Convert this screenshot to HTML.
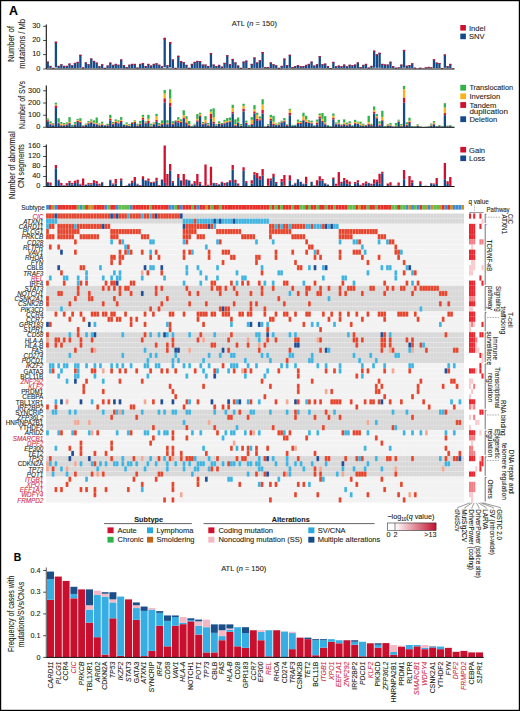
<!DOCTYPE html>
<html><head><meta charset="utf-8"><style>
html,body{margin:0;padding:0;background:#fff;}
body{width:520px;height:711px;overflow:hidden;font-family:"Liberation Sans", sans-serif;}
svg{display:block;}
</style></head><body>
<svg width="520" height="711" viewBox="0 0 520 711" font-family='"Liberation Sans", sans-serif'>
<rect x="0" y="0" width="520" height="711" fill="#fff"/>
<text x="9" y="14.7" font-size="12.4" fill="#000" stroke="#000" stroke-width="0.1" font-weight="bold" stroke="#000" stroke-width="0.45">A</text>
<text x="13.8" y="561.3" font-size="10.4" fill="#000" stroke="#000" stroke-width="0.1" font-weight="bold" stroke="#000" stroke-width="0.4">B</text>
<text x="231.7" y="26.3" font-size="7.2" fill="#231f20" stroke="#231f20" stroke-width="0.1" textLength="45.2" lengthAdjust="spacingAndGlyphs">ATL (<tspan font-style="italic">n</tspan> = 150)</text>
<line x1="46.3" y1="24.5" x2="46.3" y2="69" stroke="#111" stroke-width="1.1"/>
<line x1="43.1" y1="26.3" x2="46.3" y2="26.3" stroke="#231f20" stroke-width="0.8"/>
<text x="40.4" y="28.1" font-size="7.4" fill="#231f20" stroke="#231f20" stroke-width="0.1" text-anchor="end">30</text>
<line x1="43.1" y1="40.5" x2="46.3" y2="40.5" stroke="#231f20" stroke-width="0.8"/>
<text x="40.4" y="42.3" font-size="7.4" fill="#231f20" stroke="#231f20" stroke-width="0.1" text-anchor="end">20</text>
<line x1="43.1" y1="54.6" x2="46.3" y2="54.6" stroke="#231f20" stroke-width="0.8"/>
<text x="40.4" y="56.4" font-size="7.4" fill="#231f20" stroke="#231f20" stroke-width="0.1" text-anchor="end">10</text>
<line x1="43.1" y1="69" x2="46.3" y2="69" stroke="#231f20" stroke-width="0.8"/>
<text x="40.4" y="70.8" font-size="7.4" fill="#231f20" stroke="#231f20" stroke-width="0.1" text-anchor="end">0</text>
<rect x="46.6" y="61.6" width="2.3" height="6.47" fill="#154b88"/>
<rect x="46.6" y="61.6" width="2.3" height="0.93" fill="#d0102f"/>
<rect x="49.32" y="65.87" width="2.3" height="2.33" fill="#154b88"/>
<rect x="49.32" y="65.87" width="2.3" height="0.8" fill="#d0102f"/>
<rect x="52.04" y="67.86" width="2.3" height="0.4" fill="#154b88"/>
<rect x="52.04" y="67.86" width="2.3" height="0.74" fill="#d0102f"/>
<rect x="54.76" y="41.68" width="2.3" height="25.76" fill="#154b88"/>
<rect x="54.76" y="41.68" width="2.3" height="1.56" fill="#d0102f"/>
<rect x="57.48" y="65.87" width="2.3" height="2.33" fill="#154b88"/>
<rect x="57.48" y="65.87" width="2.3" height="0.8" fill="#d0102f"/>
<rect x="60.2" y="64.3" width="2.3" height="3.85" fill="#154b88"/>
<rect x="60.2" y="64.3" width="2.3" height="0.85" fill="#d0102f"/>
<rect x="62.92" y="65.87" width="2.3" height="2.33" fill="#154b88"/>
<rect x="62.92" y="65.87" width="2.3" height="0.8" fill="#d0102f"/>
<rect x="65.64" y="65.87" width="2.3" height="2.33" fill="#154b88"/>
<rect x="65.64" y="65.87" width="2.3" height="0.8" fill="#d0102f"/>
<rect x="68.36" y="63.59" width="2.3" height="4.54" fill="#154b88"/>
<rect x="68.36" y="63.59" width="2.3" height="0.87" fill="#d0102f"/>
<rect x="71.08" y="65.3" width="2.3" height="2.88" fill="#154b88"/>
<rect x="71.08" y="65.3" width="2.3" height="0.82" fill="#d0102f"/>
<rect x="73.8" y="62.88" width="2.3" height="5.23" fill="#154b88"/>
<rect x="73.8" y="62.88" width="2.3" height="0.89" fill="#d0102f"/>
<rect x="76.52" y="61.88" width="2.3" height="6.19" fill="#154b88"/>
<rect x="76.52" y="61.88" width="2.3" height="0.92" fill="#d0102f"/>
<rect x="79.24" y="54.77" width="2.3" height="13.08" fill="#154b88"/>
<rect x="79.24" y="54.77" width="2.3" height="1.15" fill="#d0102f"/>
<rect x="81.96" y="67.43" width="2.3" height="0.82" fill="#154b88"/>
<rect x="81.96" y="67.43" width="2.3" height="0.75" fill="#d0102f"/>
<rect x="84.68" y="62.45" width="2.3" height="5.64" fill="#154b88"/>
<rect x="84.68" y="62.45" width="2.3" height="0.91" fill="#d0102f"/>
<rect x="87.4" y="64.3" width="2.3" height="3.85" fill="#154b88"/>
<rect x="87.4" y="64.3" width="2.3" height="0.85" fill="#d0102f"/>
<rect x="90.12" y="58.47" width="2.3" height="9.5" fill="#154b88"/>
<rect x="90.12" y="58.47" width="2.3" height="1.03" fill="#d0102f"/>
<rect x="92.84" y="60.89" width="2.3" height="7.15" fill="#154b88"/>
<rect x="92.84" y="60.89" width="2.3" height="0.96" fill="#d0102f"/>
<rect x="95.56" y="62.6" width="2.3" height="5.5" fill="#154b88"/>
<rect x="95.56" y="62.6" width="2.3" height="0.9" fill="#d0102f"/>
<rect x="98.28" y="66.3" width="2.3" height="1.92" fill="#154b88"/>
<rect x="98.28" y="66.3" width="2.3" height="0.79" fill="#d0102f"/>
<rect x="101" y="64.3" width="2.3" height="3.85" fill="#154b88"/>
<rect x="101" y="64.3" width="2.3" height="0.85" fill="#d0102f"/>
<rect x="103.72" y="67.86" width="2.3" height="0.4" fill="#154b88"/>
<rect x="103.72" y="67.86" width="2.3" height="0.74" fill="#d0102f"/>
<rect x="106.44" y="65.58" width="2.3" height="2.61" fill="#154b88"/>
<rect x="106.44" y="65.58" width="2.3" height="0.81" fill="#d0102f"/>
<rect x="109.16" y="62.6" width="2.3" height="5.5" fill="#154b88"/>
<rect x="109.16" y="62.6" width="2.3" height="0.9" fill="#d0102f"/>
<rect x="111.88" y="64.87" width="2.3" height="3.3" fill="#154b88"/>
<rect x="111.88" y="64.87" width="2.3" height="0.83" fill="#d0102f"/>
<rect x="114.6" y="63.88" width="2.3" height="4.26" fill="#154b88"/>
<rect x="114.6" y="63.88" width="2.3" height="0.86" fill="#d0102f"/>
<rect x="117.32" y="64.73" width="2.3" height="3.43" fill="#154b88"/>
<rect x="117.32" y="64.73" width="2.3" height="0.83" fill="#d0102f"/>
<rect x="120.04" y="59.47" width="2.3" height="8.53" fill="#154b88"/>
<rect x="120.04" y="59.47" width="2.3" height="1" fill="#d0102f"/>
<rect x="122.76" y="65.16" width="2.3" height="3.02" fill="#154b88"/>
<rect x="122.76" y="65.16" width="2.3" height="0.82" fill="#d0102f"/>
<rect x="125.48" y="67.01" width="2.3" height="1.23" fill="#154b88"/>
<rect x="125.48" y="67.01" width="2.3" height="0.76" fill="#d0102f"/>
<rect x="128.2" y="64.73" width="2.3" height="3.43" fill="#154b88"/>
<rect x="128.2" y="64.73" width="2.3" height="0.83" fill="#d0102f"/>
<rect x="130.92" y="63.88" width="2.3" height="4.26" fill="#154b88"/>
<rect x="130.92" y="63.88" width="2.3" height="0.86" fill="#d0102f"/>
<rect x="133.64" y="63.88" width="2.3" height="4.26" fill="#154b88"/>
<rect x="133.64" y="63.88" width="2.3" height="0.86" fill="#d0102f"/>
<rect x="136.36" y="67.58" width="2.3" height="0.68" fill="#154b88"/>
<rect x="136.36" y="67.58" width="2.3" height="0.74" fill="#d0102f"/>
<rect x="139.08" y="63.88" width="2.3" height="4.26" fill="#154b88"/>
<rect x="139.08" y="63.88" width="2.3" height="0.86" fill="#d0102f"/>
<rect x="141.8" y="63.02" width="2.3" height="5.09" fill="#154b88"/>
<rect x="141.8" y="63.02" width="2.3" height="0.89" fill="#d0102f"/>
<rect x="144.52" y="66.01" width="2.3" height="2.19" fill="#154b88"/>
<rect x="144.52" y="66.01" width="2.3" height="0.79" fill="#d0102f"/>
<rect x="147.24" y="63.88" width="2.3" height="4.26" fill="#154b88"/>
<rect x="147.24" y="63.88" width="2.3" height="0.86" fill="#d0102f"/>
<rect x="149.96" y="65.58" width="2.3" height="2.61" fill="#154b88"/>
<rect x="149.96" y="65.58" width="2.3" height="0.81" fill="#d0102f"/>
<rect x="152.68" y="63.88" width="2.3" height="4.26" fill="#154b88"/>
<rect x="152.68" y="63.88" width="2.3" height="0.86" fill="#d0102f"/>
<rect x="155.4" y="63.31" width="2.3" height="4.81" fill="#154b88"/>
<rect x="155.4" y="63.31" width="2.3" height="0.88" fill="#d0102f"/>
<rect x="158.12" y="64.73" width="2.3" height="3.43" fill="#154b88"/>
<rect x="158.12" y="64.73" width="2.3" height="0.83" fill="#d0102f"/>
<rect x="160.84" y="66.3" width="2.3" height="1.92" fill="#154b88"/>
<rect x="160.84" y="66.3" width="2.3" height="0.79" fill="#d0102f"/>
<rect x="163.56" y="37.84" width="2.3" height="29.48" fill="#154b88"/>
<rect x="163.56" y="37.84" width="2.3" height="1.69" fill="#d0102f"/>
<rect x="166.28" y="65.3" width="2.3" height="2.88" fill="#154b88"/>
<rect x="166.28" y="65.3" width="2.3" height="0.82" fill="#d0102f"/>
<rect x="169" y="42.11" width="2.3" height="25.34" fill="#154b88"/>
<rect x="169" y="42.11" width="2.3" height="1.55" fill="#d0102f"/>
<rect x="171.72" y="59.47" width="2.3" height="8.53" fill="#154b88"/>
<rect x="171.72" y="59.47" width="2.3" height="1" fill="#d0102f"/>
<rect x="174.44" y="67.86" width="2.3" height="0.4" fill="#154b88"/>
<rect x="174.44" y="67.86" width="2.3" height="0.74" fill="#d0102f"/>
<rect x="177.16" y="55.77" width="2.3" height="12.12" fill="#154b88"/>
<rect x="177.16" y="55.77" width="2.3" height="1.12" fill="#d0102f"/>
<rect x="179.88" y="61.17" width="2.3" height="6.88" fill="#154b88"/>
<rect x="179.88" y="61.17" width="2.3" height="0.95" fill="#d0102f"/>
<rect x="182.6" y="62.17" width="2.3" height="5.91" fill="#154b88"/>
<rect x="182.6" y="62.17" width="2.3" height="0.92" fill="#d0102f"/>
<rect x="185.32" y="64.87" width="2.3" height="3.3" fill="#154b88"/>
<rect x="185.32" y="64.87" width="2.3" height="0.83" fill="#d0102f"/>
<rect x="188.04" y="67.86" width="2.3" height="0.4" fill="#154b88"/>
<rect x="188.04" y="67.86" width="2.3" height="0.74" fill="#d0102f"/>
<rect x="190.76" y="63.88" width="2.3" height="4.26" fill="#154b88"/>
<rect x="190.76" y="63.88" width="2.3" height="0.86" fill="#d0102f"/>
<rect x="193.48" y="61.88" width="2.3" height="6.19" fill="#154b88"/>
<rect x="193.48" y="61.88" width="2.3" height="0.92" fill="#d0102f"/>
<rect x="196.2" y="60.89" width="2.3" height="7.15" fill="#154b88"/>
<rect x="196.2" y="60.89" width="2.3" height="0.96" fill="#d0102f"/>
<rect x="198.92" y="61.17" width="2.3" height="6.88" fill="#154b88"/>
<rect x="198.92" y="61.17" width="2.3" height="0.95" fill="#d0102f"/>
<rect x="201.64" y="64.59" width="2.3" height="3.57" fill="#154b88"/>
<rect x="201.64" y="64.59" width="2.3" height="0.84" fill="#d0102f"/>
<rect x="204.36" y="64.59" width="2.3" height="3.57" fill="#154b88"/>
<rect x="204.36" y="64.59" width="2.3" height="0.84" fill="#d0102f"/>
<rect x="207.08" y="66.01" width="2.3" height="2.19" fill="#154b88"/>
<rect x="207.08" y="66.01" width="2.3" height="0.79" fill="#d0102f"/>
<rect x="209.8" y="53.06" width="2.3" height="14.73" fill="#154b88"/>
<rect x="209.8" y="53.06" width="2.3" height="1.2" fill="#d0102f"/>
<rect x="212.52" y="64.59" width="2.3" height="3.57" fill="#154b88"/>
<rect x="212.52" y="64.59" width="2.3" height="0.84" fill="#d0102f"/>
<rect x="215.24" y="66.01" width="2.3" height="2.19" fill="#154b88"/>
<rect x="215.24" y="66.01" width="2.3" height="0.79" fill="#d0102f"/>
<rect x="217.96" y="64.87" width="2.3" height="3.3" fill="#154b88"/>
<rect x="217.96" y="64.87" width="2.3" height="0.83" fill="#d0102f"/>
<rect x="220.68" y="66.58" width="2.3" height="1.64" fill="#154b88"/>
<rect x="220.68" y="66.58" width="2.3" height="0.78" fill="#d0102f"/>
<rect x="223.4" y="62.88" width="2.3" height="5.23" fill="#154b88"/>
<rect x="223.4" y="62.88" width="2.3" height="0.89" fill="#d0102f"/>
<rect x="226.12" y="55.2" width="2.3" height="12.67" fill="#154b88"/>
<rect x="226.12" y="55.2" width="2.3" height="1.14" fill="#d0102f"/>
<rect x="228.84" y="64.3" width="2.3" height="3.85" fill="#154b88"/>
<rect x="228.84" y="64.3" width="2.3" height="0.85" fill="#d0102f"/>
<rect x="231.56" y="58.9" width="2.3" height="9.08" fill="#154b88"/>
<rect x="231.56" y="58.9" width="2.3" height="1.02" fill="#d0102f"/>
<rect x="234.28" y="62.45" width="2.3" height="5.64" fill="#154b88"/>
<rect x="234.28" y="62.45" width="2.3" height="0.91" fill="#d0102f"/>
<rect x="237" y="65.58" width="2.3" height="2.61" fill="#154b88"/>
<rect x="237" y="65.58" width="2.3" height="0.81" fill="#d0102f"/>
<rect x="239.72" y="67.86" width="2.3" height="0.4" fill="#154b88"/>
<rect x="239.72" y="67.86" width="2.3" height="0.74" fill="#d0102f"/>
<rect x="242.44" y="61.6" width="2.3" height="6.47" fill="#154b88"/>
<rect x="242.44" y="61.6" width="2.3" height="0.93" fill="#d0102f"/>
<rect x="245.16" y="60.6" width="2.3" height="7.43" fill="#154b88"/>
<rect x="245.16" y="60.6" width="2.3" height="0.97" fill="#d0102f"/>
<rect x="247.88" y="68.29" width="2.3" height="0.71" fill="#d0102f"/>
<rect x="250.6" y="63.88" width="2.3" height="4.26" fill="#154b88"/>
<rect x="250.6" y="63.88" width="2.3" height="0.86" fill="#d0102f"/>
<rect x="253.32" y="57.47" width="2.3" height="10.46" fill="#154b88"/>
<rect x="253.32" y="57.47" width="2.3" height="1.06" fill="#d0102f"/>
<rect x="256.04" y="62.45" width="2.3" height="5.64" fill="#154b88"/>
<rect x="256.04" y="62.45" width="2.3" height="0.91" fill="#d0102f"/>
<rect x="258.76" y="60.18" width="2.3" height="7.84" fill="#154b88"/>
<rect x="258.76" y="60.18" width="2.3" height="0.98" fill="#d0102f"/>
<rect x="261.48" y="52.07" width="2.3" height="15.7" fill="#154b88"/>
<rect x="261.48" y="52.07" width="2.3" height="1.24" fill="#d0102f"/>
<rect x="264.2" y="67.01" width="2.3" height="1.23" fill="#154b88"/>
<rect x="264.2" y="67.01" width="2.3" height="0.76" fill="#d0102f"/>
<rect x="266.92" y="67.01" width="2.3" height="1.23" fill="#154b88"/>
<rect x="266.92" y="67.01" width="2.3" height="0.76" fill="#d0102f"/>
<rect x="269.64" y="62.45" width="2.3" height="5.64" fill="#154b88"/>
<rect x="269.64" y="62.45" width="2.3" height="0.91" fill="#d0102f"/>
<rect x="272.36" y="64.3" width="2.3" height="3.85" fill="#154b88"/>
<rect x="272.36" y="64.3" width="2.3" height="0.85" fill="#d0102f"/>
<rect x="275.08" y="65.3" width="2.3" height="2.88" fill="#154b88"/>
<rect x="275.08" y="65.3" width="2.3" height="0.82" fill="#d0102f"/>
<rect x="277.8" y="67.86" width="2.3" height="0.4" fill="#154b88"/>
<rect x="277.8" y="67.86" width="2.3" height="0.74" fill="#d0102f"/>
<rect x="280.52" y="65.87" width="2.3" height="2.33" fill="#154b88"/>
<rect x="280.52" y="65.87" width="2.3" height="0.8" fill="#d0102f"/>
<rect x="283.24" y="58.61" width="2.3" height="9.36" fill="#154b88"/>
<rect x="283.24" y="58.61" width="2.3" height="1.03" fill="#d0102f"/>
<rect x="285.96" y="65.16" width="2.3" height="3.02" fill="#154b88"/>
<rect x="285.96" y="65.16" width="2.3" height="0.82" fill="#d0102f"/>
<rect x="288.68" y="54.77" width="2.3" height="13.08" fill="#154b88"/>
<rect x="288.68" y="54.77" width="2.3" height="1.15" fill="#d0102f"/>
<rect x="291.4" y="67.01" width="2.3" height="1.23" fill="#154b88"/>
<rect x="291.4" y="67.01" width="2.3" height="0.76" fill="#d0102f"/>
<rect x="294.12" y="66.01" width="2.3" height="2.19" fill="#154b88"/>
<rect x="294.12" y="66.01" width="2.3" height="0.79" fill="#d0102f"/>
<rect x="296.84" y="65.16" width="2.3" height="3.02" fill="#154b88"/>
<rect x="296.84" y="65.16" width="2.3" height="0.82" fill="#d0102f"/>
<rect x="299.56" y="66.3" width="2.3" height="1.92" fill="#154b88"/>
<rect x="299.56" y="66.3" width="2.3" height="0.79" fill="#d0102f"/>
<rect x="302.28" y="66.01" width="2.3" height="2.19" fill="#154b88"/>
<rect x="302.28" y="66.01" width="2.3" height="0.79" fill="#d0102f"/>
<rect x="305" y="64.87" width="2.3" height="3.3" fill="#154b88"/>
<rect x="305" y="64.87" width="2.3" height="0.83" fill="#d0102f"/>
<rect x="307.72" y="63.88" width="2.3" height="4.26" fill="#154b88"/>
<rect x="307.72" y="63.88" width="2.3" height="0.86" fill="#d0102f"/>
<rect x="310.44" y="61.6" width="2.3" height="6.47" fill="#154b88"/>
<rect x="310.44" y="61.6" width="2.3" height="0.93" fill="#d0102f"/>
<rect x="313.16" y="65.58" width="2.3" height="2.61" fill="#154b88"/>
<rect x="313.16" y="65.58" width="2.3" height="0.81" fill="#d0102f"/>
<rect x="315.88" y="64.3" width="2.3" height="3.85" fill="#154b88"/>
<rect x="315.88" y="64.3" width="2.3" height="0.85" fill="#d0102f"/>
<rect x="318.6" y="56.19" width="2.3" height="11.7" fill="#154b88"/>
<rect x="318.6" y="56.19" width="2.3" height="1.1" fill="#d0102f"/>
<rect x="321.32" y="64.3" width="2.3" height="3.85" fill="#154b88"/>
<rect x="321.32" y="64.3" width="2.3" height="0.85" fill="#d0102f"/>
<rect x="324.04" y="63.59" width="2.3" height="4.54" fill="#154b88"/>
<rect x="324.04" y="63.59" width="2.3" height="0.87" fill="#d0102f"/>
<rect x="326.76" y="66.01" width="2.3" height="2.19" fill="#154b88"/>
<rect x="326.76" y="66.01" width="2.3" height="0.79" fill="#d0102f"/>
<rect x="329.48" y="68.29" width="2.3" height="0.71" fill="#d0102f"/>
<rect x="332.2" y="61.88" width="2.3" height="6.19" fill="#154b88"/>
<rect x="332.2" y="61.88" width="2.3" height="0.92" fill="#d0102f"/>
<rect x="334.92" y="66.3" width="2.3" height="1.92" fill="#154b88"/>
<rect x="334.92" y="66.3" width="2.3" height="0.79" fill="#d0102f"/>
<rect x="337.64" y="65.58" width="2.3" height="2.61" fill="#154b88"/>
<rect x="337.64" y="65.58" width="2.3" height="0.81" fill="#d0102f"/>
<rect x="340.36" y="66.3" width="2.3" height="1.92" fill="#154b88"/>
<rect x="340.36" y="66.3" width="2.3" height="0.79" fill="#d0102f"/>
<rect x="343.08" y="64.59" width="2.3" height="3.57" fill="#154b88"/>
<rect x="343.08" y="64.59" width="2.3" height="0.84" fill="#d0102f"/>
<rect x="345.8" y="66.3" width="2.3" height="1.92" fill="#154b88"/>
<rect x="345.8" y="66.3" width="2.3" height="0.79" fill="#d0102f"/>
<rect x="348.52" y="64.73" width="2.3" height="3.43" fill="#154b88"/>
<rect x="348.52" y="64.73" width="2.3" height="0.83" fill="#d0102f"/>
<rect x="351.24" y="65.3" width="2.3" height="2.88" fill="#154b88"/>
<rect x="351.24" y="65.3" width="2.3" height="0.82" fill="#d0102f"/>
<rect x="353.96" y="64.59" width="2.3" height="3.57" fill="#154b88"/>
<rect x="353.96" y="64.59" width="2.3" height="0.84" fill="#d0102f"/>
<rect x="356.68" y="62.45" width="2.3" height="5.64" fill="#154b88"/>
<rect x="356.68" y="62.45" width="2.3" height="0.91" fill="#d0102f"/>
<rect x="359.4" y="67.01" width="2.3" height="1.23" fill="#154b88"/>
<rect x="359.4" y="67.01" width="2.3" height="0.76" fill="#d0102f"/>
<rect x="362.12" y="64.87" width="2.3" height="3.3" fill="#154b88"/>
<rect x="362.12" y="64.87" width="2.3" height="0.83" fill="#d0102f"/>
<rect x="364.84" y="63.88" width="2.3" height="4.26" fill="#154b88"/>
<rect x="364.84" y="63.88" width="2.3" height="0.86" fill="#d0102f"/>
<rect x="367.56" y="67.58" width="2.3" height="0.68" fill="#154b88"/>
<rect x="367.56" y="67.58" width="2.3" height="0.74" fill="#d0102f"/>
<rect x="370.28" y="65.87" width="2.3" height="2.33" fill="#154b88"/>
<rect x="370.28" y="65.87" width="2.3" height="0.8" fill="#d0102f"/>
<rect x="373" y="50.64" width="2.3" height="17.08" fill="#154b88"/>
<rect x="373" y="50.64" width="2.3" height="1.28" fill="#d0102f"/>
<rect x="375.72" y="54.34" width="2.3" height="13.49" fill="#154b88"/>
<rect x="375.72" y="54.34" width="2.3" height="1.16" fill="#d0102f"/>
<rect x="378.44" y="52.78" width="2.3" height="15.01" fill="#154b88"/>
<rect x="378.44" y="52.78" width="2.3" height="1.21" fill="#d0102f"/>
<rect x="381.16" y="63.88" width="2.3" height="4.26" fill="#154b88"/>
<rect x="381.16" y="63.88" width="2.3" height="0.86" fill="#d0102f"/>
<rect x="383.88" y="64.45" width="2.3" height="3.71" fill="#154b88"/>
<rect x="383.88" y="64.45" width="2.3" height="0.84" fill="#d0102f"/>
<rect x="386.6" y="64.59" width="2.3" height="3.57" fill="#154b88"/>
<rect x="386.6" y="64.59" width="2.3" height="0.84" fill="#d0102f"/>
<rect x="389.32" y="61.74" width="2.3" height="6.33" fill="#154b88"/>
<rect x="389.32" y="61.74" width="2.3" height="0.93" fill="#d0102f"/>
<rect x="392.04" y="66.15" width="2.3" height="2.06" fill="#154b88"/>
<rect x="392.04" y="66.15" width="2.3" height="0.79" fill="#d0102f"/>
<rect x="394.76" y="67.72" width="2.3" height="0.54" fill="#154b88"/>
<rect x="394.76" y="67.72" width="2.3" height="0.74" fill="#d0102f"/>
<rect x="397.48" y="67.43" width="2.3" height="0.82" fill="#154b88"/>
<rect x="397.48" y="67.43" width="2.3" height="0.75" fill="#d0102f"/>
<rect x="400.2" y="64.59" width="2.3" height="3.57" fill="#154b88"/>
<rect x="400.2" y="64.59" width="2.3" height="0.84" fill="#d0102f"/>
<rect x="402.92" y="49.93" width="2.3" height="17.77" fill="#154b88"/>
<rect x="402.92" y="49.93" width="2.3" height="1.3" fill="#d0102f"/>
<rect x="405.64" y="65.73" width="2.3" height="2.47" fill="#154b88"/>
<rect x="405.64" y="65.73" width="2.3" height="0.8" fill="#d0102f"/>
<rect x="408.36" y="65.02" width="2.3" height="3.16" fill="#154b88"/>
<rect x="408.36" y="65.02" width="2.3" height="0.83" fill="#d0102f"/>
<rect x="411.08" y="63.31" width="2.3" height="4.81" fill="#154b88"/>
<rect x="411.08" y="63.31" width="2.3" height="0.88" fill="#d0102f"/>
<rect x="413.8" y="67.72" width="2.3" height="0.54" fill="#154b88"/>
<rect x="413.8" y="67.72" width="2.3" height="0.74" fill="#d0102f"/>
<rect x="416.52" y="68.72" width="2.3" height="0.28" fill="#d0102f"/>
<rect x="419.24" y="67.72" width="2.3" height="0.54" fill="#154b88"/>
<rect x="419.24" y="67.72" width="2.3" height="0.74" fill="#d0102f"/>
<rect x="421.96" y="68.72" width="2.3" height="0.28" fill="#d0102f"/>
<rect x="424.68" y="67.43" width="2.3" height="0.82" fill="#154b88"/>
<rect x="424.68" y="67.43" width="2.3" height="0.75" fill="#d0102f"/>
<rect x="427.4" y="66.87" width="2.3" height="1.37" fill="#154b88"/>
<rect x="427.4" y="66.87" width="2.3" height="0.77" fill="#d0102f"/>
<rect x="430.12" y="67.43" width="2.3" height="0.82" fill="#154b88"/>
<rect x="430.12" y="67.43" width="2.3" height="0.75" fill="#d0102f"/>
<rect x="432.84" y="59.32" width="2.3" height="8.67" fill="#154b88"/>
<rect x="432.84" y="59.32" width="2.3" height="1.01" fill="#d0102f"/>
<rect x="435.56" y="62.6" width="2.3" height="5.5" fill="#154b88"/>
<rect x="435.56" y="62.6" width="2.3" height="0.9" fill="#d0102f"/>
<rect x="438.28" y="63.02" width="2.3" height="5.09" fill="#154b88"/>
<rect x="438.28" y="63.02" width="2.3" height="0.89" fill="#d0102f"/>
<rect x="441" y="68.15" width="2.3" height="0.13" fill="#154b88"/>
<rect x="441" y="68.15" width="2.3" height="0.73" fill="#d0102f"/>
<rect x="443.72" y="54.49" width="2.3" height="13.36" fill="#154b88"/>
<rect x="443.72" y="54.49" width="2.3" height="1.16" fill="#d0102f"/>
<rect x="446.44" y="66.15" width="2.3" height="2.06" fill="#154b88"/>
<rect x="446.44" y="66.15" width="2.3" height="0.79" fill="#d0102f"/>
<rect x="449.16" y="63.88" width="2.3" height="4.26" fill="#154b88"/>
<rect x="449.16" y="63.88" width="2.3" height="0.86" fill="#d0102f"/>
<rect x="451.88" y="68.43" width="2.3" height="0.57" fill="#d0102f"/>
<line x1="46.3" y1="69" x2="454.6" y2="69" stroke="#111" stroke-width="1"/>
<text x="14.4" y="44" font-size="9" fill="#231f20" stroke="#231f20" stroke-width="0.1" text-anchor="middle" textLength="35.5" lengthAdjust="spacingAndGlyphs" transform="rotate(-90 14.4 44)">Number of</text>
<text x="25.2" y="43.8" font-size="9" fill="#231f20" stroke="#231f20" stroke-width="0.1" text-anchor="middle" textLength="49.7" lengthAdjust="spacingAndGlyphs" transform="rotate(-90 25.2 43.8)">mutations / Mb</text>
<rect x="460.3" y="25" width="5.6" height="5.6" fill="#d0102f"/>
<text x="469" y="30.7" font-size="7.6" fill="#231f20" stroke="#231f20" stroke-width="0.1">Indel</text>
<rect x="460.3" y="33.6" width="5.6" height="5.6" fill="#154b88"/>
<text x="469" y="39.3" font-size="7.6" fill="#231f20" stroke="#231f20" stroke-width="0.1">SNV</text>
<line x1="46.3" y1="85.5" x2="46.3" y2="127.3" stroke="#111" stroke-width="1.1"/>
<line x1="43.1" y1="90.75" x2="46.3" y2="90.75" stroke="#231f20" stroke-width="0.8"/>
<text x="40.4" y="92.55" font-size="7.4" fill="#231f20" stroke="#231f20" stroke-width="0.1" text-anchor="end">300</text>
<line x1="43.1" y1="103" x2="46.3" y2="103" stroke="#231f20" stroke-width="0.8"/>
<text x="40.4" y="104.8" font-size="7.4" fill="#231f20" stroke="#231f20" stroke-width="0.1" text-anchor="end">200</text>
<line x1="43.1" y1="115.25" x2="46.3" y2="115.25" stroke="#231f20" stroke-width="0.8"/>
<text x="40.4" y="117.05" font-size="7.4" fill="#231f20" stroke="#231f20" stroke-width="0.1" text-anchor="end">100</text>
<line x1="43.1" y1="127.3" x2="46.3" y2="127.3" stroke="#231f20" stroke-width="0.8"/>
<text x="40.4" y="129.1" font-size="7.4" fill="#231f20" stroke="#231f20" stroke-width="0.1" text-anchor="end">0</text>
<rect x="46.6" y="121.3" width="2.3" height="6" fill="#154b88"/>
<rect x="46.6" y="120.19" width="2.3" height="1.1" fill="#d0102f"/>
<rect x="46.6" y="119.58" width="2.3" height="0.61" fill="#f8b319"/>
<rect x="46.6" y="118.48" width="2.3" height="1.1" fill="#2fb24a"/>
<rect x="49.32" y="124.36" width="2.3" height="2.94" fill="#154b88"/>
<rect x="49.32" y="123.5" width="2.3" height="0.86" fill="#d0102f"/>
<rect x="49.32" y="123.01" width="2.3" height="0.49" fill="#f8b319"/>
<rect x="49.32" y="121.3" width="2.3" height="1.71" fill="#2fb24a"/>
<rect x="52.04" y="125.34" width="2.3" height="1.96" fill="#154b88"/>
<rect x="52.04" y="124.36" width="2.3" height="0.98" fill="#d0102f"/>
<rect x="52.04" y="123.75" width="2.3" height="0.61" fill="#f8b319"/>
<rect x="52.04" y="123.01" width="2.3" height="0.73" fill="#2fb24a"/>
<rect x="54.76" y="107.94" width="2.3" height="19.36" fill="#154b88"/>
<rect x="54.76" y="105.5" width="2.3" height="2.45" fill="#d0102f"/>
<rect x="54.76" y="104.39" width="2.3" height="1.1" fill="#f8b319"/>
<rect x="54.76" y="102.68" width="2.3" height="1.71" fill="#2fb24a"/>
<rect x="57.48" y="123.5" width="2.3" height="3.8" fill="#154b88"/>
<rect x="57.48" y="122.77" width="2.3" height="0.73" fill="#d0102f"/>
<rect x="57.48" y="122.4" width="2.3" height="0.37" fill="#f8b319"/>
<rect x="57.48" y="118.23" width="2.3" height="4.17" fill="#2fb24a"/>
<rect x="60.2" y="125.83" width="2.3" height="1.47" fill="#154b88"/>
<rect x="60.2" y="125.09" width="2.3" height="0.73" fill="#d0102f"/>
<rect x="60.2" y="123.75" width="2.3" height="1.35" fill="#f8b319"/>
<rect x="60.2" y="122.03" width="2.3" height="1.71" fill="#2fb24a"/>
<rect x="62.92" y="125.83" width="2.3" height="1.47" fill="#154b88"/>
<rect x="62.92" y="125.09" width="2.3" height="0.73" fill="#d0102f"/>
<rect x="62.92" y="124.36" width="2.3" height="0.73" fill="#f8b319"/>
<rect x="62.92" y="123.01" width="2.3" height="1.35" fill="#2fb24a"/>
<rect x="65.64" y="125.09" width="2.3" height="2.21" fill="#154b88"/>
<rect x="65.64" y="124.36" width="2.3" height="0.73" fill="#d0102f"/>
<rect x="65.64" y="123.75" width="2.3" height="0.61" fill="#f8b319"/>
<rect x="65.64" y="122.4" width="2.3" height="1.35" fill="#2fb24a"/>
<rect x="68.36" y="123.99" width="2.3" height="3.31" fill="#154b88"/>
<rect x="68.36" y="123.01" width="2.3" height="0.98" fill="#d0102f"/>
<rect x="68.36" y="122.03" width="2.3" height="0.98" fill="#f8b319"/>
<rect x="68.36" y="117.13" width="2.3" height="4.9" fill="#2fb24a"/>
<rect x="71.08" y="126.44" width="2.3" height="0.86" fill="#154b88"/>
<rect x="71.08" y="124.85" width="2.3" height="1.59" fill="#2fb24a"/>
<rect x="73.8" y="125.09" width="2.3" height="2.21" fill="#154b88"/>
<rect x="73.8" y="124.36" width="2.3" height="0.73" fill="#d0102f"/>
<rect x="73.8" y="123.75" width="2.3" height="0.61" fill="#f8b319"/>
<rect x="73.8" y="122.03" width="2.3" height="1.71" fill="#2fb24a"/>
<rect x="76.52" y="122.03" width="2.3" height="5.27" fill="#154b88"/>
<rect x="76.52" y="120.93" width="2.3" height="1.1" fill="#d0102f"/>
<rect x="76.52" y="119.95" width="2.3" height="0.98" fill="#f8b319"/>
<rect x="76.52" y="118.85" width="2.3" height="1.1" fill="#2fb24a"/>
<rect x="79.24" y="122.89" width="2.3" height="4.41" fill="#154b88"/>
<rect x="79.24" y="121.91" width="2.3" height="0.98" fill="#d0102f"/>
<rect x="79.24" y="120.93" width="2.3" height="0.98" fill="#f8b319"/>
<rect x="79.24" y="118.23" width="2.3" height="2.69" fill="#2fb24a"/>
<rect x="81.96" y="126.44" width="2.3" height="0.86" fill="#154b88"/>
<rect x="81.96" y="125.95" width="2.3" height="0.49" fill="#d0102f"/>
<rect x="81.96" y="125.34" width="2.3" height="0.61" fill="#2fb24a"/>
<rect x="84.68" y="125.09" width="2.3" height="2.21" fill="#154b88"/>
<rect x="84.68" y="124.61" width="2.3" height="0.49" fill="#d0102f"/>
<rect x="84.68" y="123.99" width="2.3" height="0.61" fill="#f8b319"/>
<rect x="84.68" y="123.5" width="2.3" height="0.49" fill="#2fb24a"/>
<rect x="87.4" y="123.5" width="2.3" height="3.8" fill="#154b88"/>
<rect x="87.4" y="122.64" width="2.3" height="0.86" fill="#d0102f"/>
<rect x="87.4" y="122.03" width="2.3" height="0.61" fill="#f8b319"/>
<rect x="87.4" y="120.93" width="2.3" height="1.1" fill="#2fb24a"/>
<rect x="90.12" y="122.64" width="2.3" height="4.66" fill="#154b88"/>
<rect x="90.12" y="121.66" width="2.3" height="0.98" fill="#d0102f"/>
<rect x="90.12" y="120.69" width="2.3" height="0.98" fill="#f8b319"/>
<rect x="90.12" y="119.34" width="2.3" height="1.35" fill="#2fb24a"/>
<rect x="92.84" y="123.99" width="2.3" height="3.31" fill="#154b88"/>
<rect x="92.84" y="123.5" width="2.3" height="0.49" fill="#d0102f"/>
<rect x="92.84" y="122.64" width="2.3" height="0.86" fill="#f8b319"/>
<rect x="92.84" y="120.32" width="2.3" height="2.33" fill="#2fb24a"/>
<rect x="95.56" y="124.36" width="2.3" height="2.94" fill="#154b88"/>
<rect x="95.56" y="123.75" width="2.3" height="0.61" fill="#d0102f"/>
<rect x="95.56" y="123.01" width="2.3" height="0.73" fill="#f8b319"/>
<rect x="95.56" y="117.5" width="2.3" height="5.51" fill="#2fb24a"/>
<rect x="98.28" y="125.83" width="2.3" height="1.47" fill="#154b88"/>
<rect x="98.28" y="125.09" width="2.3" height="0.73" fill="#d0102f"/>
<rect x="98.28" y="124.36" width="2.3" height="0.73" fill="#f8b319"/>
<rect x="98.28" y="123.5" width="2.3" height="0.86" fill="#2fb24a"/>
<rect x="101" y="125.09" width="2.3" height="2.21" fill="#154b88"/>
<rect x="101" y="124.36" width="2.3" height="0.73" fill="#d0102f"/>
<rect x="101" y="123.5" width="2.3" height="0.86" fill="#f8b319"/>
<rect x="101" y="121.66" width="2.3" height="1.84" fill="#2fb24a"/>
<rect x="103.72" y="125.95" width="2.3" height="1.35" fill="#154b88"/>
<rect x="103.72" y="125.34" width="2.3" height="0.61" fill="#d0102f"/>
<rect x="103.72" y="124.85" width="2.3" height="0.49" fill="#2fb24a"/>
<rect x="106.44" y="125.83" width="2.3" height="1.47" fill="#154b88"/>
<rect x="106.44" y="125.09" width="2.3" height="0.73" fill="#d0102f"/>
<rect x="106.44" y="123.75" width="2.3" height="1.35" fill="#2fb24a"/>
<rect x="109.16" y="120.32" width="2.3" height="6.98" fill="#154b88"/>
<rect x="109.16" y="118.85" width="2.3" height="1.47" fill="#d0102f"/>
<rect x="109.16" y="117.99" width="2.3" height="0.86" fill="#f8b319"/>
<rect x="109.16" y="114.8" width="2.3" height="3.19" fill="#2fb24a"/>
<rect x="111.88" y="124.85" width="2.3" height="2.45" fill="#154b88"/>
<rect x="111.88" y="123.99" width="2.3" height="0.86" fill="#d0102f"/>
<rect x="111.88" y="123.01" width="2.3" height="0.98" fill="#f8b319"/>
<rect x="111.88" y="122.03" width="2.3" height="0.98" fill="#2fb24a"/>
<rect x="114.6" y="123.01" width="2.3" height="4.29" fill="#154b88"/>
<rect x="114.6" y="122.03" width="2.3" height="0.98" fill="#d0102f"/>
<rect x="114.6" y="120.93" width="2.3" height="1.1" fill="#f8b319"/>
<rect x="114.6" y="119.34" width="2.3" height="1.59" fill="#2fb24a"/>
<rect x="117.32" y="123.5" width="2.3" height="3.8" fill="#154b88"/>
<rect x="117.32" y="122.64" width="2.3" height="0.86" fill="#d0102f"/>
<rect x="117.32" y="121.66" width="2.3" height="0.98" fill="#f8b319"/>
<rect x="117.32" y="120.32" width="2.3" height="1.35" fill="#2fb24a"/>
<rect x="120.04" y="122.03" width="2.3" height="5.27" fill="#154b88"/>
<rect x="120.04" y="120.93" width="2.3" height="1.1" fill="#d0102f"/>
<rect x="120.04" y="119.83" width="2.3" height="1.1" fill="#f8b319"/>
<rect x="120.04" y="117.13" width="2.3" height="2.69" fill="#2fb24a"/>
<rect x="122.76" y="125.09" width="2.3" height="2.21" fill="#154b88"/>
<rect x="122.76" y="124.36" width="2.3" height="0.73" fill="#2fb24a"/>
<rect x="125.48" y="125.34" width="2.3" height="1.96" fill="#154b88"/>
<rect x="125.48" y="124.85" width="2.3" height="0.49" fill="#d0102f"/>
<rect x="125.48" y="123.75" width="2.3" height="1.1" fill="#f8b319"/>
<rect x="125.48" y="122.4" width="2.3" height="1.35" fill="#2fb24a"/>
<rect x="128.2" y="125.83" width="2.3" height="1.47" fill="#154b88"/>
<rect x="128.2" y="124.85" width="2.3" height="0.98" fill="#f8b319"/>
<rect x="128.2" y="123.99" width="2.3" height="0.86" fill="#2fb24a"/>
<rect x="130.92" y="123.99" width="2.3" height="3.31" fill="#154b88"/>
<rect x="130.92" y="123.01" width="2.3" height="0.98" fill="#d0102f"/>
<rect x="130.92" y="122.64" width="2.3" height="0.37" fill="#f8b319"/>
<rect x="130.92" y="122.03" width="2.3" height="0.61" fill="#2fb24a"/>
<rect x="133.64" y="123.01" width="2.3" height="4.29" fill="#154b88"/>
<rect x="133.64" y="122.03" width="2.3" height="0.98" fill="#d0102f"/>
<rect x="133.64" y="120.93" width="2.3" height="1.1" fill="#f8b319"/>
<rect x="133.64" y="120.32" width="2.3" height="0.61" fill="#2fb24a"/>
<rect x="136.36" y="125.83" width="2.3" height="1.47" fill="#154b88"/>
<rect x="136.36" y="125.34" width="2.3" height="0.49" fill="#d0102f"/>
<rect x="136.36" y="124.85" width="2.3" height="0.49" fill="#f8b319"/>
<rect x="136.36" y="123.75" width="2.3" height="1.1" fill="#2fb24a"/>
<rect x="139.08" y="124.85" width="2.3" height="2.45" fill="#154b88"/>
<rect x="139.08" y="123.99" width="2.3" height="0.86" fill="#d0102f"/>
<rect x="139.08" y="123.5" width="2.3" height="0.49" fill="#f8b319"/>
<rect x="139.08" y="120.93" width="2.3" height="2.57" fill="#2fb24a"/>
<rect x="141.8" y="119.58" width="2.3" height="7.72" fill="#154b88"/>
<rect x="141.8" y="117.99" width="2.3" height="1.59" fill="#d0102f"/>
<rect x="141.8" y="116.89" width="2.3" height="1.1" fill="#f8b319"/>
<rect x="141.8" y="114.8" width="2.3" height="2.08" fill="#2fb24a"/>
<rect x="144.52" y="123.75" width="2.3" height="3.55" fill="#154b88"/>
<rect x="144.52" y="123.01" width="2.3" height="0.73" fill="#d0102f"/>
<rect x="144.52" y="122.4" width="2.3" height="0.61" fill="#f8b319"/>
<rect x="144.52" y="121.3" width="2.3" height="1.1" fill="#2fb24a"/>
<rect x="147.24" y="123.01" width="2.3" height="4.29" fill="#154b88"/>
<rect x="147.24" y="120.69" width="2.3" height="2.33" fill="#d0102f"/>
<rect x="147.24" y="118.85" width="2.3" height="1.84" fill="#f8b319"/>
<rect x="147.24" y="114.8" width="2.3" height="4.04" fill="#2fb24a"/>
<rect x="149.96" y="126.44" width="2.3" height="0.86" fill="#154b88"/>
<rect x="149.96" y="126.2" width="2.3" height="0.24" fill="#d0102f"/>
<rect x="149.96" y="125.34" width="2.3" height="0.86" fill="#f8b319"/>
<rect x="149.96" y="123.75" width="2.3" height="1.59" fill="#2fb24a"/>
<rect x="152.68" y="124.36" width="2.3" height="2.94" fill="#154b88"/>
<rect x="152.68" y="123.75" width="2.3" height="0.61" fill="#d0102f"/>
<rect x="152.68" y="123.01" width="2.3" height="0.73" fill="#f8b319"/>
<rect x="152.68" y="122.4" width="2.3" height="0.61" fill="#2fb24a"/>
<rect x="155.4" y="121.66" width="2.3" height="5.63" fill="#154b88"/>
<rect x="155.4" y="119.83" width="2.3" height="1.84" fill="#d0102f"/>
<rect x="155.4" y="116.15" width="2.3" height="3.67" fill="#f8b319"/>
<rect x="155.4" y="113.83" width="2.3" height="2.33" fill="#2fb24a"/>
<rect x="158.12" y="125.83" width="2.3" height="1.47" fill="#154b88"/>
<rect x="158.12" y="125.34" width="2.3" height="0.49" fill="#d0102f"/>
<rect x="158.12" y="124.85" width="2.3" height="0.49" fill="#f8b319"/>
<rect x="158.12" y="123.01" width="2.3" height="1.84" fill="#2fb24a"/>
<rect x="160.84" y="124.85" width="2.3" height="2.45" fill="#154b88"/>
<rect x="160.84" y="123.99" width="2.3" height="0.86" fill="#d0102f"/>
<rect x="160.84" y="123.01" width="2.3" height="0.98" fill="#f8b319"/>
<rect x="160.84" y="120.32" width="2.3" height="2.69" fill="#2fb24a"/>
<rect x="163.56" y="102.43" width="2.3" height="24.87" fill="#154b88"/>
<rect x="163.56" y="98.27" width="2.3" height="4.17" fill="#d0102f"/>
<rect x="163.56" y="93.49" width="2.3" height="4.78" fill="#f8b319"/>
<rect x="163.56" y="90.06" width="2.3" height="3.43" fill="#2fb24a"/>
<rect x="166.28" y="124.36" width="2.3" height="2.94" fill="#154b88"/>
<rect x="166.28" y="123.5" width="2.3" height="0.86" fill="#d0102f"/>
<rect x="166.28" y="122.64" width="2.3" height="0.86" fill="#f8b319"/>
<rect x="166.28" y="120.32" width="2.3" height="2.33" fill="#2fb24a"/>
<rect x="169" y="106.47" width="2.3" height="20.82" fill="#154b88"/>
<rect x="169" y="103.05" width="2.3" height="3.43" fill="#d0102f"/>
<rect x="169" y="98.63" width="2.3" height="4.41" fill="#f8b319"/>
<rect x="169" y="89.32" width="2.3" height="9.31" fill="#2fb24a"/>
<rect x="171.72" y="124.85" width="2.3" height="2.45" fill="#154b88"/>
<rect x="171.72" y="123.99" width="2.3" height="0.86" fill="#d0102f"/>
<rect x="171.72" y="123.01" width="2.3" height="0.98" fill="#f8b319"/>
<rect x="171.72" y="121.3" width="2.3" height="1.71" fill="#2fb24a"/>
<rect x="174.44" y="121.66" width="2.3" height="5.63" fill="#154b88"/>
<rect x="174.44" y="120.93" width="2.3" height="0.73" fill="#d0102f"/>
<rect x="174.44" y="120.32" width="2.3" height="0.61" fill="#2fb24a"/>
<rect x="177.16" y="122.4" width="2.3" height="4.9" fill="#154b88"/>
<rect x="177.16" y="120.93" width="2.3" height="1.47" fill="#d0102f"/>
<rect x="177.16" y="119.58" width="2.3" height="1.35" fill="#f8b319"/>
<rect x="177.16" y="117.13" width="2.3" height="2.45" fill="#2fb24a"/>
<rect x="179.88" y="123.01" width="2.3" height="4.29" fill="#154b88"/>
<rect x="179.88" y="122.03" width="2.3" height="0.98" fill="#d0102f"/>
<rect x="179.88" y="120.93" width="2.3" height="1.1" fill="#f8b319"/>
<rect x="179.88" y="119.34" width="2.3" height="1.59" fill="#2fb24a"/>
<rect x="182.6" y="118.85" width="2.3" height="8.45" fill="#154b88"/>
<rect x="182.6" y="117.5" width="2.3" height="1.35" fill="#d0102f"/>
<rect x="182.6" y="115.17" width="2.3" height="2.33" fill="#f8b319"/>
<rect x="182.6" y="110.27" width="2.3" height="4.9" fill="#2fb24a"/>
<rect x="185.32" y="123.99" width="2.3" height="3.31" fill="#154b88"/>
<rect x="185.32" y="122.4" width="2.3" height="1.59" fill="#d0102f"/>
<rect x="185.32" y="118.85" width="2.3" height="3.55" fill="#f8b319"/>
<rect x="185.32" y="116.15" width="2.3" height="2.69" fill="#2fb24a"/>
<rect x="188.04" y="125.95" width="2.3" height="1.35" fill="#154b88"/>
<rect x="188.04" y="125.09" width="2.3" height="0.86" fill="#d0102f"/>
<rect x="188.04" y="123.99" width="2.3" height="1.1" fill="#f8b319"/>
<rect x="188.04" y="120.93" width="2.3" height="3.06" fill="#2fb24a"/>
<rect x="190.76" y="126.44" width="2.3" height="0.86" fill="#154b88"/>
<rect x="190.76" y="125.83" width="2.3" height="0.61" fill="#2fb24a"/>
<rect x="193.48" y="125.34" width="2.3" height="1.96" fill="#154b88"/>
<rect x="193.48" y="124.85" width="2.3" height="0.49" fill="#d0102f"/>
<rect x="193.48" y="124.36" width="2.3" height="0.49" fill="#f8b319"/>
<rect x="193.48" y="123.75" width="2.3" height="0.61" fill="#2fb24a"/>
<rect x="196.2" y="121.66" width="2.3" height="5.63" fill="#154b88"/>
<rect x="196.2" y="120.32" width="2.3" height="1.35" fill="#d0102f"/>
<rect x="196.2" y="118.85" width="2.3" height="1.47" fill="#f8b319"/>
<rect x="196.2" y="114.07" width="2.3" height="4.78" fill="#2fb24a"/>
<rect x="198.92" y="116.89" width="2.3" height="10.41" fill="#154b88"/>
<rect x="198.92" y="115.42" width="2.3" height="1.47" fill="#d0102f"/>
<rect x="198.92" y="114.07" width="2.3" height="1.35" fill="#f8b319"/>
<rect x="198.92" y="112.72" width="2.3" height="1.35" fill="#2fb24a"/>
<rect x="201.64" y="124.85" width="2.3" height="2.45" fill="#154b88"/>
<rect x="201.64" y="123.75" width="2.3" height="1.1" fill="#d0102f"/>
<rect x="201.64" y="123.01" width="2.3" height="0.73" fill="#f8b319"/>
<rect x="201.64" y="122.03" width="2.3" height="0.98" fill="#2fb24a"/>
<rect x="204.36" y="123.5" width="2.3" height="3.8" fill="#154b88"/>
<rect x="204.36" y="122.4" width="2.3" height="1.1" fill="#d0102f"/>
<rect x="204.36" y="119.83" width="2.3" height="2.57" fill="#f8b319"/>
<rect x="204.36" y="116.15" width="2.3" height="3.67" fill="#2fb24a"/>
<rect x="207.08" y="125.83" width="2.3" height="1.47" fill="#154b88"/>
<rect x="207.08" y="125.09" width="2.3" height="0.73" fill="#d0102f"/>
<rect x="207.08" y="124.36" width="2.3" height="0.73" fill="#f8b319"/>
<rect x="207.08" y="123.01" width="2.3" height="1.35" fill="#2fb24a"/>
<rect x="209.8" y="118.85" width="2.3" height="8.45" fill="#154b88"/>
<rect x="209.8" y="113.83" width="2.3" height="5.02" fill="#d0102f"/>
<rect x="209.8" y="111.62" width="2.3" height="2.21" fill="#f8b319"/>
<rect x="209.8" y="109.29" width="2.3" height="2.33" fill="#2fb24a"/>
<rect x="212.52" y="123.75" width="2.3" height="3.55" fill="#154b88"/>
<rect x="212.52" y="121.66" width="2.3" height="2.08" fill="#d0102f"/>
<rect x="212.52" y="117.5" width="2.3" height="4.17" fill="#f8b319"/>
<rect x="212.52" y="108.31" width="2.3" height="9.19" fill="#2fb24a"/>
<rect x="215.24" y="125.95" width="2.3" height="1.35" fill="#154b88"/>
<rect x="215.24" y="125.34" width="2.3" height="0.61" fill="#d0102f"/>
<rect x="215.24" y="124.85" width="2.3" height="0.49" fill="#f8b319"/>
<rect x="215.24" y="123.99" width="2.3" height="0.86" fill="#2fb24a"/>
<rect x="217.96" y="123.99" width="2.3" height="3.31" fill="#154b88"/>
<rect x="217.96" y="123.5" width="2.3" height="0.49" fill="#d0102f"/>
<rect x="217.96" y="123.01" width="2.3" height="0.49" fill="#f8b319"/>
<rect x="217.96" y="121.3" width="2.3" height="1.71" fill="#2fb24a"/>
<rect x="220.68" y="124.85" width="2.3" height="2.45" fill="#154b88"/>
<rect x="220.68" y="123.99" width="2.3" height="0.86" fill="#d0102f"/>
<rect x="220.68" y="123.01" width="2.3" height="0.98" fill="#2fb24a"/>
<rect x="223.4" y="123.5" width="2.3" height="3.8" fill="#154b88"/>
<rect x="223.4" y="122.64" width="2.3" height="0.86" fill="#d0102f"/>
<rect x="223.4" y="121.66" width="2.3" height="0.98" fill="#f8b319"/>
<rect x="223.4" y="119.83" width="2.3" height="1.84" fill="#2fb24a"/>
<rect x="226.12" y="122.64" width="2.3" height="4.66" fill="#154b88"/>
<rect x="226.12" y="122.03" width="2.3" height="0.61" fill="#d0102f"/>
<rect x="226.12" y="120.93" width="2.3" height="1.1" fill="#f8b319"/>
<rect x="226.12" y="117.99" width="2.3" height="2.94" fill="#2fb24a"/>
<rect x="228.84" y="122.03" width="2.3" height="5.27" fill="#154b88"/>
<rect x="228.84" y="121.3" width="2.3" height="0.73" fill="#d0102f"/>
<rect x="228.84" y="120.32" width="2.3" height="0.98" fill="#f8b319"/>
<rect x="228.84" y="117.5" width="2.3" height="2.82" fill="#2fb24a"/>
<rect x="231.56" y="113.46" width="2.3" height="13.84" fill="#154b88"/>
<rect x="231.56" y="111.62" width="2.3" height="1.84" fill="#d0102f"/>
<rect x="231.56" y="107.94" width="2.3" height="3.67" fill="#f8b319"/>
<rect x="231.56" y="104.76" width="2.3" height="3.19" fill="#2fb24a"/>
<rect x="234.28" y="125.83" width="2.3" height="1.47" fill="#154b88"/>
<rect x="234.28" y="125.09" width="2.3" height="0.73" fill="#d0102f"/>
<rect x="234.28" y="123.99" width="2.3" height="1.1" fill="#f8b319"/>
<rect x="234.28" y="119.34" width="2.3" height="4.66" fill="#2fb24a"/>
<rect x="237" y="123.01" width="2.3" height="4.29" fill="#154b88"/>
<rect x="237" y="122.4" width="2.3" height="0.61" fill="#d0102f"/>
<rect x="237" y="121.66" width="2.3" height="0.73" fill="#f8b319"/>
<rect x="237" y="117.5" width="2.3" height="4.17" fill="#2fb24a"/>
<rect x="239.72" y="125.95" width="2.3" height="1.35" fill="#154b88"/>
<rect x="239.72" y="125.09" width="2.3" height="0.86" fill="#f8b319"/>
<rect x="239.72" y="123.99" width="2.3" height="1.1" fill="#2fb24a"/>
<rect x="242.44" y="111.38" width="2.3" height="15.92" fill="#154b88"/>
<rect x="242.44" y="108.56" width="2.3" height="2.82" fill="#d0102f"/>
<rect x="242.44" y="105.86" width="2.3" height="2.69" fill="#f8b319"/>
<rect x="242.44" y="103.78" width="2.3" height="2.08" fill="#2fb24a"/>
<rect x="245.16" y="123.99" width="2.3" height="3.31" fill="#154b88"/>
<rect x="245.16" y="123.01" width="2.3" height="0.98" fill="#d0102f"/>
<rect x="245.16" y="122.4" width="2.3" height="0.61" fill="#f8b319"/>
<rect x="245.16" y="120.69" width="2.3" height="1.71" fill="#2fb24a"/>
<rect x="247.88" y="126.44" width="2.3" height="0.86" fill="#154b88"/>
<rect x="247.88" y="125.09" width="2.3" height="1.35" fill="#2fb24a"/>
<rect x="250.6" y="124.85" width="2.3" height="2.45" fill="#154b88"/>
<rect x="250.6" y="123.75" width="2.3" height="1.1" fill="#d0102f"/>
<rect x="250.6" y="119.83" width="2.3" height="3.92" fill="#f8b319"/>
<rect x="250.6" y="117.13" width="2.3" height="2.69" fill="#2fb24a"/>
<rect x="253.32" y="113.46" width="2.3" height="13.84" fill="#154b88"/>
<rect x="253.32" y="111.38" width="2.3" height="2.08" fill="#d0102f"/>
<rect x="253.32" y="109.29" width="2.3" height="2.08" fill="#f8b319"/>
<rect x="253.32" y="105.13" width="2.3" height="4.17" fill="#2fb24a"/>
<rect x="256.04" y="120.93" width="2.3" height="6.37" fill="#154b88"/>
<rect x="256.04" y="118.85" width="2.3" height="2.08" fill="#d0102f"/>
<rect x="256.04" y="114.8" width="2.3" height="4.04" fill="#f8b319"/>
<rect x="256.04" y="112.72" width="2.3" height="2.08" fill="#2fb24a"/>
<rect x="258.76" y="120.32" width="2.3" height="6.98" fill="#154b88"/>
<rect x="258.76" y="119.34" width="2.3" height="0.98" fill="#d0102f"/>
<rect x="258.76" y="118.23" width="2.3" height="1.1" fill="#f8b319"/>
<rect x="258.76" y="116.52" width="2.3" height="1.71" fill="#2fb24a"/>
<rect x="261.48" y="113.46" width="2.3" height="13.84" fill="#154b88"/>
<rect x="261.48" y="109.91" width="2.3" height="3.55" fill="#d0102f"/>
<rect x="261.48" y="104.39" width="2.3" height="5.51" fill="#f8b319"/>
<rect x="261.48" y="99.25" width="2.3" height="5.14" fill="#2fb24a"/>
<rect x="264.2" y="126.69" width="2.3" height="0.61" fill="#154b88"/>
<rect x="264.2" y="126.44" width="2.3" height="0.24" fill="#2fb24a"/>
<rect x="266.92" y="125.83" width="2.3" height="1.47" fill="#154b88"/>
<rect x="266.92" y="125.34" width="2.3" height="0.49" fill="#d0102f"/>
<rect x="266.92" y="124.85" width="2.3" height="0.49" fill="#f8b319"/>
<rect x="266.92" y="123.99" width="2.3" height="0.86" fill="#2fb24a"/>
<rect x="269.64" y="120.32" width="2.3" height="6.98" fill="#154b88"/>
<rect x="269.64" y="118.85" width="2.3" height="1.47" fill="#d0102f"/>
<rect x="269.64" y="117.13" width="2.3" height="1.71" fill="#f8b319"/>
<rect x="269.64" y="114.8" width="2.3" height="2.33" fill="#2fb24a"/>
<rect x="272.36" y="125.09" width="2.3" height="2.21" fill="#154b88"/>
<rect x="272.36" y="123.99" width="2.3" height="1.1" fill="#d0102f"/>
<rect x="272.36" y="121.66" width="2.3" height="2.33" fill="#f8b319"/>
<rect x="272.36" y="115.78" width="2.3" height="5.88" fill="#2fb24a"/>
<rect x="275.08" y="125.09" width="2.3" height="2.21" fill="#154b88"/>
<rect x="275.08" y="124.85" width="2.3" height="0.24" fill="#d0102f"/>
<rect x="275.08" y="124.36" width="2.3" height="0.49" fill="#f8b319"/>
<rect x="275.08" y="123.5" width="2.3" height="0.86" fill="#2fb24a"/>
<rect x="277.8" y="125.09" width="2.3" height="2.21" fill="#154b88"/>
<rect x="277.8" y="124.36" width="2.3" height="0.73" fill="#d0102f"/>
<rect x="277.8" y="123.5" width="2.3" height="0.86" fill="#f8b319"/>
<rect x="277.8" y="122.4" width="2.3" height="1.1" fill="#2fb24a"/>
<rect x="280.52" y="122.64" width="2.3" height="4.66" fill="#154b88"/>
<rect x="280.52" y="122.03" width="2.3" height="0.61" fill="#d0102f"/>
<rect x="280.52" y="121.66" width="2.3" height="0.37" fill="#f8b319"/>
<rect x="280.52" y="120.69" width="2.3" height="0.98" fill="#2fb24a"/>
<rect x="283.24" y="121.66" width="2.3" height="5.63" fill="#154b88"/>
<rect x="283.24" y="120.93" width="2.3" height="0.73" fill="#d0102f"/>
<rect x="283.24" y="120.32" width="2.3" height="0.61" fill="#f8b319"/>
<rect x="283.24" y="117.99" width="2.3" height="2.33" fill="#2fb24a"/>
<rect x="285.96" y="125.83" width="2.3" height="1.47" fill="#154b88"/>
<rect x="285.96" y="125.09" width="2.3" height="0.73" fill="#d0102f"/>
<rect x="285.96" y="124.36" width="2.3" height="0.73" fill="#2fb24a"/>
<rect x="288.68" y="115.42" width="2.3" height="11.88" fill="#154b88"/>
<rect x="288.68" y="112.72" width="2.3" height="2.69" fill="#d0102f"/>
<rect x="288.68" y="109.91" width="2.3" height="2.82" fill="#f8b319"/>
<rect x="288.68" y="108.8" width="2.3" height="1.1" fill="#2fb24a"/>
<rect x="291.4" y="125.83" width="2.3" height="1.47" fill="#154b88"/>
<rect x="291.4" y="124.85" width="2.3" height="0.98" fill="#2fb24a"/>
<rect x="294.12" y="125.34" width="2.3" height="1.96" fill="#154b88"/>
<rect x="294.12" y="124.85" width="2.3" height="0.49" fill="#2fb24a"/>
<rect x="296.84" y="123.99" width="2.3" height="3.31" fill="#154b88"/>
<rect x="296.84" y="123.01" width="2.3" height="0.98" fill="#d0102f"/>
<rect x="296.84" y="121.66" width="2.3" height="1.35" fill="#f8b319"/>
<rect x="296.84" y="119.58" width="2.3" height="2.08" fill="#2fb24a"/>
<rect x="299.56" y="123.99" width="2.3" height="3.31" fill="#154b88"/>
<rect x="299.56" y="123.01" width="2.3" height="0.98" fill="#d0102f"/>
<rect x="299.56" y="122.03" width="2.3" height="0.98" fill="#f8b319"/>
<rect x="299.56" y="120.93" width="2.3" height="1.1" fill="#2fb24a"/>
<rect x="302.28" y="120.69" width="2.3" height="6.62" fill="#154b88"/>
<rect x="302.28" y="119.58" width="2.3" height="1.1" fill="#d0102f"/>
<rect x="302.28" y="116.52" width="2.3" height="3.06" fill="#f8b319"/>
<rect x="302.28" y="112.72" width="2.3" height="3.8" fill="#2fb24a"/>
<rect x="305" y="123.01" width="2.3" height="4.29" fill="#154b88"/>
<rect x="305" y="121.66" width="2.3" height="1.35" fill="#d0102f"/>
<rect x="305" y="119.58" width="2.3" height="2.08" fill="#f8b319"/>
<rect x="305" y="115.78" width="2.3" height="3.8" fill="#2fb24a"/>
<rect x="307.72" y="123.01" width="2.3" height="4.29" fill="#154b88"/>
<rect x="307.72" y="122.4" width="2.3" height="0.61" fill="#d0102f"/>
<rect x="307.72" y="121.66" width="2.3" height="0.73" fill="#f8b319"/>
<rect x="307.72" y="120.32" width="2.3" height="1.35" fill="#2fb24a"/>
<rect x="310.44" y="123.5" width="2.3" height="3.8" fill="#154b88"/>
<rect x="310.44" y="122.64" width="2.3" height="0.86" fill="#d0102f"/>
<rect x="310.44" y="122.03" width="2.3" height="0.61" fill="#f8b319"/>
<rect x="310.44" y="120.69" width="2.3" height="1.35" fill="#2fb24a"/>
<rect x="313.16" y="126.08" width="2.3" height="1.23" fill="#154b88"/>
<rect x="313.16" y="125.34" width="2.3" height="0.73" fill="#2fb24a"/>
<rect x="315.88" y="124.36" width="2.3" height="2.94" fill="#154b88"/>
<rect x="315.88" y="123.01" width="2.3" height="1.35" fill="#d0102f"/>
<rect x="315.88" y="121.66" width="2.3" height="1.35" fill="#f8b319"/>
<rect x="315.88" y="119.58" width="2.3" height="2.08" fill="#2fb24a"/>
<rect x="318.6" y="118.48" width="2.3" height="8.82" fill="#154b88"/>
<rect x="318.6" y="116.52" width="2.3" height="1.96" fill="#d0102f"/>
<rect x="318.6" y="115.17" width="2.3" height="1.35" fill="#f8b319"/>
<rect x="318.6" y="113.46" width="2.3" height="1.71" fill="#2fb24a"/>
<rect x="321.32" y="122.03" width="2.3" height="5.27" fill="#154b88"/>
<rect x="321.32" y="120.93" width="2.3" height="1.1" fill="#d0102f"/>
<rect x="321.32" y="118.85" width="2.3" height="2.08" fill="#f8b319"/>
<rect x="321.32" y="112.97" width="2.3" height="5.88" fill="#2fb24a"/>
<rect x="324.04" y="124.36" width="2.3" height="2.94" fill="#154b88"/>
<rect x="324.04" y="123.5" width="2.3" height="0.86" fill="#d0102f"/>
<rect x="324.04" y="122.4" width="2.3" height="1.1" fill="#f8b319"/>
<rect x="324.04" y="116.15" width="2.3" height="6.25" fill="#2fb24a"/>
<rect x="326.76" y="126.08" width="2.3" height="1.23" fill="#154b88"/>
<rect x="326.76" y="125.09" width="2.3" height="0.98" fill="#2fb24a"/>
<rect x="329.48" y="126.69" width="2.3" height="0.61" fill="#154b88"/>
<rect x="329.48" y="126.2" width="2.3" height="0.49" fill="#2fb24a"/>
<rect x="332.2" y="119.34" width="2.3" height="7.96" fill="#154b88"/>
<rect x="332.2" y="117.99" width="2.3" height="1.35" fill="#d0102f"/>
<rect x="332.2" y="115.78" width="2.3" height="2.21" fill="#f8b319"/>
<rect x="332.2" y="113.46" width="2.3" height="2.33" fill="#2fb24a"/>
<rect x="334.92" y="124.36" width="2.3" height="2.94" fill="#154b88"/>
<rect x="334.92" y="123.99" width="2.3" height="0.37" fill="#d0102f"/>
<rect x="334.92" y="123.5" width="2.3" height="0.49" fill="#f8b319"/>
<rect x="334.92" y="122.4" width="2.3" height="1.1" fill="#2fb24a"/>
<rect x="337.64" y="124.36" width="2.3" height="2.94" fill="#154b88"/>
<rect x="337.64" y="123.5" width="2.3" height="0.86" fill="#d0102f"/>
<rect x="337.64" y="122.64" width="2.3" height="0.86" fill="#f8b319"/>
<rect x="337.64" y="119.83" width="2.3" height="2.82" fill="#2fb24a"/>
<rect x="340.36" y="125.83" width="2.3" height="1.47" fill="#154b88"/>
<rect x="340.36" y="125.09" width="2.3" height="0.73" fill="#d0102f"/>
<rect x="340.36" y="124.36" width="2.3" height="0.73" fill="#2fb24a"/>
<rect x="343.08" y="124.36" width="2.3" height="2.94" fill="#154b88"/>
<rect x="343.08" y="123.75" width="2.3" height="0.61" fill="#d0102f"/>
<rect x="343.08" y="122.4" width="2.3" height="1.35" fill="#f8b319"/>
<rect x="343.08" y="119.34" width="2.3" height="3.06" fill="#2fb24a"/>
<rect x="345.8" y="125.83" width="2.3" height="1.47" fill="#154b88"/>
<rect x="345.8" y="125.09" width="2.3" height="0.73" fill="#d0102f"/>
<rect x="345.8" y="124.36" width="2.3" height="0.73" fill="#f8b319"/>
<rect x="345.8" y="122.64" width="2.3" height="1.71" fill="#2fb24a"/>
<rect x="348.52" y="124.85" width="2.3" height="2.45" fill="#154b88"/>
<rect x="348.52" y="123.75" width="2.3" height="1.1" fill="#d0102f"/>
<rect x="348.52" y="123.01" width="2.3" height="0.73" fill="#f8b319"/>
<rect x="348.52" y="121.3" width="2.3" height="1.71" fill="#2fb24a"/>
<rect x="351.24" y="126.08" width="2.3" height="1.23" fill="#154b88"/>
<rect x="351.24" y="125.34" width="2.3" height="0.73" fill="#2fb24a"/>
<rect x="353.96" y="123.75" width="2.3" height="3.55" fill="#154b88"/>
<rect x="353.96" y="123.01" width="2.3" height="0.73" fill="#d0102f"/>
<rect x="353.96" y="122.03" width="2.3" height="0.98" fill="#f8b319"/>
<rect x="353.96" y="119.83" width="2.3" height="2.21" fill="#2fb24a"/>
<rect x="356.68" y="123.99" width="2.3" height="3.31" fill="#154b88"/>
<rect x="356.68" y="123.5" width="2.3" height="0.49" fill="#d0102f"/>
<rect x="356.68" y="122.4" width="2.3" height="1.1" fill="#f8b319"/>
<rect x="356.68" y="121.66" width="2.3" height="0.73" fill="#2fb24a"/>
<rect x="359.4" y="125.34" width="2.3" height="1.96" fill="#154b88"/>
<rect x="359.4" y="123.75" width="2.3" height="1.59" fill="#f8b319"/>
<rect x="359.4" y="121.66" width="2.3" height="2.08" fill="#2fb24a"/>
<rect x="362.12" y="125.95" width="2.3" height="1.35" fill="#154b88"/>
<rect x="362.12" y="125.34" width="2.3" height="0.61" fill="#d0102f"/>
<rect x="362.12" y="124.85" width="2.3" height="0.49" fill="#f8b319"/>
<rect x="362.12" y="123.75" width="2.3" height="1.1" fill="#2fb24a"/>
<rect x="364.84" y="126.08" width="2.3" height="1.23" fill="#154b88"/>
<rect x="364.84" y="125.34" width="2.3" height="0.73" fill="#d0102f"/>
<rect x="364.84" y="124.85" width="2.3" height="0.49" fill="#2fb24a"/>
<rect x="367.56" y="124.85" width="2.3" height="2.45" fill="#154b88"/>
<rect x="367.56" y="123.75" width="2.3" height="1.1" fill="#d0102f"/>
<rect x="367.56" y="122.03" width="2.3" height="1.71" fill="#f8b319"/>
<rect x="367.56" y="115.78" width="2.3" height="6.25" fill="#2fb24a"/>
<rect x="370.28" y="125.83" width="2.3" height="1.47" fill="#154b88"/>
<rect x="370.28" y="124.85" width="2.3" height="0.98" fill="#d0102f"/>
<rect x="370.28" y="123.75" width="2.3" height="1.1" fill="#2fb24a"/>
<rect x="373" y="113.46" width="2.3" height="13.84" fill="#154b88"/>
<rect x="373" y="111.62" width="2.3" height="1.84" fill="#d0102f"/>
<rect x="373" y="109.91" width="2.3" height="1.71" fill="#f8b319"/>
<rect x="373" y="106.47" width="2.3" height="3.43" fill="#2fb24a"/>
<rect x="375.72" y="118.48" width="2.3" height="8.82" fill="#154b88"/>
<rect x="375.72" y="117.38" width="2.3" height="1.1" fill="#d0102f"/>
<rect x="375.72" y="116.03" width="2.3" height="1.35" fill="#f8b319"/>
<rect x="375.72" y="114.07" width="2.3" height="1.96" fill="#2fb24a"/>
<rect x="378.44" y="125.58" width="2.3" height="1.71" fill="#154b88"/>
<rect x="378.44" y="124.61" width="2.3" height="0.98" fill="#d0102f"/>
<rect x="378.44" y="123.5" width="2.3" height="1.1" fill="#f8b319"/>
<rect x="378.44" y="121.3" width="2.3" height="2.21" fill="#2fb24a"/>
<rect x="381.16" y="121.05" width="2.3" height="6.25" fill="#154b88"/>
<rect x="381.16" y="120.19" width="2.3" height="0.86" fill="#d0102f"/>
<rect x="381.16" y="116.89" width="2.3" height="3.31" fill="#f8b319"/>
<rect x="381.16" y="110.76" width="2.3" height="6.12" fill="#2fb24a"/>
<rect x="383.88" y="126.93" width="2.3" height="0.37" fill="#154b88"/>
<rect x="383.88" y="126.81" width="2.3" height="0.12" fill="#d0102f"/>
<rect x="383.88" y="125.95" width="2.3" height="0.86" fill="#2fb24a"/>
<rect x="386.6" y="125.95" width="2.3" height="1.35" fill="#154b88"/>
<rect x="386.6" y="125.34" width="2.3" height="0.61" fill="#d0102f"/>
<rect x="386.6" y="124.61" width="2.3" height="0.73" fill="#f8b319"/>
<rect x="386.6" y="123.99" width="2.3" height="0.61" fill="#2fb24a"/>
<rect x="389.32" y="125.95" width="2.3" height="1.35" fill="#154b88"/>
<rect x="389.32" y="125.34" width="2.3" height="0.61" fill="#d0102f"/>
<rect x="389.32" y="124.61" width="2.3" height="0.73" fill="#f8b319"/>
<rect x="389.32" y="123.01" width="2.3" height="1.59" fill="#2fb24a"/>
<rect x="392.04" y="126.81" width="2.3" height="0.49" fill="#154b88"/>
<rect x="392.04" y="126.69" width="2.3" height="0.12" fill="#d0102f"/>
<rect x="392.04" y="126.32" width="2.3" height="0.37" fill="#2fb24a"/>
<rect x="394.76" y="126.32" width="2.3" height="0.98" fill="#154b88"/>
<rect x="394.76" y="125.58" width="2.3" height="0.73" fill="#f8b319"/>
<rect x="394.76" y="123.01" width="2.3" height="2.57" fill="#2fb24a"/>
<rect x="397.48" y="121.79" width="2.3" height="5.51" fill="#154b88"/>
<rect x="397.48" y="121.3" width="2.3" height="0.49" fill="#d0102f"/>
<rect x="397.48" y="120.69" width="2.3" height="0.61" fill="#f8b319"/>
<rect x="397.48" y="119.7" width="2.3" height="0.98" fill="#2fb24a"/>
<rect x="400.2" y="126.32" width="2.3" height="0.98" fill="#154b88"/>
<rect x="400.2" y="125.95" width="2.3" height="0.37" fill="#d0102f"/>
<rect x="400.2" y="125.09" width="2.3" height="0.86" fill="#f8b319"/>
<rect x="400.2" y="123.99" width="2.3" height="1.1" fill="#2fb24a"/>
<rect x="402.92" y="102.8" width="2.3" height="24.5" fill="#154b88"/>
<rect x="402.92" y="97.53" width="2.3" height="5.27" fill="#d0102f"/>
<rect x="402.92" y="89.2" width="2.3" height="8.33" fill="#f8b319"/>
<rect x="402.92" y="85.89" width="2.3" height="3.31" fill="#2fb24a"/>
<rect x="405.64" y="125.95" width="2.3" height="1.35" fill="#154b88"/>
<rect x="405.64" y="125.09" width="2.3" height="0.86" fill="#d0102f"/>
<rect x="405.64" y="123.99" width="2.3" height="1.1" fill="#f8b319"/>
<rect x="405.64" y="122.28" width="2.3" height="1.71" fill="#2fb24a"/>
<rect x="408.36" y="123.01" width="2.3" height="4.29" fill="#154b88"/>
<rect x="408.36" y="121.79" width="2.3" height="1.23" fill="#d0102f"/>
<rect x="408.36" y="120.69" width="2.3" height="1.1" fill="#f8b319"/>
<rect x="408.36" y="117.75" width="2.3" height="2.94" fill="#2fb24a"/>
<rect x="411.08" y="126.69" width="2.3" height="0.61" fill="#154b88"/>
<rect x="411.08" y="126.56" width="2.3" height="0.12" fill="#d0102f"/>
<rect x="411.08" y="125.95" width="2.3" height="0.61" fill="#2fb24a"/>
<rect x="413.8" y="126.81" width="2.3" height="0.49" fill="#154b88"/>
<rect x="413.8" y="126.69" width="2.3" height="0.12" fill="#d0102f"/>
<rect x="413.8" y="126.32" width="2.3" height="0.37" fill="#2fb24a"/>
<rect x="416.52" y="125.95" width="2.3" height="1.35" fill="#154b88"/>
<rect x="416.52" y="125.58" width="2.3" height="0.37" fill="#d0102f"/>
<rect x="416.52" y="125.09" width="2.3" height="0.49" fill="#f8b319"/>
<rect x="416.52" y="124.36" width="2.3" height="0.73" fill="#2fb24a"/>
<rect x="419.24" y="126.81" width="2.3" height="0.49" fill="#154b88"/>
<rect x="419.24" y="126.69" width="2.3" height="0.12" fill="#d0102f"/>
<rect x="419.24" y="126.32" width="2.3" height="0.37" fill="#2fb24a"/>
<rect x="421.96" y="127.18" width="2.3" height="0.12" fill="#154b88"/>
<rect x="421.96" y="127.05" width="2.3" height="0.12" fill="#2fb24a"/>
<rect x="424.68" y="127.05" width="2.3" height="0.24" fill="#154b88"/>
<rect x="424.68" y="126.81" width="2.3" height="0.24" fill="#2fb24a"/>
<rect x="427.4" y="126.81" width="2.3" height="0.49" fill="#154b88"/>
<rect x="427.4" y="126.69" width="2.3" height="0.12" fill="#d0102f"/>
<rect x="427.4" y="126.32" width="2.3" height="0.37" fill="#2fb24a"/>
<rect x="430.12" y="125.83" width="2.3" height="1.47" fill="#154b88"/>
<rect x="430.12" y="125.34" width="2.3" height="0.49" fill="#d0102f"/>
<rect x="430.12" y="124.61" width="2.3" height="0.73" fill="#f8b319"/>
<rect x="430.12" y="123.5" width="2.3" height="1.1" fill="#2fb24a"/>
<rect x="432.84" y="124.36" width="2.3" height="2.94" fill="#154b88"/>
<rect x="432.84" y="123.62" width="2.3" height="0.73" fill="#d0102f"/>
<rect x="432.84" y="122.64" width="2.3" height="0.98" fill="#f8b319"/>
<rect x="432.84" y="121.05" width="2.3" height="1.59" fill="#2fb24a"/>
<rect x="435.56" y="126.56" width="2.3" height="0.73" fill="#154b88"/>
<rect x="435.56" y="126.44" width="2.3" height="0.12" fill="#d0102f"/>
<rect x="435.56" y="125.95" width="2.3" height="0.49" fill="#2fb24a"/>
<rect x="438.28" y="126.32" width="2.3" height="0.98" fill="#154b88"/>
<rect x="438.28" y="125.95" width="2.3" height="0.37" fill="#d0102f"/>
<rect x="438.28" y="125.09" width="2.3" height="0.86" fill="#2fb24a"/>
<rect x="441" y="126.56" width="2.3" height="0.73" fill="#154b88"/>
<rect x="441" y="126.44" width="2.3" height="0.12" fill="#d0102f"/>
<rect x="441" y="125.95" width="2.3" height="0.49" fill="#2fb24a"/>
<rect x="443.72" y="115.17" width="2.3" height="12.13" fill="#154b88"/>
<rect x="443.72" y="113.09" width="2.3" height="2.08" fill="#d0102f"/>
<rect x="443.72" y="107.45" width="2.3" height="5.63" fill="#f8b319"/>
<rect x="443.72" y="103.17" width="2.3" height="4.29" fill="#2fb24a"/>
<rect x="446.44" y="126.44" width="2.3" height="0.86" fill="#154b88"/>
<rect x="446.44" y="126.2" width="2.3" height="0.24" fill="#d0102f"/>
<rect x="446.44" y="125.58" width="2.3" height="0.61" fill="#2fb24a"/>
<rect x="449.16" y="126.2" width="2.3" height="1.1" fill="#154b88"/>
<rect x="449.16" y="125.83" width="2.3" height="0.37" fill="#d0102f"/>
<rect x="449.16" y="125.09" width="2.3" height="0.73" fill="#2fb24a"/>
<rect x="451.88" y="126.93" width="2.3" height="0.37" fill="#154b88"/>
<rect x="451.88" y="126.69" width="2.3" height="0.24" fill="#2fb24a"/>
<line x1="46.3" y1="127.3" x2="454.6" y2="127.3" stroke="#111" stroke-width="1"/>
<text x="25.1" y="104.9" font-size="9" fill="#231f20" stroke="#231f20" stroke-width="0.1" text-anchor="middle" textLength="48" lengthAdjust="spacingAndGlyphs" transform="rotate(-90 25.1 104.9)">Number of SVs</text>
<rect x="460.3" y="84.8" width="5.8" height="5.8" fill="#2fb24a"/>
<text x="469.4" y="90.3" font-size="7.4" fill="#231f20" stroke="#231f20" stroke-width="0.1" textLength="43.7" lengthAdjust="spacingAndGlyphs">Translocation</text>
<rect x="460.3" y="93.4" width="5.8" height="5.8" fill="#f8b319"/>
<text x="469.4" y="99" font-size="7.6" fill="#231f20" stroke="#231f20" stroke-width="0.1">Inversion</text>
<rect x="460.3" y="102.1" width="5.8" height="5.8" fill="#d0102f"/>
<text x="469.4" y="107.7" font-size="7.6" fill="#231f20" stroke="#231f20" stroke-width="0.1">Tandem</text>
<text x="469.4" y="114.2" font-size="7.6" fill="#231f20" stroke="#231f20" stroke-width="0.1" textLength="38.5" lengthAdjust="spacingAndGlyphs">duplication</text>
<rect x="460.3" y="116.3" width="5.8" height="5.8" fill="#154b88"/>
<text x="469.4" y="121.9" font-size="7.6" fill="#231f20" stroke="#231f20" stroke-width="0.1">Deletion</text>
<line x1="46.3" y1="144.5" x2="46.3" y2="186.5" stroke="#111" stroke-width="1.1"/>
<line x1="43.1" y1="146.5" x2="46.3" y2="146.5" stroke="#231f20" stroke-width="0.8"/>
<text x="40.4" y="148.3" font-size="7.4" fill="#231f20" stroke="#231f20" stroke-width="0.1" text-anchor="end">160</text>
<line x1="43.1" y1="156.5" x2="46.3" y2="156.5" stroke="#231f20" stroke-width="0.8"/>
<text x="40.4" y="158.3" font-size="7.4" fill="#231f20" stroke="#231f20" stroke-width="0.1" text-anchor="end">120</text>
<line x1="43.1" y1="166.5" x2="46.3" y2="166.5" stroke="#231f20" stroke-width="0.8"/>
<text x="40.4" y="168.3" font-size="7.4" fill="#231f20" stroke="#231f20" stroke-width="0.1" text-anchor="end">80</text>
<line x1="43.1" y1="176.5" x2="46.3" y2="176.5" stroke="#231f20" stroke-width="0.8"/>
<text x="40.4" y="178.3" font-size="7.4" fill="#231f20" stroke="#231f20" stroke-width="0.1" text-anchor="end">40</text>
<line x1="43.1" y1="186.5" x2="46.3" y2="186.5" stroke="#231f20" stroke-width="0.8"/>
<text x="40.4" y="188.3" font-size="7.4" fill="#231f20" stroke="#231f20" stroke-width="0.1" text-anchor="end">0</text>
<rect x="46.6" y="182.88" width="2.3" height="3.62" fill="#154b88"/>
<rect x="46.6" y="182.05" width="2.3" height="0.83" fill="#d0102f"/>
<rect x="49.32" y="185.25" width="2.3" height="1.25" fill="#154b88"/>
<rect x="49.32" y="182.5" width="2.3" height="2.75" fill="#d0102f"/>
<rect x="54.76" y="168.25" width="2.3" height="18.25" fill="#154b88"/>
<rect x="54.76" y="165" width="2.3" height="3.25" fill="#d0102f"/>
<rect x="57.48" y="180.75" width="2.3" height="5.75" fill="#154b88"/>
<rect x="57.48" y="179.75" width="2.3" height="1" fill="#d0102f"/>
<rect x="60.2" y="185.25" width="2.3" height="1.25" fill="#154b88"/>
<rect x="60.2" y="182.88" width="2.3" height="2.38" fill="#d0102f"/>
<rect x="62.92" y="185.5" width="2.3" height="1" fill="#154b88"/>
<rect x="62.92" y="185.25" width="2.3" height="0.25" fill="#d0102f"/>
<rect x="65.64" y="185.75" width="2.3" height="0.75" fill="#154b88"/>
<rect x="65.64" y="183.12" width="2.3" height="2.62" fill="#d0102f"/>
<rect x="68.36" y="182.88" width="2.3" height="3.62" fill="#154b88"/>
<rect x="68.36" y="180.85" width="2.3" height="2.03" fill="#d0102f"/>
<rect x="71.08" y="184.5" width="2.3" height="2" fill="#154b88"/>
<rect x="71.08" y="182.88" width="2.3" height="1.62" fill="#d0102f"/>
<rect x="73.8" y="182.88" width="2.3" height="3.62" fill="#154b88"/>
<rect x="73.8" y="180.75" width="2.3" height="2.12" fill="#d0102f"/>
<rect x="76.52" y="183.12" width="2.3" height="3.38" fill="#154b88"/>
<rect x="76.52" y="179.75" width="2.3" height="3.38" fill="#d0102f"/>
<rect x="79.24" y="184.5" width="2.3" height="2" fill="#154b88"/>
<rect x="79.24" y="183.75" width="2.3" height="0.75" fill="#d0102f"/>
<rect x="81.96" y="185.75" width="2.3" height="0.75" fill="#154b88"/>
<rect x="81.96" y="178.5" width="2.3" height="7.25" fill="#d0102f"/>
<rect x="84.68" y="184.75" width="2.3" height="1.75" fill="#154b88"/>
<rect x="84.68" y="184.5" width="2.3" height="0.25" fill="#d0102f"/>
<rect x="87.4" y="184.25" width="2.3" height="2.25" fill="#154b88"/>
<rect x="87.4" y="182.88" width="2.3" height="1.38" fill="#d0102f"/>
<rect x="90.12" y="184.5" width="2.3" height="2" fill="#154b88"/>
<rect x="90.12" y="183.12" width="2.3" height="1.38" fill="#d0102f"/>
<rect x="92.84" y="182.88" width="2.3" height="3.62" fill="#154b88"/>
<rect x="92.84" y="180.25" width="2.3" height="2.62" fill="#d0102f"/>
<rect x="95.56" y="183.75" width="2.3" height="2.75" fill="#154b88"/>
<rect x="95.56" y="181.12" width="2.3" height="2.62" fill="#d0102f"/>
<rect x="98.28" y="185.25" width="2.3" height="1.25" fill="#154b88"/>
<rect x="98.28" y="183.75" width="2.3" height="1.5" fill="#d0102f"/>
<rect x="101" y="182.5" width="2.3" height="4" fill="#154b88"/>
<rect x="101" y="182" width="2.3" height="0.5" fill="#d0102f"/>
<rect x="103.72" y="186.25" width="2.3" height="0.25" fill="#154b88"/>
<rect x="103.72" y="186" width="2.3" height="0.25" fill="#d0102f"/>
<rect x="106.44" y="186.25" width="2.3" height="0.25" fill="#154b88"/>
<rect x="106.44" y="186" width="2.3" height="0.25" fill="#d0102f"/>
<rect x="109.16" y="180.25" width="2.3" height="6.25" fill="#154b88"/>
<rect x="109.16" y="179.75" width="2.3" height="0.5" fill="#d0102f"/>
<rect x="111.88" y="184.5" width="2.3" height="2" fill="#154b88"/>
<rect x="111.88" y="183.5" width="2.3" height="1" fill="#d0102f"/>
<rect x="114.6" y="183.75" width="2.3" height="2.75" fill="#154b88"/>
<rect x="114.6" y="179" width="2.3" height="4.75" fill="#d0102f"/>
<rect x="117.32" y="186.25" width="2.3" height="0.25" fill="#154b88"/>
<rect x="117.32" y="186" width="2.3" height="0.25" fill="#d0102f"/>
<rect x="120.04" y="180.25" width="2.3" height="6.25" fill="#154b88"/>
<rect x="120.04" y="178.5" width="2.3" height="1.75" fill="#d0102f"/>
<rect x="122.76" y="186.25" width="2.3" height="0.25" fill="#154b88"/>
<rect x="125.48" y="185.75" width="2.3" height="0.75" fill="#154b88"/>
<rect x="125.48" y="185.5" width="2.3" height="0.25" fill="#d0102f"/>
<rect x="128.2" y="183.75" width="2.3" height="2.75" fill="#154b88"/>
<rect x="128.2" y="183.5" width="2.3" height="0.25" fill="#d0102f"/>
<rect x="130.92" y="182.88" width="2.3" height="3.62" fill="#154b88"/>
<rect x="130.92" y="180.75" width="2.3" height="2.12" fill="#d0102f"/>
<rect x="133.64" y="181.12" width="2.3" height="5.38" fill="#154b88"/>
<rect x="133.64" y="177" width="2.3" height="4.12" fill="#d0102f"/>
<rect x="136.36" y="184.5" width="2.3" height="2" fill="#154b88"/>
<rect x="136.36" y="183.75" width="2.3" height="0.75" fill="#d0102f"/>
<rect x="139.08" y="186" width="2.3" height="0.5" fill="#154b88"/>
<rect x="139.08" y="185.25" width="2.3" height="0.75" fill="#d0102f"/>
<rect x="141.8" y="179" width="2.3" height="7.5" fill="#154b88"/>
<rect x="141.8" y="176.25" width="2.3" height="2.75" fill="#d0102f"/>
<rect x="144.52" y="180.75" width="2.3" height="5.75" fill="#154b88"/>
<rect x="144.52" y="180.25" width="2.3" height="0.5" fill="#d0102f"/>
<rect x="147.24" y="180.75" width="2.3" height="5.75" fill="#154b88"/>
<rect x="147.24" y="178.5" width="2.3" height="2.25" fill="#d0102f"/>
<rect x="149.96" y="182.88" width="2.3" height="3.62" fill="#154b88"/>
<rect x="149.96" y="182" width="2.3" height="0.88" fill="#d0102f"/>
<rect x="152.68" y="182.88" width="2.3" height="3.62" fill="#154b88"/>
<rect x="152.68" y="181.75" width="2.3" height="1.12" fill="#d0102f"/>
<rect x="155.4" y="180.75" width="2.3" height="5.75" fill="#154b88"/>
<rect x="155.4" y="177.75" width="2.3" height="3" fill="#d0102f"/>
<rect x="158.12" y="186" width="2.3" height="0.5" fill="#154b88"/>
<rect x="158.12" y="185.25" width="2.3" height="0.75" fill="#d0102f"/>
<rect x="160.84" y="179.75" width="2.3" height="6.75" fill="#154b88"/>
<rect x="160.84" y="179.38" width="2.3" height="0.38" fill="#d0102f"/>
<rect x="163.56" y="182.88" width="2.3" height="3.62" fill="#154b88"/>
<rect x="163.56" y="145.5" width="2.3" height="37.38" fill="#d0102f"/>
<rect x="166.28" y="185.75" width="2.3" height="0.75" fill="#154b88"/>
<rect x="166.28" y="174" width="2.3" height="11.75" fill="#d0102f"/>
<rect x="169" y="170.75" width="2.3" height="15.75" fill="#154b88"/>
<rect x="169" y="164" width="2.3" height="6.75" fill="#d0102f"/>
<rect x="171.72" y="182.88" width="2.3" height="3.62" fill="#154b88"/>
<rect x="171.72" y="181.12" width="2.3" height="1.75" fill="#d0102f"/>
<rect x="174.44" y="186.25" width="2.3" height="0.25" fill="#154b88"/>
<rect x="174.44" y="185.75" width="2.3" height="0.5" fill="#d0102f"/>
<rect x="177.16" y="178" width="2.3" height="8.5" fill="#154b88"/>
<rect x="177.16" y="174" width="2.3" height="4" fill="#d0102f"/>
<rect x="179.88" y="180.75" width="2.3" height="5.75" fill="#154b88"/>
<rect x="179.88" y="180.25" width="2.3" height="0.5" fill="#d0102f"/>
<rect x="182.6" y="185.5" width="2.3" height="1" fill="#154b88"/>
<rect x="182.6" y="174" width="2.3" height="11.5" fill="#d0102f"/>
<rect x="185.32" y="179.75" width="2.3" height="6.75" fill="#154b88"/>
<rect x="185.32" y="179.38" width="2.3" height="0.38" fill="#d0102f"/>
<rect x="188.04" y="180.5" width="2.3" height="6" fill="#154b88"/>
<rect x="188.04" y="180.25" width="2.3" height="0.25" fill="#d0102f"/>
<rect x="190.76" y="184.75" width="2.3" height="1.75" fill="#154b88"/>
<rect x="190.76" y="183.75" width="2.3" height="1" fill="#d0102f"/>
<rect x="193.48" y="183.12" width="2.3" height="3.38" fill="#154b88"/>
<rect x="193.48" y="181.12" width="2.3" height="2" fill="#d0102f"/>
<rect x="196.2" y="185.5" width="2.3" height="1" fill="#154b88"/>
<rect x="196.2" y="174" width="2.3" height="11.5" fill="#d0102f"/>
<rect x="198.92" y="183.75" width="2.3" height="2.75" fill="#154b88"/>
<rect x="198.92" y="182" width="2.3" height="1.75" fill="#d0102f"/>
<rect x="201.64" y="186" width="2.3" height="0.5" fill="#154b88"/>
<rect x="201.64" y="185.5" width="2.3" height="0.5" fill="#d0102f"/>
<rect x="204.36" y="185.75" width="2.3" height="0.75" fill="#154b88"/>
<rect x="204.36" y="164.5" width="2.3" height="21.25" fill="#d0102f"/>
<rect x="207.08" y="185.25" width="2.3" height="1.25" fill="#154b88"/>
<rect x="207.08" y="184.75" width="2.3" height="0.5" fill="#d0102f"/>
<rect x="209.8" y="185.5" width="2.3" height="1" fill="#154b88"/>
<rect x="209.8" y="166.75" width="2.3" height="18.75" fill="#d0102f"/>
<rect x="212.52" y="183.12" width="2.3" height="3.38" fill="#154b88"/>
<rect x="212.52" y="182.88" width="2.3" height="0.25" fill="#d0102f"/>
<rect x="215.24" y="184.5" width="2.3" height="2" fill="#154b88"/>
<rect x="215.24" y="183.12" width="2.3" height="1.38" fill="#d0102f"/>
<rect x="217.96" y="184.75" width="2.3" height="1.75" fill="#154b88"/>
<rect x="217.96" y="184.25" width="2.3" height="0.5" fill="#d0102f"/>
<rect x="220.68" y="182.88" width="2.3" height="3.62" fill="#154b88"/>
<rect x="220.68" y="181.75" width="2.3" height="1.12" fill="#d0102f"/>
<rect x="223.4" y="185.75" width="2.3" height="0.75" fill="#154b88"/>
<rect x="223.4" y="182.88" width="2.3" height="2.88" fill="#d0102f"/>
<rect x="226.12" y="182.5" width="2.3" height="4" fill="#154b88"/>
<rect x="226.12" y="182" width="2.3" height="0.5" fill="#d0102f"/>
<rect x="228.84" y="182" width="2.3" height="4.5" fill="#154b88"/>
<rect x="228.84" y="180.25" width="2.3" height="1.75" fill="#d0102f"/>
<rect x="231.56" y="169.75" width="2.3" height="16.75" fill="#154b88"/>
<rect x="231.56" y="165" width="2.3" height="4.75" fill="#d0102f"/>
<rect x="234.28" y="182.88" width="2.3" height="3.62" fill="#154b88"/>
<rect x="234.28" y="179.75" width="2.3" height="3.12" fill="#d0102f"/>
<rect x="237" y="185.25" width="2.3" height="1.25" fill="#154b88"/>
<rect x="237" y="183.5" width="2.3" height="1.75" fill="#d0102f"/>
<rect x="239.72" y="186.25" width="2.3" height="0.25" fill="#154b88"/>
<rect x="239.72" y="186" width="2.3" height="0.25" fill="#d0102f"/>
<rect x="242.44" y="170.75" width="2.3" height="15.75" fill="#154b88"/>
<rect x="242.44" y="167.25" width="2.3" height="3.5" fill="#d0102f"/>
<rect x="245.16" y="182.88" width="2.3" height="3.62" fill="#154b88"/>
<rect x="245.16" y="181.12" width="2.3" height="1.75" fill="#d0102f"/>
<rect x="247.88" y="186.25" width="2.3" height="0.25" fill="#154b88"/>
<rect x="250.6" y="183.5" width="2.3" height="3" fill="#154b88"/>
<rect x="250.6" y="180.25" width="2.3" height="3.25" fill="#d0102f"/>
<rect x="253.32" y="174.5" width="2.3" height="12" fill="#154b88"/>
<rect x="253.32" y="172.12" width="2.3" height="2.38" fill="#d0102f"/>
<rect x="256.04" y="178" width="2.3" height="8.5" fill="#154b88"/>
<rect x="256.04" y="173" width="2.3" height="5" fill="#d0102f"/>
<rect x="258.76" y="179.75" width="2.3" height="6.75" fill="#154b88"/>
<rect x="258.76" y="176.25" width="2.3" height="3.5" fill="#d0102f"/>
<rect x="261.48" y="175.75" width="2.3" height="10.75" fill="#154b88"/>
<rect x="261.48" y="169" width="2.3" height="6.75" fill="#d0102f"/>
<rect x="264.2" y="186.25" width="2.3" height="0.25" fill="#154b88"/>
<rect x="266.92" y="185.75" width="2.3" height="0.75" fill="#154b88"/>
<rect x="266.92" y="178.5" width="2.3" height="7.25" fill="#d0102f"/>
<rect x="269.64" y="180.25" width="2.3" height="6.25" fill="#154b88"/>
<rect x="269.64" y="178.5" width="2.3" height="1.75" fill="#d0102f"/>
<rect x="272.36" y="177" width="2.3" height="9.5" fill="#154b88"/>
<rect x="272.36" y="173.75" width="2.3" height="3.25" fill="#d0102f"/>
<rect x="275.08" y="183.12" width="2.3" height="3.38" fill="#154b88"/>
<rect x="275.08" y="182" width="2.3" height="1.12" fill="#d0102f"/>
<rect x="277.8" y="186.25" width="2.3" height="0.25" fill="#154b88"/>
<rect x="277.8" y="186" width="2.3" height="0.25" fill="#d0102f"/>
<rect x="280.52" y="181.75" width="2.3" height="4.75" fill="#154b88"/>
<rect x="280.52" y="179" width="2.3" height="2.75" fill="#d0102f"/>
<rect x="283.24" y="185.75" width="2.3" height="0.75" fill="#154b88"/>
<rect x="283.24" y="175" width="2.3" height="10.75" fill="#d0102f"/>
<rect x="285.96" y="186.25" width="2.3" height="0.25" fill="#154b88"/>
<rect x="288.68" y="180.75" width="2.3" height="5.75" fill="#154b88"/>
<rect x="288.68" y="175.25" width="2.3" height="5.5" fill="#d0102f"/>
<rect x="291.4" y="185.25" width="2.3" height="1.25" fill="#154b88"/>
<rect x="291.4" y="184.75" width="2.3" height="0.5" fill="#d0102f"/>
<rect x="294.12" y="183.5" width="2.3" height="3" fill="#154b88"/>
<rect x="294.12" y="182.88" width="2.3" height="0.62" fill="#d0102f"/>
<rect x="296.84" y="179.38" width="2.3" height="7.12" fill="#154b88"/>
<rect x="296.84" y="179" width="2.3" height="0.38" fill="#d0102f"/>
<rect x="299.56" y="182" width="2.3" height="4.5" fill="#154b88"/>
<rect x="299.56" y="181.75" width="2.3" height="0.25" fill="#d0102f"/>
<rect x="302.28" y="184.25" width="2.3" height="2.25" fill="#154b88"/>
<rect x="302.28" y="183.75" width="2.3" height="0.5" fill="#d0102f"/>
<rect x="305" y="183.75" width="2.3" height="2.75" fill="#154b88"/>
<rect x="305" y="176.75" width="2.3" height="7" fill="#d0102f"/>
<rect x="307.72" y="186.25" width="2.3" height="0.25" fill="#154b88"/>
<rect x="307.72" y="186" width="2.3" height="0.25" fill="#d0102f"/>
<rect x="310.44" y="182" width="2.3" height="4.5" fill="#154b88"/>
<rect x="310.44" y="181.75" width="2.3" height="0.25" fill="#d0102f"/>
<rect x="313.16" y="186" width="2.3" height="0.5" fill="#154b88"/>
<rect x="313.16" y="185.5" width="2.3" height="0.5" fill="#d0102f"/>
<rect x="315.88" y="185.25" width="2.3" height="1.25" fill="#154b88"/>
<rect x="315.88" y="180.25" width="2.3" height="5" fill="#d0102f"/>
<rect x="318.6" y="180.75" width="2.3" height="5.75" fill="#154b88"/>
<rect x="318.6" y="176.25" width="2.3" height="4.5" fill="#d0102f"/>
<rect x="321.32" y="180.75" width="2.3" height="5.75" fill="#154b88"/>
<rect x="321.32" y="179" width="2.3" height="1.75" fill="#d0102f"/>
<rect x="324.04" y="183.75" width="2.3" height="2.75" fill="#154b88"/>
<rect x="324.04" y="183.12" width="2.3" height="0.62" fill="#d0102f"/>
<rect x="326.76" y="184.75" width="2.3" height="1.75" fill="#154b88"/>
<rect x="326.76" y="184.5" width="2.3" height="0.25" fill="#d0102f"/>
<rect x="329.48" y="186.25" width="2.3" height="0.25" fill="#154b88"/>
<rect x="329.48" y="186" width="2.3" height="0.25" fill="#d0102f"/>
<rect x="332.2" y="179" width="2.3" height="7.5" fill="#154b88"/>
<rect x="332.2" y="177.5" width="2.3" height="1.5" fill="#d0102f"/>
<rect x="334.92" y="185.75" width="2.3" height="0.75" fill="#154b88"/>
<rect x="334.92" y="183.75" width="2.3" height="2" fill="#d0102f"/>
<rect x="337.64" y="185.75" width="2.3" height="0.75" fill="#154b88"/>
<rect x="337.64" y="172.12" width="2.3" height="13.62" fill="#d0102f"/>
<rect x="340.36" y="183.12" width="2.3" height="3.38" fill="#154b88"/>
<rect x="340.36" y="181.75" width="2.3" height="1.38" fill="#d0102f"/>
<rect x="343.08" y="180.75" width="2.3" height="5.75" fill="#154b88"/>
<rect x="343.08" y="178" width="2.3" height="2.75" fill="#d0102f"/>
<rect x="345.8" y="183.75" width="2.3" height="2.75" fill="#154b88"/>
<rect x="345.8" y="179.75" width="2.3" height="4" fill="#d0102f"/>
<rect x="348.52" y="184.25" width="2.3" height="2.25" fill="#154b88"/>
<rect x="348.52" y="181.5" width="2.3" height="2.75" fill="#d0102f"/>
<rect x="351.24" y="186.25" width="2.3" height="0.25" fill="#154b88"/>
<rect x="351.24" y="186" width="2.3" height="0.25" fill="#d0102f"/>
<rect x="353.96" y="183.75" width="2.3" height="2.75" fill="#154b88"/>
<rect x="353.96" y="182" width="2.3" height="1.75" fill="#d0102f"/>
<rect x="356.68" y="182.5" width="2.3" height="4" fill="#154b88"/>
<rect x="356.68" y="180.25" width="2.3" height="2.25" fill="#d0102f"/>
<rect x="359.4" y="185.25" width="2.3" height="1.25" fill="#154b88"/>
<rect x="359.4" y="184.75" width="2.3" height="0.5" fill="#d0102f"/>
<rect x="362.12" y="185.75" width="2.3" height="0.75" fill="#154b88"/>
<rect x="362.12" y="183.12" width="2.3" height="2.62" fill="#d0102f"/>
<rect x="364.84" y="183.75" width="2.3" height="2.75" fill="#154b88"/>
<rect x="364.84" y="181.5" width="2.3" height="2.25" fill="#d0102f"/>
<rect x="367.56" y="183.12" width="2.3" height="3.38" fill="#154b88"/>
<rect x="367.56" y="182.88" width="2.3" height="0.25" fill="#d0102f"/>
<rect x="370.28" y="185.25" width="2.3" height="1.25" fill="#154b88"/>
<rect x="370.28" y="183.75" width="2.3" height="1.5" fill="#d0102f"/>
<rect x="373" y="183.75" width="2.3" height="2.75" fill="#154b88"/>
<rect x="373" y="179.38" width="2.3" height="4.38" fill="#d0102f"/>
<rect x="375.72" y="181.75" width="2.3" height="4.75" fill="#154b88"/>
<rect x="375.72" y="179.75" width="2.3" height="2" fill="#d0102f"/>
<rect x="378.44" y="183.75" width="2.3" height="2.75" fill="#154b88"/>
<rect x="378.44" y="173.75" width="2.3" height="10" fill="#d0102f"/>
<rect x="381.16" y="173.25" width="2.3" height="13.25" fill="#154b88"/>
<rect x="381.16" y="171.75" width="2.3" height="1.5" fill="#d0102f"/>
<rect x="383.88" y="186.25" width="2.3" height="0.25" fill="#154b88"/>
<rect x="386.6" y="185" width="2.3" height="1.5" fill="#154b88"/>
<rect x="386.6" y="183.5" width="2.3" height="1.5" fill="#d0102f"/>
<rect x="389.32" y="185.25" width="2.3" height="1.25" fill="#154b88"/>
<rect x="389.32" y="182.25" width="2.3" height="3" fill="#d0102f"/>
<rect x="392.04" y="186" width="2.3" height="0.5" fill="#154b88"/>
<rect x="392.04" y="185.75" width="2.3" height="0.25" fill="#d0102f"/>
<rect x="394.76" y="186.25" width="2.3" height="0.25" fill="#154b88"/>
<rect x="394.76" y="185.75" width="2.3" height="0.5" fill="#d0102f"/>
<rect x="397.48" y="185.25" width="2.3" height="1.25" fill="#154b88"/>
<rect x="397.48" y="182.5" width="2.3" height="2.75" fill="#d0102f"/>
<rect x="400.2" y="186.25" width="2.3" height="0.25" fill="#154b88"/>
<rect x="400.2" y="186" width="2.3" height="0.25" fill="#d0102f"/>
<rect x="402.92" y="179.25" width="2.3" height="7.25" fill="#154b88"/>
<rect x="402.92" y="170" width="2.3" height="9.25" fill="#d0102f"/>
<rect x="405.64" y="186.25" width="2.3" height="0.25" fill="#154b88"/>
<rect x="408.36" y="186.25" width="2.3" height="0.25" fill="#154b88"/>
<rect x="408.36" y="176" width="2.3" height="10.25" fill="#d0102f"/>
<rect x="411.08" y="182.5" width="2.3" height="4" fill="#154b88"/>
<rect x="411.08" y="180.25" width="2.3" height="2.25" fill="#d0102f"/>
<rect x="413.8" y="186.25" width="2.3" height="0.25" fill="#154b88"/>
<rect x="416.52" y="186.25" width="2.3" height="0.25" fill="#154b88"/>
<rect x="419.24" y="184" width="2.3" height="2.5" fill="#154b88"/>
<rect x="419.24" y="181.25" width="2.3" height="2.75" fill="#d0102f"/>
<rect x="424.68" y="186.25" width="2.3" height="0.25" fill="#154b88"/>
<rect x="424.68" y="185.75" width="2.3" height="0.5" fill="#d0102f"/>
<rect x="427.4" y="186.25" width="2.3" height="0.25" fill="#154b88"/>
<rect x="430.12" y="183.5" width="2.3" height="3" fill="#154b88"/>
<rect x="430.12" y="183" width="2.3" height="0.5" fill="#d0102f"/>
<rect x="432.84" y="184.5" width="2.3" height="2" fill="#154b88"/>
<rect x="432.84" y="183.5" width="2.3" height="1" fill="#d0102f"/>
<rect x="435.56" y="184" width="2.3" height="2.5" fill="#154b88"/>
<rect x="435.56" y="178" width="2.3" height="6" fill="#d0102f"/>
<rect x="438.28" y="186.25" width="2.3" height="0.25" fill="#154b88"/>
<rect x="441" y="186.25" width="2.3" height="0.25" fill="#154b88"/>
<rect x="441" y="186" width="2.3" height="0.25" fill="#d0102f"/>
<rect x="443.72" y="179.25" width="2.3" height="7.25" fill="#154b88"/>
<rect x="443.72" y="163" width="2.3" height="16.25" fill="#d0102f"/>
<rect x="446.44" y="184" width="2.3" height="2.5" fill="#154b88"/>
<rect x="446.44" y="181.25" width="2.3" height="2.75" fill="#d0102f"/>
<rect x="449.16" y="186.25" width="2.3" height="0.25" fill="#154b88"/>
<rect x="449.16" y="177" width="2.3" height="9.25" fill="#d0102f"/>
<line x1="46.3" y1="186.5" x2="454.6" y2="186.5" stroke="#111" stroke-width="1"/>
<text x="14.9" y="165.2" font-size="9" fill="#231f20" stroke="#231f20" stroke-width="0.1" text-anchor="middle" textLength="67.5" lengthAdjust="spacingAndGlyphs" transform="rotate(-90 14.9 165.2)">Number of abnormal</text>
<text x="24.4" y="166" font-size="9" fill="#231f20" stroke="#231f20" stroke-width="0.1" text-anchor="middle" textLength="44" lengthAdjust="spacingAndGlyphs" transform="rotate(-90 24.4 166)">CN segments</text>
<rect x="460.3" y="146.9" width="5.8" height="5.6" fill="#d0102f"/>
<text x="469" y="152.5" font-size="7.6" fill="#231f20" stroke="#231f20" stroke-width="0.1">Gain</text>
<rect x="460.3" y="155.5" width="5.8" height="5.6" fill="#154b88"/>
<text x="469" y="161.1" font-size="7.6" fill="#231f20" stroke="#231f20" stroke-width="0.1">Loss</text>
<text x="44.8" y="209.6" font-size="7.6" fill="#231f20" stroke="#231f20" stroke-width="0.1" text-anchor="end" textLength="23.5" lengthAdjust="spacingAndGlyphs">Subtype</text>
<rect x="46.15" y="205" width="2.79" height="4.6" fill="#3b8ed4"/>
<rect x="48.94" y="205" width="2.79" height="4.6" fill="#e8302a"/>
<rect x="51.72" y="205" width="2.79" height="4.6" fill="#c98f28"/>
<rect x="54.51" y="205" width="2.79" height="4.6" fill="#3b8ed4"/>
<rect x="57.29" y="205" width="2.79" height="4.6" fill="#e8302a"/>
<rect x="60.08" y="205" width="2.79" height="4.6" fill="#e8302a"/>
<rect x="62.87" y="205" width="2.79" height="4.6" fill="#e8302a"/>
<rect x="65.65" y="205" width="2.79" height="4.6" fill="#e8302a"/>
<rect x="68.44" y="205" width="2.79" height="4.6" fill="#e8302a"/>
<rect x="71.22" y="205" width="2.79" height="4.6" fill="#e8302a"/>
<rect x="74.01" y="205" width="2.79" height="4.6" fill="#e8302a"/>
<rect x="76.8" y="205" width="2.79" height="4.6" fill="#62bc48"/>
<rect x="79.58" y="205" width="2.79" height="4.6" fill="#3b8ed4"/>
<rect x="82.37" y="205" width="2.79" height="4.6" fill="#62bc48"/>
<rect x="85.15" y="205" width="2.79" height="4.6" fill="#e8302a"/>
<rect x="87.94" y="205" width="2.79" height="4.6" fill="#c98f28"/>
<rect x="90.73" y="205" width="2.79" height="4.6" fill="#c98f28"/>
<rect x="93.51" y="205" width="2.79" height="4.6" fill="#e8302a"/>
<rect x="96.3" y="205" width="2.79" height="4.6" fill="#e8302a"/>
<rect x="99.08" y="205" width="2.79" height="4.6" fill="#e8302a"/>
<rect x="101.87" y="205" width="2.79" height="4.6" fill="#e8302a"/>
<rect x="104.66" y="205" width="2.79" height="4.6" fill="#3b8ed4"/>
<rect x="107.44" y="205" width="2.79" height="4.6" fill="#62bc48"/>
<rect x="110.23" y="205" width="2.79" height="4.6" fill="#e8302a"/>
<rect x="113.01" y="205" width="2.79" height="4.6" fill="#e8302a"/>
<rect x="115.8" y="205" width="2.79" height="4.6" fill="#3b8ed4"/>
<rect x="118.59" y="205" width="2.79" height="4.6" fill="#62bc48"/>
<rect x="121.37" y="205" width="2.79" height="4.6" fill="#62bc48"/>
<rect x="124.16" y="205" width="2.79" height="4.6" fill="#62bc48"/>
<rect x="126.94" y="205" width="2.79" height="4.6" fill="#62bc48"/>
<rect x="129.73" y="205" width="2.79" height="4.6" fill="#3b8ed4"/>
<rect x="132.52" y="205" width="2.79" height="4.6" fill="#e8302a"/>
<rect x="135.3" y="205" width="2.79" height="4.6" fill="#e8302a"/>
<rect x="138.09" y="205" width="2.79" height="4.6" fill="#e8302a"/>
<rect x="140.87" y="205" width="2.79" height="4.6" fill="#e8302a"/>
<rect x="143.66" y="205" width="2.79" height="4.6" fill="#e8302a"/>
<rect x="146.45" y="205" width="2.79" height="4.6" fill="#e8302a"/>
<rect x="149.23" y="205" width="2.79" height="4.6" fill="#62bc48"/>
<rect x="152.02" y="205" width="2.79" height="4.6" fill="#e8302a"/>
<rect x="154.8" y="205" width="2.79" height="4.6" fill="#e8302a"/>
<rect x="157.59" y="205" width="2.79" height="4.6" fill="#e8302a"/>
<rect x="160.38" y="205" width="2.79" height="4.6" fill="#e8302a"/>
<rect x="163.16" y="205" width="2.79" height="4.6" fill="#e8302a"/>
<rect x="165.95" y="205" width="2.79" height="4.6" fill="#e8302a"/>
<rect x="168.73" y="205" width="2.79" height="4.6" fill="#3b8ed4"/>
<rect x="171.52" y="205" width="2.79" height="4.6" fill="#3b8ed4"/>
<rect x="174.31" y="205" width="2.79" height="4.6" fill="#62bc48"/>
<rect x="177.09" y="205" width="2.79" height="4.6" fill="#e8302a"/>
<rect x="179.88" y="205" width="2.79" height="4.6" fill="#3b8ed4"/>
<rect x="182.66" y="205" width="2.79" height="4.6" fill="#e8302a"/>
<rect x="185.45" y="205" width="2.79" height="4.6" fill="#e8302a"/>
<rect x="188.24" y="205" width="2.79" height="4.6" fill="#e8302a"/>
<rect x="191.02" y="205" width="2.79" height="4.6" fill="#62bc48"/>
<rect x="193.81" y="205" width="2.79" height="4.6" fill="#e8302a"/>
<rect x="196.59" y="205" width="2.79" height="4.6" fill="#3b8ed4"/>
<rect x="199.38" y="205" width="2.79" height="4.6" fill="#e8302a"/>
<rect x="202.17" y="205" width="2.79" height="4.6" fill="#e8302a"/>
<rect x="204.95" y="205" width="2.79" height="4.6" fill="#c98f28"/>
<rect x="207.74" y="205" width="2.79" height="4.6" fill="#e8302a"/>
<rect x="210.52" y="205" width="2.79" height="4.6" fill="#62bc48"/>
<rect x="213.31" y="205" width="2.79" height="4.6" fill="#e8302a"/>
<rect x="216.1" y="205" width="2.79" height="4.6" fill="#e8302a"/>
<rect x="218.88" y="205" width="2.79" height="4.6" fill="#62bc48"/>
<rect x="221.67" y="205" width="2.79" height="4.6" fill="#e8302a"/>
<rect x="224.45" y="205" width="2.79" height="4.6" fill="#e8302a"/>
<rect x="227.24" y="205" width="2.79" height="4.6" fill="#e8302a"/>
<rect x="230.03" y="205" width="2.79" height="4.6" fill="#e8302a"/>
<rect x="232.81" y="205" width="2.79" height="4.6" fill="#e8302a"/>
<rect x="235.6" y="205" width="2.79" height="4.6" fill="#e8302a"/>
<rect x="238.38" y="205" width="2.79" height="4.6" fill="#e8302a"/>
<rect x="241.17" y="205" width="2.79" height="4.6" fill="#e8302a"/>
<rect x="243.96" y="205" width="2.79" height="4.6" fill="#e8302a"/>
<rect x="246.74" y="205" width="2.79" height="4.6" fill="#e8302a"/>
<rect x="249.53" y="205" width="2.79" height="4.6" fill="#e8302a"/>
<rect x="252.31" y="205" width="2.79" height="4.6" fill="#e8302a"/>
<rect x="255.1" y="205" width="2.79" height="4.6" fill="#e8302a"/>
<rect x="257.89" y="205" width="2.79" height="4.6" fill="#e8302a"/>
<rect x="260.67" y="205" width="2.79" height="4.6" fill="#e8302a"/>
<rect x="263.46" y="205" width="2.79" height="4.6" fill="#e8302a"/>
<rect x="266.24" y="205" width="2.79" height="4.6" fill="#e8302a"/>
<rect x="269.03" y="205" width="2.79" height="4.6" fill="#62bc48"/>
<rect x="271.82" y="205" width="2.79" height="4.6" fill="#e8302a"/>
<rect x="274.6" y="205" width="2.79" height="4.6" fill="#62bc48"/>
<rect x="277.39" y="205" width="2.79" height="4.6" fill="#e8302a"/>
<rect x="280.17" y="205" width="2.79" height="4.6" fill="#62bc48"/>
<rect x="282.96" y="205" width="2.79" height="4.6" fill="#e8302a"/>
<rect x="285.75" y="205" width="2.79" height="4.6" fill="#e8302a"/>
<rect x="288.53" y="205" width="2.79" height="4.6" fill="#e8302a"/>
<rect x="291.32" y="205" width="2.79" height="4.6" fill="#62bc48"/>
<rect x="294.1" y="205" width="2.79" height="4.6" fill="#e8302a"/>
<rect x="296.89" y="205" width="2.79" height="4.6" fill="#e8302a"/>
<rect x="299.68" y="205" width="2.79" height="4.6" fill="#62bc48"/>
<rect x="302.46" y="205" width="2.79" height="4.6" fill="#62bc48"/>
<rect x="305.25" y="205" width="2.79" height="4.6" fill="#e8302a"/>
<rect x="308.03" y="205" width="2.79" height="4.6" fill="#62bc48"/>
<rect x="310.82" y="205" width="2.79" height="4.6" fill="#e8302a"/>
<rect x="313.61" y="205" width="2.79" height="4.6" fill="#e8302a"/>
<rect x="316.39" y="205" width="2.79" height="4.6" fill="#62bc48"/>
<rect x="319.18" y="205" width="2.79" height="4.6" fill="#e8302a"/>
<rect x="321.96" y="205" width="2.79" height="4.6" fill="#e8302a"/>
<rect x="324.75" y="205" width="2.79" height="4.6" fill="#62bc48"/>
<rect x="327.54" y="205" width="2.79" height="4.6" fill="#e8302a"/>
<rect x="330.32" y="205" width="2.79" height="4.6" fill="#e8302a"/>
<rect x="333.11" y="205" width="2.79" height="4.6" fill="#62bc48"/>
<rect x="335.89" y="205" width="2.79" height="4.6" fill="#e8302a"/>
<rect x="338.68" y="205" width="2.79" height="4.6" fill="#e8302a"/>
<rect x="341.47" y="205" width="2.79" height="4.6" fill="#e8302a"/>
<rect x="344.25" y="205" width="2.79" height="4.6" fill="#e8302a"/>
<rect x="347.04" y="205" width="2.79" height="4.6" fill="#62bc48"/>
<rect x="349.82" y="205" width="2.79" height="4.6" fill="#62bc48"/>
<rect x="352.61" y="205" width="2.79" height="4.6" fill="#62bc48"/>
<rect x="355.4" y="205" width="2.79" height="4.6" fill="#e8302a"/>
<rect x="358.18" y="205" width="2.79" height="4.6" fill="#c98f28"/>
<rect x="360.97" y="205" width="2.79" height="4.6" fill="#e8302a"/>
<rect x="363.75" y="205" width="2.79" height="4.6" fill="#e8302a"/>
<rect x="366.54" y="205" width="2.79" height="4.6" fill="#62bc48"/>
<rect x="369.33" y="205" width="2.79" height="4.6" fill="#e8302a"/>
<rect x="372.11" y="205" width="2.79" height="4.6" fill="#e8302a"/>
<rect x="374.9" y="205" width="2.79" height="4.6" fill="#62bc48"/>
<rect x="377.68" y="205" width="2.79" height="4.6" fill="#e8302a"/>
<rect x="380.47" y="205" width="2.79" height="4.6" fill="#e8302a"/>
<rect x="383.26" y="205" width="2.79" height="4.6" fill="#e8302a"/>
<rect x="386.04" y="205" width="2.79" height="4.6" fill="#e8302a"/>
<rect x="388.83" y="205" width="2.79" height="4.6" fill="#e8302a"/>
<rect x="391.61" y="205" width="2.79" height="4.6" fill="#62bc48"/>
<rect x="394.4" y="205" width="2.79" height="4.6" fill="#62bc48"/>
<rect x="397.19" y="205" width="2.79" height="4.6" fill="#e8302a"/>
<rect x="399.97" y="205" width="2.79" height="4.6" fill="#62bc48"/>
<rect x="402.76" y="205" width="2.79" height="4.6" fill="#62bc48"/>
<rect x="405.54" y="205" width="2.79" height="4.6" fill="#3b8ed4"/>
<rect x="408.33" y="205" width="2.79" height="4.6" fill="#c98f28"/>
<rect x="411.12" y="205" width="2.79" height="4.6" fill="#3b8ed4"/>
<rect x="413.9" y="205" width="2.79" height="4.6" fill="#62bc48"/>
<rect x="416.69" y="205" width="2.79" height="4.6" fill="#3b8ed4"/>
<rect x="419.47" y="205" width="2.79" height="4.6" fill="#e8302a"/>
<rect x="422.26" y="205" width="2.79" height="4.6" fill="#62bc48"/>
<rect x="425.05" y="205" width="2.79" height="4.6" fill="#c98f28"/>
<rect x="427.83" y="205" width="2.79" height="4.6" fill="#3b8ed4"/>
<rect x="430.62" y="205" width="2.79" height="4.6" fill="#c98f28"/>
<rect x="433.4" y="205" width="2.79" height="4.6" fill="#62bc48"/>
<rect x="436.19" y="205" width="2.79" height="4.6" fill="#62bc48"/>
<rect x="438.98" y="205" width="2.79" height="4.6" fill="#c98f28"/>
<rect x="441.76" y="205" width="2.79" height="4.6" fill="#e8302a"/>
<rect x="444.55" y="205" width="2.79" height="4.6" fill="#3b8ed4"/>
<rect x="447.33" y="205" width="2.79" height="4.6" fill="#e8302a"/>
<rect x="450.12" y="205" width="2.79" height="4.6" fill="#c98f28"/>
<rect x="452.91" y="205" width="2.79" height="4.6" fill="#3b8ed4"/>
<rect x="455.69" y="205" width="2.79" height="4.6" fill="#3b8ed4"/>
<rect x="458.48" y="205" width="2.79" height="4.6" fill="#3b8ed4"/>
<rect x="461.26" y="205" width="2.79" height="4.6" fill="#c98f28"/>
<rect x="46.15" y="213.5" width="417.9" height="5.16" fill="#d8d8d8"/>
<rect x="46.15" y="218.66" width="417.9" height="5.16" fill="#d8d8d8"/>
<rect x="46.15" y="223.82" width="417.9" height="5.16" fill="#f2f2f2"/>
<rect x="46.15" y="228.98" width="417.9" height="5.16" fill="#f2f2f2"/>
<rect x="46.15" y="234.14" width="417.9" height="5.16" fill="#f2f2f2"/>
<rect x="46.15" y="239.3" width="417.9" height="5.16" fill="#f2f2f2"/>
<rect x="46.15" y="244.46" width="417.9" height="5.16" fill="#f2f2f2"/>
<rect x="46.15" y="249.62" width="417.9" height="5.16" fill="#f2f2f2"/>
<rect x="46.15" y="254.78" width="417.9" height="5.16" fill="#f2f2f2"/>
<rect x="46.15" y="259.94" width="417.9" height="5.16" fill="#f2f2f2"/>
<rect x="46.15" y="265.1" width="417.9" height="5.16" fill="#f2f2f2"/>
<rect x="46.15" y="270.26" width="417.9" height="5.16" fill="#f2f2f2"/>
<rect x="46.15" y="275.42" width="417.9" height="5.16" fill="#f2f2f2"/>
<rect x="46.15" y="280.58" width="417.9" height="5.16" fill="#f2f2f2"/>
<rect x="46.15" y="285.74" width="417.9" height="5.16" fill="#d8d8d8"/>
<rect x="46.15" y="290.9" width="417.9" height="5.16" fill="#d8d8d8"/>
<rect x="46.15" y="296.06" width="417.9" height="5.16" fill="#d8d8d8"/>
<rect x="46.15" y="301.22" width="417.9" height="5.16" fill="#d8d8d8"/>
<rect x="46.15" y="306.38" width="417.9" height="5.16" fill="#d8d8d8"/>
<rect x="46.15" y="311.54" width="417.9" height="5.16" fill="#f2f2f2"/>
<rect x="46.15" y="316.7" width="417.9" height="5.16" fill="#f2f2f2"/>
<rect x="46.15" y="321.86" width="417.9" height="5.16" fill="#f2f2f2"/>
<rect x="46.15" y="327.02" width="417.9" height="5.16" fill="#f2f2f2"/>
<rect x="46.15" y="332.18" width="417.9" height="5.16" fill="#d8d8d8"/>
<rect x="46.15" y="337.34" width="417.9" height="5.16" fill="#d8d8d8"/>
<rect x="46.15" y="342.5" width="417.9" height="5.16" fill="#d8d8d8"/>
<rect x="46.15" y="347.66" width="417.9" height="5.16" fill="#d8d8d8"/>
<rect x="46.15" y="352.82" width="417.9" height="5.16" fill="#d8d8d8"/>
<rect x="46.15" y="357.98" width="417.9" height="5.16" fill="#d8d8d8"/>
<rect x="46.15" y="363.14" width="417.9" height="5.16" fill="#f2f2f2"/>
<rect x="46.15" y="368.3" width="417.9" height="5.16" fill="#f2f2f2"/>
<rect x="46.15" y="373.46" width="417.9" height="5.16" fill="#f2f2f2"/>
<rect x="46.15" y="378.62" width="417.9" height="5.16" fill="#f2f2f2"/>
<rect x="46.15" y="383.78" width="417.9" height="5.16" fill="#f2f2f2"/>
<rect x="46.15" y="388.94" width="417.9" height="5.16" fill="#f2f2f2"/>
<rect x="46.15" y="394.1" width="417.9" height="5.16" fill="#f2f2f2"/>
<rect x="46.15" y="399.26" width="417.9" height="5.16" fill="#f2f2f2"/>
<rect x="46.15" y="404.42" width="417.9" height="5.16" fill="#f2f2f2"/>
<rect x="46.15" y="409.58" width="417.9" height="5.16" fill="#d8d8d8"/>
<rect x="46.15" y="414.74" width="417.9" height="5.16" fill="#d8d8d8"/>
<rect x="46.15" y="419.9" width="417.9" height="5.16" fill="#d8d8d8"/>
<rect x="46.15" y="425.06" width="417.9" height="5.16" fill="#d8d8d8"/>
<rect x="46.15" y="430.22" width="417.9" height="5.16" fill="#f2f2f2"/>
<rect x="46.15" y="435.38" width="417.9" height="5.16" fill="#f2f2f2"/>
<rect x="46.15" y="440.54" width="417.9" height="5.16" fill="#f2f2f2"/>
<rect x="46.15" y="445.7" width="417.9" height="5.16" fill="#f2f2f2"/>
<rect x="46.15" y="450.86" width="417.9" height="5.16" fill="#f2f2f2"/>
<rect x="46.15" y="456.02" width="417.9" height="5.16" fill="#d8d8d8"/>
<rect x="46.15" y="461.18" width="417.9" height="5.16" fill="#d8d8d8"/>
<rect x="46.15" y="466.34" width="417.9" height="5.16" fill="#d8d8d8"/>
<rect x="46.15" y="471.5" width="417.9" height="5.16" fill="#d8d8d8"/>
<rect x="46.15" y="476.66" width="417.9" height="5.16" fill="#f2f2f2"/>
<rect x="46.15" y="481.82" width="417.9" height="5.16" fill="#f2f2f2"/>
<rect x="46.15" y="486.98" width="417.9" height="5.16" fill="#f2f2f2"/>
<rect x="46.15" y="492.14" width="417.9" height="5.16" fill="#f2f2f2"/>
<rect x="46.15" y="497.3" width="417.9" height="5.16" fill="#f2f2f2"/>
<rect x="46.15" y="213.5" width="2.79" height="5.16" fill="#e5432b"/>
<rect x="48.94" y="213.5" width="2.79" height="5.16" fill="#e5432b"/>
<rect x="51.72" y="213.5" width="2.79" height="5.16" fill="#e5432b"/>
<rect x="54.51" y="213.5" width="2.79" height="5.16" fill="#1e4b92"/>
<rect x="57.29" y="213.5" width="2.79" height="5.16" fill="#e5432b"/>
<rect x="60.08" y="213.5" width="2.79" height="5.16" fill="#e5432b"/>
<rect x="62.87" y="213.5" width="2.79" height="5.16" fill="#e5432b"/>
<rect x="65.65" y="213.5" width="2.79" height="5.16" fill="#e5432b"/>
<rect x="68.44" y="213.5" width="2.79" height="5.16" fill="#e5432b"/>
<rect x="71.22" y="213.5" width="2.79" height="5.16" fill="#e5432b"/>
<rect x="74.01" y="213.5" width="2.79" height="5.16" fill="#e5432b"/>
<rect x="76.8" y="213.5" width="2.79" height="5.16" fill="#e5432b"/>
<rect x="79.58" y="213.5" width="2.79" height="5.16" fill="#e5432b"/>
<rect x="82.37" y="213.5" width="2.79" height="5.16" fill="#e5432b"/>
<rect x="85.15" y="213.5" width="2.79" height="5.16" fill="#e5432b"/>
<rect x="87.94" y="213.5" width="2.79" height="5.16" fill="#e5432b"/>
<rect x="90.73" y="213.5" width="2.79" height="5.16" fill="#e5432b"/>
<rect x="93.51" y="213.5" width="2.79" height="5.16" fill="#e5432b"/>
<rect x="96.3" y="213.5" width="2.79" height="5.16" fill="#e5432b"/>
<rect x="99.08" y="213.5" width="2.79" height="5.16" fill="#e5432b"/>
<rect x="101.87" y="213.5" width="2.79" height="5.16" fill="#e5432b"/>
<rect x="104.66" y="213.5" width="2.79" height="5.16" fill="#e5432b"/>
<rect x="107.44" y="213.5" width="2.79" height="5.16" fill="#e5432b"/>
<rect x="110.23" y="213.5" width="2.79" height="5.16" fill="#1e4b92"/>
<rect x="113.01" y="213.5" width="2.79" height="5.16" fill="#e5432b"/>
<rect x="115.8" y="213.5" width="2.79" height="5.16" fill="#1e4b92"/>
<rect x="118.59" y="213.5" width="2.79" height="5.16" fill="#e5432b"/>
<rect x="121.37" y="213.5" width="2.79" height="5.16" fill="#e5432b"/>
<rect x="124.16" y="213.5" width="2.79" height="5.16" fill="#e5432b"/>
<rect x="126.94" y="213.5" width="2.79" height="5.16" fill="#3db3e0"/>
<rect x="129.73" y="213.5" width="2.79" height="5.16" fill="#e5432b"/>
<rect x="132.52" y="213.5" width="2.79" height="5.16" fill="#e5432b"/>
<rect x="135.3" y="213.5" width="2.79" height="5.16" fill="#e5432b"/>
<rect x="138.09" y="213.5" width="2.79" height="5.16" fill="#e5432b"/>
<rect x="140.87" y="213.5" width="2.79" height="5.16" fill="#3db3e0"/>
<rect x="143.66" y="213.5" width="2.79" height="5.16" fill="#e5432b"/>
<rect x="146.45" y="213.5" width="2.79" height="5.16" fill="#e5432b"/>
<rect x="149.23" y="213.5" width="2.79" height="5.16" fill="#3db3e0"/>
<rect x="152.02" y="213.5" width="2.79" height="5.16" fill="#e5432b"/>
<rect x="154.8" y="213.5" width="2.79" height="5.16" fill="#1e4b92"/>
<rect x="157.59" y="213.5" width="2.79" height="5.16" fill="#e5432b"/>
<rect x="160.38" y="213.5" width="2.79" height="5.16" fill="#e5432b"/>
<rect x="163.16" y="213.5" width="2.79" height="5.16" fill="#e5432b"/>
<rect x="165.95" y="213.5" width="2.79" height="5.16" fill="#e5432b"/>
<rect x="168.73" y="213.5" width="2.79" height="5.16" fill="#e5432b"/>
<rect x="171.52" y="213.5" width="2.79" height="5.16" fill="#e5432b"/>
<rect x="174.31" y="213.5" width="2.79" height="5.16" fill="#e5432b"/>
<rect x="177.09" y="213.5" width="2.79" height="5.16" fill="#e5432b"/>
<rect x="179.88" y="213.5" width="2.79" height="5.16" fill="#1e4b92"/>
<rect x="46.15" y="218.66" width="2.79" height="5.16" fill="#3db3e0"/>
<rect x="48.94" y="218.66" width="2.79" height="5.16" fill="#3db3e0"/>
<rect x="51.72" y="218.66" width="2.79" height="5.16" fill="#3db3e0"/>
<rect x="54.51" y="218.66" width="2.79" height="5.16" fill="#3db3e0"/>
<rect x="182.66" y="218.66" width="2.79" height="5.16" fill="#3db3e0"/>
<rect x="185.45" y="218.66" width="2.79" height="5.16" fill="#3db3e0"/>
<rect x="188.24" y="218.66" width="2.79" height="5.16" fill="#3db3e0"/>
<rect x="191.02" y="218.66" width="2.79" height="5.16" fill="#3db3e0"/>
<rect x="193.81" y="218.66" width="2.79" height="5.16" fill="#e5432b"/>
<rect x="196.59" y="218.66" width="2.79" height="5.16" fill="#3db3e0"/>
<rect x="199.38" y="218.66" width="2.79" height="5.16" fill="#3db3e0"/>
<rect x="202.17" y="218.66" width="2.79" height="5.16" fill="#3db3e0"/>
<rect x="204.95" y="218.66" width="2.79" height="5.16" fill="#3db3e0"/>
<rect x="207.74" y="218.66" width="2.79" height="5.16" fill="#3db3e0"/>
<rect x="210.52" y="218.66" width="2.79" height="5.16" fill="#3db3e0"/>
<rect x="213.31" y="218.66" width="2.79" height="5.16" fill="#1e4b92"/>
<rect x="216.1" y="218.66" width="2.79" height="5.16" fill="#3db3e0"/>
<rect x="218.88" y="218.66" width="2.79" height="5.16" fill="#1e4b92"/>
<rect x="221.67" y="218.66" width="2.79" height="5.16" fill="#3db3e0"/>
<rect x="224.45" y="218.66" width="2.79" height="5.16" fill="#3db3e0"/>
<rect x="227.24" y="218.66" width="2.79" height="5.16" fill="#3db3e0"/>
<rect x="230.03" y="218.66" width="2.79" height="5.16" fill="#3db3e0"/>
<rect x="232.81" y="218.66" width="2.79" height="5.16" fill="#1e4b92"/>
<rect x="235.6" y="218.66" width="2.79" height="5.16" fill="#3db3e0"/>
<rect x="238.38" y="218.66" width="2.79" height="5.16" fill="#3db3e0"/>
<rect x="241.17" y="218.66" width="2.79" height="5.16" fill="#3db3e0"/>
<rect x="243.96" y="218.66" width="2.79" height="5.16" fill="#3db3e0"/>
<rect x="246.74" y="218.66" width="2.79" height="5.16" fill="#3db3e0"/>
<rect x="249.53" y="218.66" width="2.79" height="5.16" fill="#3db3e0"/>
<rect x="252.31" y="218.66" width="2.79" height="5.16" fill="#3db3e0"/>
<rect x="255.1" y="218.66" width="2.79" height="5.16" fill="#3db3e0"/>
<rect x="257.89" y="218.66" width="2.79" height="5.16" fill="#3db3e0"/>
<rect x="260.67" y="218.66" width="2.79" height="5.16" fill="#3db3e0"/>
<rect x="263.46" y="218.66" width="2.79" height="5.16" fill="#3db3e0"/>
<rect x="266.24" y="218.66" width="2.79" height="5.16" fill="#3db3e0"/>
<rect x="46.15" y="223.82" width="2.79" height="5.16" fill="#3db3e0"/>
<rect x="48.94" y="223.82" width="2.79" height="5.16" fill="#e5432b"/>
<rect x="51.72" y="223.82" width="2.79" height="5.16" fill="#e5432b"/>
<rect x="57.29" y="223.82" width="2.79" height="5.16" fill="#e5432b"/>
<rect x="60.08" y="223.82" width="2.79" height="5.16" fill="#e5432b"/>
<rect x="62.87" y="223.82" width="2.79" height="5.16" fill="#e5432b"/>
<rect x="65.65" y="223.82" width="2.79" height="5.16" fill="#e5432b"/>
<rect x="68.44" y="223.82" width="2.79" height="5.16" fill="#e5432b"/>
<rect x="71.22" y="223.82" width="2.79" height="5.16" fill="#e5432b"/>
<rect x="74.01" y="223.82" width="2.79" height="5.16" fill="#3db3e0"/>
<rect x="76.8" y="223.82" width="2.79" height="5.16" fill="#e5432b"/>
<rect x="79.58" y="223.82" width="2.79" height="5.16" fill="#e5432b"/>
<rect x="82.37" y="223.82" width="2.79" height="5.16" fill="#e5432b"/>
<rect x="85.15" y="223.82" width="2.79" height="5.16" fill="#e5432b"/>
<rect x="87.94" y="223.82" width="2.79" height="5.16" fill="#e5432b"/>
<rect x="90.73" y="223.82" width="2.79" height="5.16" fill="#e5432b"/>
<rect x="93.51" y="223.82" width="2.79" height="5.16" fill="#e5432b"/>
<rect x="96.3" y="223.82" width="2.79" height="5.16" fill="#e5432b"/>
<rect x="99.08" y="223.82" width="2.79" height="5.16" fill="#e5432b"/>
<rect x="101.87" y="223.82" width="2.79" height="5.16" fill="#1e4b92"/>
<rect x="104.66" y="223.82" width="2.79" height="5.16" fill="#e5432b"/>
<rect x="107.44" y="223.82" width="2.79" height="5.16" fill="#e5432b"/>
<rect x="182.66" y="223.82" width="2.79" height="5.16" fill="#1e4b92"/>
<rect x="185.45" y="223.82" width="2.79" height="5.16" fill="#e5432b"/>
<rect x="188.24" y="223.82" width="2.79" height="5.16" fill="#e5432b"/>
<rect x="191.02" y="223.82" width="2.79" height="5.16" fill="#e5432b"/>
<rect x="193.81" y="223.82" width="2.79" height="5.16" fill="#e5432b"/>
<rect x="196.59" y="223.82" width="2.79" height="5.16" fill="#e5432b"/>
<rect x="199.38" y="223.82" width="2.79" height="5.16" fill="#e5432b"/>
<rect x="202.17" y="223.82" width="2.79" height="5.16" fill="#e5432b"/>
<rect x="204.95" y="223.82" width="2.79" height="5.16" fill="#e5432b"/>
<rect x="207.74" y="223.82" width="2.79" height="5.16" fill="#1e4b92"/>
<rect x="210.52" y="223.82" width="2.79" height="5.16" fill="#e5432b"/>
<rect x="213.31" y="223.82" width="2.79" height="5.16" fill="#3db3e0"/>
<rect x="269.03" y="223.82" width="2.79" height="5.16" fill="#e5432b"/>
<rect x="271.82" y="223.82" width="2.79" height="5.16" fill="#e5432b"/>
<rect x="274.6" y="223.82" width="2.79" height="5.16" fill="#3db3e0"/>
<rect x="277.39" y="223.82" width="2.79" height="5.16" fill="#e5432b"/>
<rect x="280.17" y="223.82" width="2.79" height="5.16" fill="#3db3e0"/>
<rect x="282.96" y="223.82" width="2.79" height="5.16" fill="#e5432b"/>
<rect x="285.75" y="223.82" width="2.79" height="5.16" fill="#e5432b"/>
<rect x="288.53" y="223.82" width="2.79" height="5.16" fill="#3db3e0"/>
<rect x="291.32" y="223.82" width="2.79" height="5.16" fill="#e5432b"/>
<rect x="294.1" y="223.82" width="2.79" height="5.16" fill="#e5432b"/>
<rect x="296.89" y="223.82" width="2.79" height="5.16" fill="#e5432b"/>
<rect x="299.68" y="223.82" width="2.79" height="5.16" fill="#e5432b"/>
<rect x="302.46" y="223.82" width="2.79" height="5.16" fill="#e5432b"/>
<rect x="305.25" y="223.82" width="2.79" height="5.16" fill="#3db3e0"/>
<rect x="308.03" y="223.82" width="2.79" height="5.16" fill="#3db3e0"/>
<rect x="310.82" y="223.82" width="2.79" height="5.16" fill="#e5432b"/>
<rect x="313.61" y="223.82" width="2.79" height="5.16" fill="#3db3e0"/>
<rect x="316.39" y="223.82" width="2.79" height="5.16" fill="#3db3e0"/>
<rect x="319.18" y="223.82" width="2.79" height="5.16" fill="#3db3e0"/>
<rect x="321.96" y="223.82" width="2.79" height="5.16" fill="#e5432b"/>
<rect x="324.75" y="223.82" width="2.79" height="5.16" fill="#1e4b92"/>
<rect x="327.54" y="223.82" width="2.79" height="5.16" fill="#3db3e0"/>
<rect x="330.32" y="223.82" width="2.79" height="5.16" fill="#1e4b92"/>
<rect x="333.11" y="223.82" width="2.79" height="5.16" fill="#3db3e0"/>
<rect x="335.89" y="223.82" width="2.79" height="5.16" fill="#3db3e0"/>
<rect x="46.15" y="228.98" width="2.79" height="5.16" fill="#e5432b"/>
<rect x="57.29" y="228.98" width="2.79" height="5.16" fill="#e5432b"/>
<rect x="60.08" y="228.98" width="2.79" height="5.16" fill="#e5432b"/>
<rect x="62.87" y="228.98" width="2.79" height="5.16" fill="#e5432b"/>
<rect x="65.65" y="228.98" width="2.79" height="5.16" fill="#e5432b"/>
<rect x="68.44" y="228.98" width="2.79" height="5.16" fill="#e5432b"/>
<rect x="71.22" y="228.98" width="2.79" height="5.16" fill="#e5432b"/>
<rect x="74.01" y="228.98" width="2.79" height="5.16" fill="#e5432b"/>
<rect x="76.8" y="228.98" width="2.79" height="5.16" fill="#e5432b"/>
<rect x="110.23" y="228.98" width="2.79" height="5.16" fill="#e5432b"/>
<rect x="113.01" y="228.98" width="2.79" height="5.16" fill="#e5432b"/>
<rect x="115.8" y="228.98" width="2.79" height="5.16" fill="#e5432b"/>
<rect x="118.59" y="228.98" width="2.79" height="5.16" fill="#e5432b"/>
<rect x="121.37" y="228.98" width="2.79" height="5.16" fill="#e5432b"/>
<rect x="124.16" y="228.98" width="2.79" height="5.16" fill="#e5432b"/>
<rect x="126.94" y="228.98" width="2.79" height="5.16" fill="#e5432b"/>
<rect x="129.73" y="228.98" width="2.79" height="5.16" fill="#e5432b"/>
<rect x="132.52" y="228.98" width="2.79" height="5.16" fill="#e5432b"/>
<rect x="135.3" y="228.98" width="2.79" height="5.16" fill="#e5432b"/>
<rect x="138.09" y="228.98" width="2.79" height="5.16" fill="#e5432b"/>
<rect x="182.66" y="228.98" width="2.79" height="5.16" fill="#e5432b"/>
<rect x="185.45" y="228.98" width="2.79" height="5.16" fill="#e5432b"/>
<rect x="188.24" y="228.98" width="2.79" height="5.16" fill="#e5432b"/>
<rect x="191.02" y="228.98" width="2.79" height="5.16" fill="#e5432b"/>
<rect x="193.81" y="228.98" width="2.79" height="5.16" fill="#e5432b"/>
<rect x="216.1" y="228.98" width="2.79" height="5.16" fill="#e5432b"/>
<rect x="218.88" y="228.98" width="2.79" height="5.16" fill="#e5432b"/>
<rect x="221.67" y="228.98" width="2.79" height="5.16" fill="#e5432b"/>
<rect x="224.45" y="228.98" width="2.79" height="5.16" fill="#e5432b"/>
<rect x="227.24" y="228.98" width="2.79" height="5.16" fill="#e5432b"/>
<rect x="230.03" y="228.98" width="2.79" height="5.16" fill="#e5432b"/>
<rect x="232.81" y="228.98" width="2.79" height="5.16" fill="#e5432b"/>
<rect x="235.6" y="228.98" width="2.79" height="5.16" fill="#e5432b"/>
<rect x="238.38" y="228.98" width="2.79" height="5.16" fill="#e5432b"/>
<rect x="269.03" y="228.98" width="2.79" height="5.16" fill="#e5432b"/>
<rect x="271.82" y="228.98" width="2.79" height="5.16" fill="#e5432b"/>
<rect x="274.6" y="228.98" width="2.79" height="5.16" fill="#e5432b"/>
<rect x="277.39" y="228.98" width="2.79" height="5.16" fill="#e5432b"/>
<rect x="280.17" y="228.98" width="2.79" height="5.16" fill="#e5432b"/>
<rect x="282.96" y="228.98" width="2.79" height="5.16" fill="#e5432b"/>
<rect x="285.75" y="228.98" width="2.79" height="5.16" fill="#e5432b"/>
<rect x="288.53" y="228.98" width="2.79" height="5.16" fill="#e5432b"/>
<rect x="338.68" y="228.98" width="2.79" height="5.16" fill="#e5432b"/>
<rect x="341.47" y="228.98" width="2.79" height="5.16" fill="#e5432b"/>
<rect x="344.25" y="228.98" width="2.79" height="5.16" fill="#e5432b"/>
<rect x="347.04" y="228.98" width="2.79" height="5.16" fill="#e5432b"/>
<rect x="349.82" y="228.98" width="2.79" height="5.16" fill="#e5432b"/>
<rect x="352.61" y="228.98" width="2.79" height="5.16" fill="#e5432b"/>
<rect x="355.4" y="228.98" width="2.79" height="5.16" fill="#e5432b"/>
<rect x="358.18" y="228.98" width="2.79" height="5.16" fill="#e5432b"/>
<rect x="360.97" y="228.98" width="2.79" height="5.16" fill="#e5432b"/>
<rect x="363.75" y="228.98" width="2.79" height="5.16" fill="#e5432b"/>
<rect x="366.54" y="228.98" width="2.79" height="5.16" fill="#e5432b"/>
<rect x="369.33" y="228.98" width="2.79" height="5.16" fill="#e5432b"/>
<rect x="372.11" y="228.98" width="2.79" height="5.16" fill="#e5432b"/>
<rect x="374.9" y="228.98" width="2.79" height="5.16" fill="#e5432b"/>
<rect x="46.15" y="234.14" width="2.79" height="5.16" fill="#e5432b"/>
<rect x="48.94" y="234.14" width="2.79" height="5.16" fill="#e5432b"/>
<rect x="51.72" y="234.14" width="2.79" height="5.16" fill="#e5432b"/>
<rect x="57.29" y="234.14" width="2.79" height="5.16" fill="#e5432b"/>
<rect x="60.08" y="234.14" width="2.79" height="5.16" fill="#e5432b"/>
<rect x="62.87" y="234.14" width="2.79" height="5.16" fill="#e5432b"/>
<rect x="65.65" y="234.14" width="2.79" height="5.16" fill="#e5432b"/>
<rect x="68.44" y="234.14" width="2.79" height="5.16" fill="#e5432b"/>
<rect x="71.22" y="234.14" width="2.79" height="5.16" fill="#e5432b"/>
<rect x="79.58" y="234.14" width="2.79" height="5.16" fill="#e5432b"/>
<rect x="82.37" y="234.14" width="2.79" height="5.16" fill="#e5432b"/>
<rect x="85.15" y="234.14" width="2.79" height="5.16" fill="#e5432b"/>
<rect x="87.94" y="234.14" width="2.79" height="5.16" fill="#e5432b"/>
<rect x="90.73" y="234.14" width="2.79" height="5.16" fill="#e5432b"/>
<rect x="93.51" y="234.14" width="2.79" height="5.16" fill="#e5432b"/>
<rect x="96.3" y="234.14" width="2.79" height="5.16" fill="#e5432b"/>
<rect x="110.23" y="234.14" width="2.79" height="5.16" fill="#e5432b"/>
<rect x="113.01" y="234.14" width="2.79" height="5.16" fill="#e5432b"/>
<rect x="115.8" y="234.14" width="2.79" height="5.16" fill="#e5432b"/>
<rect x="140.87" y="234.14" width="2.79" height="5.16" fill="#e5432b"/>
<rect x="143.66" y="234.14" width="2.79" height="5.16" fill="#e5432b"/>
<rect x="146.45" y="234.14" width="2.79" height="5.16" fill="#e5432b"/>
<rect x="182.66" y="234.14" width="2.79" height="5.16" fill="#e5432b"/>
<rect x="185.45" y="234.14" width="2.79" height="5.16" fill="#e5432b"/>
<rect x="188.24" y="234.14" width="2.79" height="5.16" fill="#e5432b"/>
<rect x="196.59" y="234.14" width="2.79" height="5.16" fill="#e5432b"/>
<rect x="199.38" y="234.14" width="2.79" height="5.16" fill="#e5432b"/>
<rect x="202.17" y="234.14" width="2.79" height="5.16" fill="#e5432b"/>
<rect x="241.17" y="234.14" width="2.79" height="5.16" fill="#e5432b"/>
<rect x="243.96" y="234.14" width="2.79" height="5.16" fill="#e5432b"/>
<rect x="246.74" y="234.14" width="2.79" height="5.16" fill="#e5432b"/>
<rect x="249.53" y="234.14" width="2.79" height="5.16" fill="#e5432b"/>
<rect x="252.31" y="234.14" width="2.79" height="5.16" fill="#e5432b"/>
<rect x="269.03" y="234.14" width="2.79" height="5.16" fill="#e5432b"/>
<rect x="291.32" y="234.14" width="2.79" height="5.16" fill="#e5432b"/>
<rect x="294.1" y="234.14" width="2.79" height="5.16" fill="#e5432b"/>
<rect x="296.89" y="234.14" width="2.79" height="5.16" fill="#e5432b"/>
<rect x="299.68" y="234.14" width="2.79" height="5.16" fill="#e5432b"/>
<rect x="302.46" y="234.14" width="2.79" height="5.16" fill="#e5432b"/>
<rect x="338.68" y="234.14" width="2.79" height="5.16" fill="#e5432b"/>
<rect x="341.47" y="234.14" width="2.79" height="5.16" fill="#e5432b"/>
<rect x="344.25" y="234.14" width="2.79" height="5.16" fill="#e5432b"/>
<rect x="347.04" y="234.14" width="2.79" height="5.16" fill="#e5432b"/>
<rect x="349.82" y="234.14" width="2.79" height="5.16" fill="#e5432b"/>
<rect x="377.68" y="234.14" width="2.79" height="5.16" fill="#e5432b"/>
<rect x="380.47" y="234.14" width="2.79" height="5.16" fill="#e5432b"/>
<rect x="383.26" y="234.14" width="2.79" height="5.16" fill="#e5432b"/>
<rect x="74.01" y="239.3" width="2.79" height="5.16" fill="#e5432b"/>
<rect x="110.23" y="239.3" width="2.79" height="5.16" fill="#3db3e0"/>
<rect x="118.59" y="239.3" width="2.79" height="5.16" fill="#e5432b"/>
<rect x="121.37" y="239.3" width="2.79" height="5.16" fill="#3db3e0"/>
<rect x="149.23" y="239.3" width="2.79" height="5.16" fill="#3db3e0"/>
<rect x="152.02" y="239.3" width="2.79" height="5.16" fill="#3db3e0"/>
<rect x="182.66" y="239.3" width="2.79" height="5.16" fill="#3db3e0"/>
<rect x="185.45" y="239.3" width="2.79" height="5.16" fill="#e5432b"/>
<rect x="216.1" y="239.3" width="2.79" height="5.16" fill="#3db3e0"/>
<rect x="218.88" y="239.3" width="2.79" height="5.16" fill="#e5432b"/>
<rect x="255.1" y="239.3" width="2.79" height="5.16" fill="#3db3e0"/>
<rect x="271.82" y="239.3" width="2.79" height="5.16" fill="#3db3e0"/>
<rect x="305.25" y="239.3" width="2.79" height="5.16" fill="#e5432b"/>
<rect x="338.68" y="239.3" width="2.79" height="5.16" fill="#3db3e0"/>
<rect x="352.61" y="239.3" width="2.79" height="5.16" fill="#3db3e0"/>
<rect x="355.4" y="239.3" width="2.79" height="5.16" fill="#3db3e0"/>
<rect x="358.18" y="239.3" width="2.79" height="5.16" fill="#e5432b"/>
<rect x="377.68" y="239.3" width="2.79" height="5.16" fill="#3db3e0"/>
<rect x="386.04" y="239.3" width="2.79" height="5.16" fill="#3db3e0"/>
<rect x="388.83" y="239.3" width="2.79" height="5.16" fill="#e5432b"/>
<rect x="391.61" y="239.3" width="2.79" height="5.16" fill="#e5432b"/>
<rect x="48.94" y="244.46" width="2.79" height="5.16" fill="#e5432b"/>
<rect x="57.29" y="244.46" width="2.79" height="5.16" fill="#e5432b"/>
<rect x="124.16" y="244.46" width="2.79" height="5.16" fill="#3db3e0"/>
<rect x="126.94" y="244.46" width="2.79" height="5.16" fill="#e5432b"/>
<rect x="204.95" y="244.46" width="2.79" height="5.16" fill="#3db3e0"/>
<rect x="308.03" y="244.46" width="2.79" height="5.16" fill="#e5432b"/>
<rect x="310.82" y="244.46" width="2.79" height="5.16" fill="#e5432b"/>
<rect x="360.97" y="244.46" width="2.79" height="5.16" fill="#3db3e0"/>
<rect x="394.4" y="244.46" width="2.79" height="5.16" fill="#e5432b"/>
<rect x="60.08" y="249.62" width="2.79" height="5.16" fill="#1e4b92"/>
<rect x="74.01" y="249.62" width="2.79" height="5.16" fill="#e5432b"/>
<rect x="118.59" y="249.62" width="2.79" height="5.16" fill="#e5432b"/>
<rect x="124.16" y="249.62" width="2.79" height="5.16" fill="#e5432b"/>
<rect x="126.94" y="249.62" width="2.79" height="5.16" fill="#3db3e0"/>
<rect x="129.73" y="249.62" width="2.79" height="5.16" fill="#e5432b"/>
<rect x="140.87" y="249.62" width="2.79" height="5.16" fill="#e5432b"/>
<rect x="149.23" y="249.62" width="2.79" height="5.16" fill="#3db3e0"/>
<rect x="154.8" y="249.62" width="2.79" height="5.16" fill="#e5432b"/>
<rect x="182.66" y="249.62" width="2.79" height="5.16" fill="#e5432b"/>
<rect x="188.24" y="249.62" width="2.79" height="5.16" fill="#e5432b"/>
<rect x="191.02" y="249.62" width="2.79" height="5.16" fill="#3db3e0"/>
<rect x="207.74" y="249.62" width="2.79" height="5.16" fill="#e5432b"/>
<rect x="221.67" y="249.62" width="2.79" height="5.16" fill="#e5432b"/>
<rect x="224.45" y="249.62" width="2.79" height="5.16" fill="#e5432b"/>
<rect x="227.24" y="249.62" width="2.79" height="5.16" fill="#e5432b"/>
<rect x="274.6" y="249.62" width="2.79" height="5.16" fill="#e5432b"/>
<rect x="291.32" y="249.62" width="2.79" height="5.16" fill="#e5432b"/>
<rect x="305.25" y="249.62" width="2.79" height="5.16" fill="#e5432b"/>
<rect x="313.61" y="249.62" width="2.79" height="5.16" fill="#3db3e0"/>
<rect x="316.39" y="249.62" width="2.79" height="5.16" fill="#e5432b"/>
<rect x="338.68" y="249.62" width="2.79" height="5.16" fill="#e5432b"/>
<rect x="352.61" y="249.62" width="2.79" height="5.16" fill="#e5432b"/>
<rect x="355.4" y="249.62" width="2.79" height="5.16" fill="#e5432b"/>
<rect x="358.18" y="249.62" width="2.79" height="5.16" fill="#e5432b"/>
<rect x="363.75" y="249.62" width="2.79" height="5.16" fill="#3db3e0"/>
<rect x="394.4" y="249.62" width="2.79" height="5.16" fill="#e5432b"/>
<rect x="397.19" y="249.62" width="2.79" height="5.16" fill="#e5432b"/>
<rect x="399.97" y="249.62" width="2.79" height="5.16" fill="#3db3e0"/>
<rect x="110.23" y="254.78" width="2.79" height="5.16" fill="#e5432b"/>
<rect x="113.01" y="254.78" width="2.79" height="5.16" fill="#e5432b"/>
<rect x="118.59" y="254.78" width="2.79" height="5.16" fill="#e5432b"/>
<rect x="121.37" y="254.78" width="2.79" height="5.16" fill="#e5432b"/>
<rect x="149.23" y="254.78" width="2.79" height="5.16" fill="#e5432b"/>
<rect x="157.59" y="254.78" width="2.79" height="5.16" fill="#e5432b"/>
<rect x="182.66" y="254.78" width="2.79" height="5.16" fill="#e5432b"/>
<rect x="207.74" y="254.78" width="2.79" height="5.16" fill="#e5432b"/>
<rect x="230.03" y="254.78" width="2.79" height="5.16" fill="#e5432b"/>
<rect x="232.81" y="254.78" width="2.79" height="5.16" fill="#e5432b"/>
<rect x="255.1" y="254.78" width="2.79" height="5.16" fill="#e5432b"/>
<rect x="257.89" y="254.78" width="2.79" height="5.16" fill="#e5432b"/>
<rect x="274.6" y="254.78" width="2.79" height="5.16" fill="#e5432b"/>
<rect x="313.61" y="254.78" width="2.79" height="5.16" fill="#e5432b"/>
<rect x="319.18" y="254.78" width="2.79" height="5.16" fill="#e5432b"/>
<rect x="338.68" y="254.78" width="2.79" height="5.16" fill="#e5432b"/>
<rect x="360.97" y="254.78" width="2.79" height="5.16" fill="#e5432b"/>
<rect x="377.68" y="254.78" width="2.79" height="5.16" fill="#e5432b"/>
<rect x="397.19" y="254.78" width="2.79" height="5.16" fill="#e5432b"/>
<rect x="110.23" y="259.94" width="2.79" height="5.16" fill="#e5432b"/>
<rect x="118.59" y="259.94" width="2.79" height="5.16" fill="#e5432b"/>
<rect x="221.67" y="259.94" width="2.79" height="5.16" fill="#e5432b"/>
<rect x="255.1" y="259.94" width="2.79" height="5.16" fill="#e5432b"/>
<rect x="294.1" y="259.94" width="2.79" height="5.16" fill="#e5432b"/>
<rect x="366.54" y="259.94" width="2.79" height="5.16" fill="#e5432b"/>
<rect x="402.76" y="259.94" width="2.79" height="5.16" fill="#e5432b"/>
<rect x="57.29" y="265.1" width="2.79" height="5.16" fill="#1e4b92"/>
<rect x="79.58" y="265.1" width="2.79" height="5.16" fill="#e5432b"/>
<rect x="82.37" y="265.1" width="2.79" height="5.16" fill="#e5432b"/>
<rect x="99.08" y="265.1" width="2.79" height="5.16" fill="#3db3e0"/>
<rect x="143.66" y="265.1" width="2.79" height="5.16" fill="#1e4b92"/>
<rect x="149.23" y="265.1" width="2.79" height="5.16" fill="#3db3e0"/>
<rect x="152.02" y="265.1" width="2.79" height="5.16" fill="#3db3e0"/>
<rect x="160.38" y="265.1" width="2.79" height="5.16" fill="#1e4b92"/>
<rect x="185.45" y="265.1" width="2.79" height="5.16" fill="#3db3e0"/>
<rect x="196.59" y="265.1" width="2.79" height="5.16" fill="#3db3e0"/>
<rect x="216.1" y="265.1" width="2.79" height="5.16" fill="#3db3e0"/>
<rect x="260.67" y="265.1" width="2.79" height="5.16" fill="#3db3e0"/>
<rect x="296.89" y="265.1" width="2.79" height="5.16" fill="#e5432b"/>
<rect x="299.68" y="265.1" width="2.79" height="5.16" fill="#e5432b"/>
<rect x="308.03" y="265.1" width="2.79" height="5.16" fill="#3db3e0"/>
<rect x="313.61" y="265.1" width="2.79" height="5.16" fill="#1e4b92"/>
<rect x="321.96" y="265.1" width="2.79" height="5.16" fill="#3db3e0"/>
<rect x="324.75" y="265.1" width="2.79" height="5.16" fill="#1e4b92"/>
<rect x="380.47" y="265.1" width="2.79" height="5.16" fill="#3db3e0"/>
<rect x="386.04" y="265.1" width="2.79" height="5.16" fill="#3db3e0"/>
<rect x="388.83" y="265.1" width="2.79" height="5.16" fill="#3db3e0"/>
<rect x="405.54" y="265.1" width="2.79" height="5.16" fill="#3db3e0"/>
<rect x="408.33" y="265.1" width="2.79" height="5.16" fill="#1e4b92"/>
<rect x="60.08" y="270.26" width="2.79" height="5.16" fill="#e5432b"/>
<rect x="85.15" y="270.26" width="2.79" height="5.16" fill="#3db3e0"/>
<rect x="113.01" y="270.26" width="2.79" height="5.16" fill="#3db3e0"/>
<rect x="118.59" y="270.26" width="2.79" height="5.16" fill="#3db3e0"/>
<rect x="140.87" y="270.26" width="2.79" height="5.16" fill="#f2a794"/>
<rect x="146.45" y="270.26" width="2.79" height="5.16" fill="#e5432b"/>
<rect x="160.38" y="270.26" width="2.79" height="5.16" fill="#e5432b"/>
<rect x="185.45" y="270.26" width="2.79" height="5.16" fill="#3db3e0"/>
<rect x="199.38" y="270.26" width="2.79" height="5.16" fill="#3db3e0"/>
<rect x="235.6" y="270.26" width="2.79" height="5.16" fill="#3db3e0"/>
<rect x="260.67" y="270.26" width="2.79" height="5.16" fill="#e5432b"/>
<rect x="277.39" y="270.26" width="2.79" height="5.16" fill="#3db3e0"/>
<rect x="280.17" y="270.26" width="2.79" height="5.16" fill="#3db3e0"/>
<rect x="366.54" y="270.26" width="2.79" height="5.16" fill="#3db3e0"/>
<rect x="394.4" y="270.26" width="2.79" height="5.16" fill="#3db3e0"/>
<rect x="402.76" y="270.26" width="2.79" height="5.16" fill="#e5432b"/>
<rect x="411.12" y="270.26" width="2.79" height="5.16" fill="#3db3e0"/>
<rect x="413.9" y="270.26" width="2.79" height="5.16" fill="#e5432b"/>
<rect x="48.94" y="275.42" width="2.79" height="5.16" fill="#3db3e0"/>
<rect x="62.87" y="275.42" width="2.79" height="5.16" fill="#3db3e0"/>
<rect x="65.65" y="275.42" width="2.79" height="5.16" fill="#3db3e0"/>
<rect x="76.8" y="275.42" width="2.79" height="5.16" fill="#3db3e0"/>
<rect x="85.15" y="275.42" width="2.79" height="5.16" fill="#3db3e0"/>
<rect x="101.87" y="275.42" width="2.79" height="5.16" fill="#3db3e0"/>
<rect x="110.23" y="275.42" width="2.79" height="5.16" fill="#3db3e0"/>
<rect x="115.8" y="275.42" width="2.79" height="5.16" fill="#3db3e0"/>
<rect x="118.59" y="275.42" width="2.79" height="5.16" fill="#3db3e0"/>
<rect x="140.87" y="275.42" width="2.79" height="5.16" fill="#3db3e0"/>
<rect x="163.16" y="275.42" width="2.79" height="5.16" fill="#3db3e0"/>
<rect x="204.95" y="275.42" width="2.79" height="5.16" fill="#3db3e0"/>
<rect x="216.1" y="275.42" width="2.79" height="5.16" fill="#3db3e0"/>
<rect x="241.17" y="275.42" width="2.79" height="5.16" fill="#3db3e0"/>
<rect x="243.96" y="275.42" width="2.79" height="5.16" fill="#3db3e0"/>
<rect x="321.96" y="275.42" width="2.79" height="5.16" fill="#3db3e0"/>
<rect x="341.47" y="275.42" width="2.79" height="5.16" fill="#3db3e0"/>
<rect x="344.25" y="275.42" width="2.79" height="5.16" fill="#3db3e0"/>
<rect x="394.4" y="275.42" width="2.79" height="5.16" fill="#3db3e0"/>
<rect x="46.15" y="280.58" width="2.79" height="5.16" fill="#e5432b"/>
<rect x="62.87" y="280.58" width="2.79" height="5.16" fill="#e5432b"/>
<rect x="76.8" y="280.58" width="2.79" height="5.16" fill="#3db3e0"/>
<rect x="79.58" y="280.58" width="2.79" height="5.16" fill="#e5432b"/>
<rect x="85.15" y="280.58" width="2.79" height="5.16" fill="#e5432b"/>
<rect x="104.66" y="280.58" width="2.79" height="5.16" fill="#e5432b"/>
<rect x="110.23" y="280.58" width="2.79" height="5.16" fill="#e5432b"/>
<rect x="113.01" y="280.58" width="2.79" height="5.16" fill="#e5432b"/>
<rect x="115.8" y="280.58" width="2.79" height="5.16" fill="#1e4b92"/>
<rect x="129.73" y="280.58" width="2.79" height="5.16" fill="#e5432b"/>
<rect x="132.52" y="280.58" width="2.79" height="5.16" fill="#e5432b"/>
<rect x="182.66" y="280.58" width="2.79" height="5.16" fill="#3db3e0"/>
<rect x="199.38" y="280.58" width="2.79" height="5.16" fill="#3db3e0"/>
<rect x="210.52" y="280.58" width="2.79" height="5.16" fill="#e5432b"/>
<rect x="213.31" y="280.58" width="2.79" height="5.16" fill="#e5432b"/>
<rect x="230.03" y="280.58" width="2.79" height="5.16" fill="#e5432b"/>
<rect x="235.6" y="280.58" width="2.79" height="5.16" fill="#3db3e0"/>
<rect x="241.17" y="280.58" width="2.79" height="5.16" fill="#e5432b"/>
<rect x="246.74" y="280.58" width="2.79" height="5.16" fill="#e5432b"/>
<rect x="257.89" y="280.58" width="2.79" height="5.16" fill="#e5432b"/>
<rect x="263.46" y="280.58" width="2.79" height="5.16" fill="#3db3e0"/>
<rect x="271.82" y="280.58" width="2.79" height="5.16" fill="#3db3e0"/>
<rect x="282.96" y="280.58" width="2.79" height="5.16" fill="#e5432b"/>
<rect x="285.75" y="280.58" width="2.79" height="5.16" fill="#e5432b"/>
<rect x="302.46" y="280.58" width="2.79" height="5.16" fill="#3db3e0"/>
<rect x="313.61" y="280.58" width="2.79" height="5.16" fill="#e5432b"/>
<rect x="341.47" y="280.58" width="2.79" height="5.16" fill="#e5432b"/>
<rect x="352.61" y="280.58" width="2.79" height="5.16" fill="#3db3e0"/>
<rect x="383.26" y="280.58" width="2.79" height="5.16" fill="#e5432b"/>
<rect x="405.54" y="280.58" width="2.79" height="5.16" fill="#e5432b"/>
<rect x="411.12" y="280.58" width="2.79" height="5.16" fill="#3db3e0"/>
<rect x="416.69" y="280.58" width="2.79" height="5.16" fill="#e5432b"/>
<rect x="76.8" y="285.74" width="2.79" height="5.16" fill="#e5432b"/>
<rect x="101.87" y="285.74" width="2.79" height="5.16" fill="#e5432b"/>
<rect x="107.44" y="285.74" width="2.79" height="5.16" fill="#e5432b"/>
<rect x="113.01" y="285.74" width="2.79" height="5.16" fill="#e5432b"/>
<rect x="118.59" y="285.74" width="2.79" height="5.16" fill="#e5432b"/>
<rect x="124.16" y="285.74" width="2.79" height="5.16" fill="#e5432b"/>
<rect x="126.94" y="285.74" width="2.79" height="5.16" fill="#e5432b"/>
<rect x="154.8" y="285.74" width="2.79" height="5.16" fill="#e5432b"/>
<rect x="160.38" y="285.74" width="2.79" height="5.16" fill="#e5432b"/>
<rect x="185.45" y="285.74" width="2.79" height="5.16" fill="#e5432b"/>
<rect x="210.52" y="285.74" width="2.79" height="5.16" fill="#e5432b"/>
<rect x="216.1" y="285.74" width="2.79" height="5.16" fill="#e5432b"/>
<rect x="218.88" y="285.74" width="2.79" height="5.16" fill="#e5432b"/>
<rect x="224.45" y="285.74" width="2.79" height="5.16" fill="#e5432b"/>
<rect x="232.81" y="285.74" width="2.79" height="5.16" fill="#e5432b"/>
<rect x="260.67" y="285.74" width="2.79" height="5.16" fill="#e5432b"/>
<rect x="271.82" y="285.74" width="2.79" height="5.16" fill="#e5432b"/>
<rect x="291.32" y="285.74" width="2.79" height="5.16" fill="#e5432b"/>
<rect x="305.25" y="285.74" width="2.79" height="5.16" fill="#e5432b"/>
<rect x="308.03" y="285.74" width="2.79" height="5.16" fill="#e5432b"/>
<rect x="319.18" y="285.74" width="2.79" height="5.16" fill="#e5432b"/>
<rect x="327.54" y="285.74" width="2.79" height="5.16" fill="#e5432b"/>
<rect x="338.68" y="285.74" width="2.79" height="5.16" fill="#e5432b"/>
<rect x="347.04" y="285.74" width="2.79" height="5.16" fill="#e5432b"/>
<rect x="349.82" y="285.74" width="2.79" height="5.16" fill="#e5432b"/>
<rect x="352.61" y="285.74" width="2.79" height="5.16" fill="#e5432b"/>
<rect x="369.33" y="285.74" width="2.79" height="5.16" fill="#e5432b"/>
<rect x="372.11" y="285.74" width="2.79" height="5.16" fill="#e5432b"/>
<rect x="386.04" y="285.74" width="2.79" height="5.16" fill="#e5432b"/>
<rect x="391.61" y="285.74" width="2.79" height="5.16" fill="#e5432b"/>
<rect x="399.97" y="285.74" width="2.79" height="5.16" fill="#e5432b"/>
<rect x="402.76" y="285.74" width="2.79" height="5.16" fill="#e5432b"/>
<rect x="413.9" y="285.74" width="2.79" height="5.16" fill="#e5432b"/>
<rect x="419.47" y="285.74" width="2.79" height="5.16" fill="#e5432b"/>
<rect x="422.26" y="285.74" width="2.79" height="5.16" fill="#e5432b"/>
<rect x="425.05" y="285.74" width="2.79" height="5.16" fill="#e5432b"/>
<rect x="427.83" y="285.74" width="2.79" height="5.16" fill="#e5432b"/>
<rect x="430.62" y="285.74" width="2.79" height="5.16" fill="#e5432b"/>
<rect x="433.4" y="285.74" width="2.79" height="5.16" fill="#e5432b"/>
<rect x="436.19" y="285.74" width="2.79" height="5.16" fill="#e5432b"/>
<rect x="57.29" y="290.9" width="2.79" height="5.16" fill="#e5432b"/>
<rect x="60.08" y="290.9" width="2.79" height="5.16" fill="#e5432b"/>
<rect x="76.8" y="290.9" width="2.79" height="5.16" fill="#e5432b"/>
<rect x="87.94" y="290.9" width="2.79" height="5.16" fill="#e5432b"/>
<rect x="118.59" y="290.9" width="2.79" height="5.16" fill="#e5432b"/>
<rect x="129.73" y="290.9" width="2.79" height="5.16" fill="#e5432b"/>
<rect x="140.87" y="290.9" width="2.79" height="5.16" fill="#1e4b92"/>
<rect x="154.8" y="290.9" width="2.79" height="5.16" fill="#e5432b"/>
<rect x="188.24" y="290.9" width="2.79" height="5.16" fill="#e5432b"/>
<rect x="196.59" y="290.9" width="2.79" height="5.16" fill="#e5432b"/>
<rect x="218.88" y="290.9" width="2.79" height="5.16" fill="#e5432b"/>
<rect x="235.6" y="290.9" width="2.79" height="5.16" fill="#e5432b"/>
<rect x="249.53" y="290.9" width="2.79" height="5.16" fill="#e5432b"/>
<rect x="260.67" y="290.9" width="2.79" height="5.16" fill="#e5432b"/>
<rect x="288.53" y="290.9" width="2.79" height="5.16" fill="#3db3e0"/>
<rect x="296.89" y="290.9" width="2.79" height="5.16" fill="#e5432b"/>
<rect x="305.25" y="290.9" width="2.79" height="5.16" fill="#e5432b"/>
<rect x="316.39" y="290.9" width="2.79" height="5.16" fill="#e5432b"/>
<rect x="319.18" y="290.9" width="2.79" height="5.16" fill="#e5432b"/>
<rect x="338.68" y="290.9" width="2.79" height="5.16" fill="#e5432b"/>
<rect x="344.25" y="290.9" width="2.79" height="5.16" fill="#e5432b"/>
<rect x="360.97" y="290.9" width="2.79" height="5.16" fill="#e5432b"/>
<rect x="383.26" y="290.9" width="2.79" height="5.16" fill="#e5432b"/>
<rect x="411.12" y="290.9" width="2.79" height="5.16" fill="#e5432b"/>
<rect x="438.98" y="290.9" width="2.79" height="5.16" fill="#e5432b"/>
<rect x="441.76" y="290.9" width="2.79" height="5.16" fill="#e5432b"/>
<rect x="444.55" y="290.9" width="2.79" height="5.16" fill="#e5432b"/>
<rect x="46.15" y="296.06" width="2.79" height="5.16" fill="#e5432b"/>
<rect x="74.01" y="296.06" width="2.79" height="5.16" fill="#e5432b"/>
<rect x="87.94" y="296.06" width="2.79" height="5.16" fill="#e5432b"/>
<rect x="90.73" y="296.06" width="2.79" height="5.16" fill="#e5432b"/>
<rect x="113.01" y="296.06" width="2.79" height="5.16" fill="#e5432b"/>
<rect x="165.95" y="296.06" width="2.79" height="5.16" fill="#e5432b"/>
<rect x="277.39" y="296.06" width="2.79" height="5.16" fill="#e5432b"/>
<rect x="327.54" y="296.06" width="2.79" height="5.16" fill="#3db3e0"/>
<rect x="46.15" y="301.22" width="2.79" height="5.16" fill="#e5432b"/>
<rect x="68.44" y="301.22" width="2.79" height="5.16" fill="#e5432b"/>
<rect x="101.87" y="301.22" width="2.79" height="5.16" fill="#e5432b"/>
<rect x="115.8" y="301.22" width="2.79" height="5.16" fill="#e5432b"/>
<rect x="160.38" y="301.22" width="2.79" height="5.16" fill="#e5432b"/>
<rect x="188.24" y="301.22" width="2.79" height="5.16" fill="#e5432b"/>
<rect x="204.95" y="301.22" width="2.79" height="5.16" fill="#e5432b"/>
<rect x="232.81" y="301.22" width="2.79" height="5.16" fill="#e5432b"/>
<rect x="249.53" y="301.22" width="2.79" height="5.16" fill="#e5432b"/>
<rect x="255.1" y="301.22" width="2.79" height="5.16" fill="#e5432b"/>
<rect x="282.96" y="301.22" width="2.79" height="5.16" fill="#e5432b"/>
<rect x="308.03" y="301.22" width="2.79" height="5.16" fill="#e5432b"/>
<rect x="438.98" y="301.22" width="2.79" height="5.16" fill="#e5432b"/>
<rect x="447.33" y="301.22" width="2.79" height="5.16" fill="#e5432b"/>
<rect x="60.08" y="306.38" width="2.79" height="5.16" fill="#3db3e0"/>
<rect x="149.23" y="306.38" width="2.79" height="5.16" fill="#e5432b"/>
<rect x="157.59" y="306.38" width="2.79" height="5.16" fill="#e5432b"/>
<rect x="218.88" y="306.38" width="2.79" height="5.16" fill="#e5432b"/>
<rect x="221.67" y="306.38" width="2.79" height="5.16" fill="#1e4b92"/>
<rect x="224.45" y="306.38" width="2.79" height="5.16" fill="#e5432b"/>
<rect x="227.24" y="306.38" width="2.79" height="5.16" fill="#e5432b"/>
<rect x="249.53" y="306.38" width="2.79" height="5.16" fill="#e5432b"/>
<rect x="263.46" y="306.38" width="2.79" height="5.16" fill="#e5432b"/>
<rect x="419.47" y="306.38" width="2.79" height="5.16" fill="#3db3e0"/>
<rect x="54.51" y="311.54" width="2.79" height="5.16" fill="#e5432b"/>
<rect x="62.87" y="311.54" width="2.79" height="5.16" fill="#e5432b"/>
<rect x="71.22" y="311.54" width="2.79" height="5.16" fill="#e5432b"/>
<rect x="79.58" y="311.54" width="2.79" height="5.16" fill="#e5432b"/>
<rect x="90.73" y="311.54" width="2.79" height="5.16" fill="#e5432b"/>
<rect x="93.51" y="311.54" width="2.79" height="5.16" fill="#e5432b"/>
<rect x="96.3" y="311.54" width="2.79" height="5.16" fill="#e5432b"/>
<rect x="101.87" y="311.54" width="2.79" height="5.16" fill="#e5432b"/>
<rect x="104.66" y="311.54" width="2.79" height="5.16" fill="#e5432b"/>
<rect x="110.23" y="311.54" width="2.79" height="5.16" fill="#e5432b"/>
<rect x="113.01" y="311.54" width="2.79" height="5.16" fill="#e5432b"/>
<rect x="124.16" y="311.54" width="2.79" height="5.16" fill="#e5432b"/>
<rect x="143.66" y="311.54" width="2.79" height="5.16" fill="#e5432b"/>
<rect x="152.02" y="311.54" width="2.79" height="5.16" fill="#e5432b"/>
<rect x="168.73" y="311.54" width="2.79" height="5.16" fill="#e5432b"/>
<rect x="171.52" y="311.54" width="2.79" height="5.16" fill="#e5432b"/>
<rect x="182.66" y="311.54" width="2.79" height="5.16" fill="#e5432b"/>
<rect x="196.59" y="311.54" width="2.79" height="5.16" fill="#e5432b"/>
<rect x="199.38" y="311.54" width="2.79" height="5.16" fill="#e5432b"/>
<rect x="202.17" y="311.54" width="2.79" height="5.16" fill="#e5432b"/>
<rect x="204.95" y="311.54" width="2.79" height="5.16" fill="#e5432b"/>
<rect x="210.52" y="311.54" width="2.79" height="5.16" fill="#e5432b"/>
<rect x="213.31" y="311.54" width="2.79" height="5.16" fill="#e5432b"/>
<rect x="221.67" y="311.54" width="2.79" height="5.16" fill="#e5432b"/>
<rect x="224.45" y="311.54" width="2.79" height="5.16" fill="#e5432b"/>
<rect x="227.24" y="311.54" width="2.79" height="5.16" fill="#e5432b"/>
<rect x="238.38" y="311.54" width="2.79" height="5.16" fill="#e5432b"/>
<rect x="241.17" y="311.54" width="2.79" height="5.16" fill="#e5432b"/>
<rect x="246.74" y="311.54" width="2.79" height="5.16" fill="#e5432b"/>
<rect x="249.53" y="311.54" width="2.79" height="5.16" fill="#e5432b"/>
<rect x="263.46" y="311.54" width="2.79" height="5.16" fill="#e5432b"/>
<rect x="274.6" y="311.54" width="2.79" height="5.16" fill="#e5432b"/>
<rect x="282.96" y="311.54" width="2.79" height="5.16" fill="#e5432b"/>
<rect x="285.75" y="311.54" width="2.79" height="5.16" fill="#e5432b"/>
<rect x="294.1" y="311.54" width="2.79" height="5.16" fill="#e5432b"/>
<rect x="305.25" y="311.54" width="2.79" height="5.16" fill="#e5432b"/>
<rect x="308.03" y="311.54" width="2.79" height="5.16" fill="#e5432b"/>
<rect x="321.96" y="311.54" width="2.79" height="5.16" fill="#e5432b"/>
<rect x="330.32" y="311.54" width="2.79" height="5.16" fill="#e5432b"/>
<rect x="338.68" y="311.54" width="2.79" height="5.16" fill="#e5432b"/>
<rect x="347.04" y="311.54" width="2.79" height="5.16" fill="#e5432b"/>
<rect x="355.4" y="311.54" width="2.79" height="5.16" fill="#e5432b"/>
<rect x="366.54" y="311.54" width="2.79" height="5.16" fill="#e5432b"/>
<rect x="377.68" y="311.54" width="2.79" height="5.16" fill="#e5432b"/>
<rect x="380.47" y="311.54" width="2.79" height="5.16" fill="#e5432b"/>
<rect x="383.26" y="311.54" width="2.79" height="5.16" fill="#e5432b"/>
<rect x="397.19" y="311.54" width="2.79" height="5.16" fill="#e5432b"/>
<rect x="399.97" y="311.54" width="2.79" height="5.16" fill="#e5432b"/>
<rect x="402.76" y="311.54" width="2.79" height="5.16" fill="#e5432b"/>
<rect x="405.54" y="311.54" width="2.79" height="5.16" fill="#e5432b"/>
<rect x="413.9" y="311.54" width="2.79" height="5.16" fill="#e5432b"/>
<rect x="447.33" y="311.54" width="2.79" height="5.16" fill="#e5432b"/>
<rect x="450.12" y="311.54" width="2.79" height="5.16" fill="#e5432b"/>
<rect x="68.44" y="316.7" width="2.79" height="5.16" fill="#e5432b"/>
<rect x="82.37" y="316.7" width="2.79" height="5.16" fill="#e5432b"/>
<rect x="107.44" y="316.7" width="2.79" height="5.16" fill="#e5432b"/>
<rect x="110.23" y="316.7" width="2.79" height="5.16" fill="#e5432b"/>
<rect x="115.8" y="316.7" width="2.79" height="5.16" fill="#e5432b"/>
<rect x="118.59" y="316.7" width="2.79" height="5.16" fill="#e5432b"/>
<rect x="129.73" y="316.7" width="2.79" height="5.16" fill="#e5432b"/>
<rect x="135.3" y="316.7" width="2.79" height="5.16" fill="#e5432b"/>
<rect x="196.59" y="316.7" width="2.79" height="5.16" fill="#e5432b"/>
<rect x="230.03" y="316.7" width="2.79" height="5.16" fill="#e5432b"/>
<rect x="269.03" y="316.7" width="2.79" height="5.16" fill="#e5432b"/>
<rect x="271.82" y="316.7" width="2.79" height="5.16" fill="#e5432b"/>
<rect x="288.53" y="316.7" width="2.79" height="5.16" fill="#e5432b"/>
<rect x="327.54" y="316.7" width="2.79" height="5.16" fill="#e5432b"/>
<rect x="338.68" y="316.7" width="2.79" height="5.16" fill="#e5432b"/>
<rect x="360.97" y="316.7" width="2.79" height="5.16" fill="#e5432b"/>
<rect x="383.26" y="316.7" width="2.79" height="5.16" fill="#e5432b"/>
<rect x="416.69" y="316.7" width="2.79" height="5.16" fill="#e5432b"/>
<rect x="441.76" y="316.7" width="2.79" height="5.16" fill="#e5432b"/>
<rect x="46.15" y="321.86" width="2.79" height="5.16" fill="#1e4b92"/>
<rect x="48.94" y="321.86" width="2.79" height="5.16" fill="#e5432b"/>
<rect x="87.94" y="321.86" width="2.79" height="5.16" fill="#1e4b92"/>
<rect x="93.51" y="321.86" width="2.79" height="5.16" fill="#3db3e0"/>
<rect x="129.73" y="321.86" width="2.79" height="5.16" fill="#e5432b"/>
<rect x="143.66" y="321.86" width="2.79" height="5.16" fill="#e5432b"/>
<rect x="165.95" y="321.86" width="2.79" height="5.16" fill="#3db3e0"/>
<rect x="168.73" y="321.86" width="2.79" height="5.16" fill="#e5432b"/>
<rect x="202.17" y="321.86" width="2.79" height="5.16" fill="#e5432b"/>
<rect x="230.03" y="321.86" width="2.79" height="5.16" fill="#3db3e0"/>
<rect x="246.74" y="321.86" width="2.79" height="5.16" fill="#3db3e0"/>
<rect x="249.53" y="321.86" width="2.79" height="5.16" fill="#1e4b92"/>
<rect x="257.89" y="321.86" width="2.79" height="5.16" fill="#1e4b92"/>
<rect x="260.67" y="321.86" width="2.79" height="5.16" fill="#3db3e0"/>
<rect x="266.24" y="321.86" width="2.79" height="5.16" fill="#3db3e0"/>
<rect x="302.46" y="321.86" width="2.79" height="5.16" fill="#e5432b"/>
<rect x="310.82" y="321.86" width="2.79" height="5.16" fill="#3db3e0"/>
<rect x="316.39" y="321.86" width="2.79" height="5.16" fill="#3db3e0"/>
<rect x="333.11" y="321.86" width="2.79" height="5.16" fill="#3db3e0"/>
<rect x="349.82" y="321.86" width="2.79" height="5.16" fill="#e5432b"/>
<rect x="438.98" y="321.86" width="2.79" height="5.16" fill="#3db3e0"/>
<rect x="76.8" y="327.02" width="2.79" height="5.16" fill="#e5432b"/>
<rect x="168.73" y="327.02" width="2.79" height="5.16" fill="#e5432b"/>
<rect x="266.24" y="327.02" width="2.79" height="5.16" fill="#e5432b"/>
<rect x="319.18" y="327.02" width="2.79" height="5.16" fill="#e5432b"/>
<rect x="46.15" y="332.18" width="2.79" height="5.16" fill="#e5432b"/>
<rect x="68.44" y="332.18" width="2.79" height="5.16" fill="#3db3e0"/>
<rect x="76.8" y="332.18" width="2.79" height="5.16" fill="#e5432b"/>
<rect x="85.15" y="332.18" width="2.79" height="5.16" fill="#3db3e0"/>
<rect x="90.73" y="332.18" width="2.79" height="5.16" fill="#3db3e0"/>
<rect x="93.51" y="332.18" width="2.79" height="5.16" fill="#1e4b92"/>
<rect x="121.37" y="332.18" width="2.79" height="5.16" fill="#3db3e0"/>
<rect x="143.66" y="332.18" width="2.79" height="5.16" fill="#e5432b"/>
<rect x="149.23" y="332.18" width="2.79" height="5.16" fill="#3db3e0"/>
<rect x="157.59" y="332.18" width="2.79" height="5.16" fill="#3db3e0"/>
<rect x="163.16" y="332.18" width="2.79" height="5.16" fill="#1e4b92"/>
<rect x="165.95" y="332.18" width="2.79" height="5.16" fill="#3db3e0"/>
<rect x="171.52" y="332.18" width="2.79" height="5.16" fill="#3db3e0"/>
<rect x="188.24" y="332.18" width="2.79" height="5.16" fill="#3db3e0"/>
<rect x="199.38" y="332.18" width="2.79" height="5.16" fill="#e5432b"/>
<rect x="213.31" y="332.18" width="2.79" height="5.16" fill="#3db3e0"/>
<rect x="230.03" y="332.18" width="2.79" height="5.16" fill="#e5432b"/>
<rect x="255.1" y="332.18" width="2.79" height="5.16" fill="#3db3e0"/>
<rect x="257.89" y="332.18" width="2.79" height="5.16" fill="#3db3e0"/>
<rect x="266.24" y="332.18" width="2.79" height="5.16" fill="#1e4b92"/>
<rect x="271.82" y="332.18" width="2.79" height="5.16" fill="#3db3e0"/>
<rect x="288.53" y="332.18" width="2.79" height="5.16" fill="#3db3e0"/>
<rect x="294.1" y="332.18" width="2.79" height="5.16" fill="#3db3e0"/>
<rect x="347.04" y="332.18" width="2.79" height="5.16" fill="#3db3e0"/>
<rect x="352.61" y="332.18" width="2.79" height="5.16" fill="#e5432b"/>
<rect x="380.47" y="332.18" width="2.79" height="5.16" fill="#1e4b92"/>
<rect x="383.26" y="332.18" width="2.79" height="5.16" fill="#e5432b"/>
<rect x="388.83" y="332.18" width="2.79" height="5.16" fill="#3db3e0"/>
<rect x="444.55" y="332.18" width="2.79" height="5.16" fill="#e5432b"/>
<rect x="46.15" y="337.34" width="2.79" height="5.16" fill="#f2a794"/>
<rect x="54.51" y="337.34" width="2.79" height="5.16" fill="#e5432b"/>
<rect x="57.29" y="337.34" width="2.79" height="5.16" fill="#e5432b"/>
<rect x="62.87" y="337.34" width="2.79" height="5.16" fill="#e5432b"/>
<rect x="68.44" y="337.34" width="2.79" height="5.16" fill="#e5432b"/>
<rect x="79.58" y="337.34" width="2.79" height="5.16" fill="#e5432b"/>
<rect x="90.73" y="337.34" width="2.79" height="5.16" fill="#e5432b"/>
<rect x="140.87" y="337.34" width="2.79" height="5.16" fill="#e5432b"/>
<rect x="171.52" y="337.34" width="2.79" height="5.16" fill="#e5432b"/>
<rect x="196.59" y="337.34" width="2.79" height="5.16" fill="#e5432b"/>
<rect x="202.17" y="337.34" width="2.79" height="5.16" fill="#f2a794"/>
<rect x="227.24" y="337.34" width="2.79" height="5.16" fill="#e5432b"/>
<rect x="246.74" y="337.34" width="2.79" height="5.16" fill="#f2a794"/>
<rect x="257.89" y="337.34" width="2.79" height="5.16" fill="#3db3e0"/>
<rect x="266.24" y="337.34" width="2.79" height="5.16" fill="#e5432b"/>
<rect x="274.6" y="337.34" width="2.79" height="5.16" fill="#e5432b"/>
<rect x="294.1" y="337.34" width="2.79" height="5.16" fill="#e5432b"/>
<rect x="296.89" y="337.34" width="2.79" height="5.16" fill="#e5432b"/>
<rect x="316.39" y="337.34" width="2.79" height="5.16" fill="#f2a794"/>
<rect x="319.18" y="337.34" width="2.79" height="5.16" fill="#e5432b"/>
<rect x="352.61" y="337.34" width="2.79" height="5.16" fill="#e5432b"/>
<rect x="355.4" y="337.34" width="2.79" height="5.16" fill="#e5432b"/>
<rect x="360.97" y="337.34" width="2.79" height="5.16" fill="#e5432b"/>
<rect x="380.47" y="337.34" width="2.79" height="5.16" fill="#e5432b"/>
<rect x="383.26" y="337.34" width="2.79" height="5.16" fill="#e5432b"/>
<rect x="388.83" y="337.34" width="2.79" height="5.16" fill="#e5432b"/>
<rect x="405.54" y="337.34" width="2.79" height="5.16" fill="#e5432b"/>
<rect x="411.12" y="337.34" width="2.79" height="5.16" fill="#e5432b"/>
<rect x="46.15" y="342.5" width="2.79" height="5.16" fill="#e5432b"/>
<rect x="54.51" y="342.5" width="2.79" height="5.16" fill="#e5432b"/>
<rect x="60.08" y="342.5" width="2.79" height="5.16" fill="#e5432b"/>
<rect x="79.58" y="342.5" width="2.79" height="5.16" fill="#e5432b"/>
<rect x="154.8" y="342.5" width="2.79" height="5.16" fill="#e5432b"/>
<rect x="165.95" y="342.5" width="2.79" height="5.16" fill="#e5432b"/>
<rect x="171.52" y="342.5" width="2.79" height="5.16" fill="#e5432b"/>
<rect x="210.52" y="342.5" width="2.79" height="5.16" fill="#e5432b"/>
<rect x="213.31" y="342.5" width="2.79" height="5.16" fill="#e5432b"/>
<rect x="235.6" y="342.5" width="2.79" height="5.16" fill="#e5432b"/>
<rect x="246.74" y="342.5" width="2.79" height="5.16" fill="#e5432b"/>
<rect x="257.89" y="342.5" width="2.79" height="5.16" fill="#f2a794"/>
<rect x="263.46" y="342.5" width="2.79" height="5.16" fill="#e5432b"/>
<rect x="294.1" y="342.5" width="2.79" height="5.16" fill="#1e4b92"/>
<rect x="296.89" y="342.5" width="2.79" height="5.16" fill="#1e4b92"/>
<rect x="355.4" y="342.5" width="2.79" height="5.16" fill="#e5432b"/>
<rect x="380.47" y="342.5" width="2.79" height="5.16" fill="#e5432b"/>
<rect x="383.26" y="342.5" width="2.79" height="5.16" fill="#e5432b"/>
<rect x="388.83" y="342.5" width="2.79" height="5.16" fill="#e5432b"/>
<rect x="408.33" y="342.5" width="2.79" height="5.16" fill="#1e4b92"/>
<rect x="411.12" y="342.5" width="2.79" height="5.16" fill="#e5432b"/>
<rect x="419.47" y="342.5" width="2.79" height="5.16" fill="#e5432b"/>
<rect x="422.26" y="342.5" width="2.79" height="5.16" fill="#3db3e0"/>
<rect x="74.01" y="347.66" width="2.79" height="5.16" fill="#e5432b"/>
<rect x="90.73" y="347.66" width="2.79" height="5.16" fill="#e5432b"/>
<rect x="93.51" y="347.66" width="2.79" height="5.16" fill="#f2a794"/>
<rect x="143.66" y="347.66" width="2.79" height="5.16" fill="#3db3e0"/>
<rect x="165.95" y="347.66" width="2.79" height="5.16" fill="#e5432b"/>
<rect x="174.31" y="347.66" width="2.79" height="5.16" fill="#1e4b92"/>
<rect x="177.09" y="347.66" width="2.79" height="5.16" fill="#1e4b92"/>
<rect x="188.24" y="347.66" width="2.79" height="5.16" fill="#f2a794"/>
<rect x="221.67" y="347.66" width="2.79" height="5.16" fill="#1e4b92"/>
<rect x="227.24" y="347.66" width="2.79" height="5.16" fill="#e5432b"/>
<rect x="257.89" y="347.66" width="2.79" height="5.16" fill="#e5432b"/>
<rect x="288.53" y="347.66" width="2.79" height="5.16" fill="#e5432b"/>
<rect x="319.18" y="347.66" width="2.79" height="5.16" fill="#e5432b"/>
<rect x="324.75" y="347.66" width="2.79" height="5.16" fill="#1e4b92"/>
<rect x="327.54" y="347.66" width="2.79" height="5.16" fill="#3db3e0"/>
<rect x="380.47" y="347.66" width="2.79" height="5.16" fill="#e5432b"/>
<rect x="388.83" y="347.66" width="2.79" height="5.16" fill="#f2a794"/>
<rect x="391.61" y="347.66" width="2.79" height="5.16" fill="#e5432b"/>
<rect x="408.33" y="347.66" width="2.79" height="5.16" fill="#3db3e0"/>
<rect x="411.12" y="347.66" width="2.79" height="5.16" fill="#f2a794"/>
<rect x="425.05" y="347.66" width="2.79" height="5.16" fill="#e5432b"/>
<rect x="452.91" y="347.66" width="2.79" height="5.16" fill="#e5432b"/>
<rect x="455.69" y="347.66" width="2.79" height="5.16" fill="#e5432b"/>
<rect x="68.44" y="352.82" width="2.79" height="5.16" fill="#3db3e0"/>
<rect x="121.37" y="352.82" width="2.79" height="5.16" fill="#3db3e0"/>
<rect x="149.23" y="352.82" width="2.79" height="5.16" fill="#3db3e0"/>
<rect x="154.8" y="352.82" width="2.79" height="5.16" fill="#3db3e0"/>
<rect x="174.31" y="352.82" width="2.79" height="5.16" fill="#3db3e0"/>
<rect x="207.74" y="352.82" width="2.79" height="5.16" fill="#3db3e0"/>
<rect x="218.88" y="352.82" width="2.79" height="5.16" fill="#3db3e0"/>
<rect x="230.03" y="352.82" width="2.79" height="5.16" fill="#3db3e0"/>
<rect x="232.81" y="352.82" width="2.79" height="5.16" fill="#3db3e0"/>
<rect x="260.67" y="352.82" width="2.79" height="5.16" fill="#3db3e0"/>
<rect x="266.24" y="352.82" width="2.79" height="5.16" fill="#3db3e0"/>
<rect x="288.53" y="352.82" width="2.79" height="5.16" fill="#3db3e0"/>
<rect x="291.32" y="352.82" width="2.79" height="5.16" fill="#3db3e0"/>
<rect x="310.82" y="352.82" width="2.79" height="5.16" fill="#3db3e0"/>
<rect x="352.61" y="352.82" width="2.79" height="5.16" fill="#3db3e0"/>
<rect x="369.33" y="352.82" width="2.79" height="5.16" fill="#3db3e0"/>
<rect x="394.4" y="352.82" width="2.79" height="5.16" fill="#3db3e0"/>
<rect x="397.19" y="352.82" width="2.79" height="5.16" fill="#3db3e0"/>
<rect x="146.45" y="357.98" width="2.79" height="5.16" fill="#3db3e0"/>
<rect x="171.52" y="357.98" width="2.79" height="5.16" fill="#3db3e0"/>
<rect x="177.09" y="357.98" width="2.79" height="5.16" fill="#3db3e0"/>
<rect x="202.17" y="357.98" width="2.79" height="5.16" fill="#3db3e0"/>
<rect x="243.96" y="357.98" width="2.79" height="5.16" fill="#3db3e0"/>
<rect x="269.03" y="357.98" width="2.79" height="5.16" fill="#3db3e0"/>
<rect x="285.75" y="357.98" width="2.79" height="5.16" fill="#e5432b"/>
<rect x="308.03" y="357.98" width="2.79" height="5.16" fill="#3db3e0"/>
<rect x="310.82" y="357.98" width="2.79" height="5.16" fill="#3db3e0"/>
<rect x="358.18" y="357.98" width="2.79" height="5.16" fill="#3db3e0"/>
<rect x="374.9" y="357.98" width="2.79" height="5.16" fill="#3db3e0"/>
<rect x="48.94" y="363.14" width="2.79" height="5.16" fill="#3db3e0"/>
<rect x="51.72" y="363.14" width="2.79" height="5.16" fill="#3db3e0"/>
<rect x="57.29" y="363.14" width="2.79" height="5.16" fill="#3db3e0"/>
<rect x="62.87" y="363.14" width="2.79" height="5.16" fill="#3db3e0"/>
<rect x="65.65" y="363.14" width="2.79" height="5.16" fill="#3db3e0"/>
<rect x="74.01" y="363.14" width="2.79" height="5.16" fill="#3db3e0"/>
<rect x="76.8" y="363.14" width="2.79" height="5.16" fill="#3db3e0"/>
<rect x="85.15" y="363.14" width="2.79" height="5.16" fill="#3db3e0"/>
<rect x="93.51" y="363.14" width="2.79" height="5.16" fill="#3db3e0"/>
<rect x="99.08" y="363.14" width="2.79" height="5.16" fill="#3db3e0"/>
<rect x="110.23" y="363.14" width="2.79" height="5.16" fill="#3db3e0"/>
<rect x="115.8" y="363.14" width="2.79" height="5.16" fill="#3db3e0"/>
<rect x="121.37" y="363.14" width="2.79" height="5.16" fill="#3db3e0"/>
<rect x="129.73" y="363.14" width="2.79" height="5.16" fill="#3db3e0"/>
<rect x="143.66" y="363.14" width="2.79" height="5.16" fill="#3db3e0"/>
<rect x="146.45" y="363.14" width="2.79" height="5.16" fill="#3db3e0"/>
<rect x="154.8" y="363.14" width="2.79" height="5.16" fill="#3db3e0"/>
<rect x="157.59" y="363.14" width="2.79" height="5.16" fill="#3db3e0"/>
<rect x="171.52" y="363.14" width="2.79" height="5.16" fill="#3db3e0"/>
<rect x="182.66" y="363.14" width="2.79" height="5.16" fill="#3db3e0"/>
<rect x="188.24" y="363.14" width="2.79" height="5.16" fill="#3db3e0"/>
<rect x="199.38" y="363.14" width="2.79" height="5.16" fill="#3db3e0"/>
<rect x="207.74" y="363.14" width="2.79" height="5.16" fill="#3db3e0"/>
<rect x="221.67" y="363.14" width="2.79" height="5.16" fill="#e5432b"/>
<rect x="230.03" y="363.14" width="2.79" height="5.16" fill="#3db3e0"/>
<rect x="232.81" y="363.14" width="2.79" height="5.16" fill="#3db3e0"/>
<rect x="235.6" y="363.14" width="2.79" height="5.16" fill="#3db3e0"/>
<rect x="246.74" y="363.14" width="2.79" height="5.16" fill="#3db3e0"/>
<rect x="255.1" y="363.14" width="2.79" height="5.16" fill="#3db3e0"/>
<rect x="280.17" y="363.14" width="2.79" height="5.16" fill="#3db3e0"/>
<rect x="285.75" y="363.14" width="2.79" height="5.16" fill="#3db3e0"/>
<rect x="294.1" y="363.14" width="2.79" height="5.16" fill="#3db3e0"/>
<rect x="316.39" y="363.14" width="2.79" height="5.16" fill="#3db3e0"/>
<rect x="324.75" y="363.14" width="2.79" height="5.16" fill="#3db3e0"/>
<rect x="338.68" y="363.14" width="2.79" height="5.16" fill="#3db3e0"/>
<rect x="360.97" y="363.14" width="2.79" height="5.16" fill="#3db3e0"/>
<rect x="372.11" y="363.14" width="2.79" height="5.16" fill="#3db3e0"/>
<rect x="383.26" y="363.14" width="2.79" height="5.16" fill="#3db3e0"/>
<rect x="408.33" y="363.14" width="2.79" height="5.16" fill="#3db3e0"/>
<rect x="411.12" y="363.14" width="2.79" height="5.16" fill="#3db3e0"/>
<rect x="447.33" y="363.14" width="2.79" height="5.16" fill="#3db3e0"/>
<rect x="452.91" y="363.14" width="2.79" height="5.16" fill="#3db3e0"/>
<rect x="48.94" y="368.3" width="2.79" height="5.16" fill="#3db3e0"/>
<rect x="51.72" y="368.3" width="2.79" height="5.16" fill="#e5432b"/>
<rect x="60.08" y="368.3" width="2.79" height="5.16" fill="#3db3e0"/>
<rect x="74.01" y="368.3" width="2.79" height="5.16" fill="#e5432b"/>
<rect x="76.8" y="368.3" width="2.79" height="5.16" fill="#3db3e0"/>
<rect x="90.73" y="368.3" width="2.79" height="5.16" fill="#e5432b"/>
<rect x="93.51" y="368.3" width="2.79" height="5.16" fill="#e5432b"/>
<rect x="101.87" y="368.3" width="2.79" height="5.16" fill="#f2a794"/>
<rect x="110.23" y="368.3" width="2.79" height="5.16" fill="#e5432b"/>
<rect x="118.59" y="368.3" width="2.79" height="5.16" fill="#e5432b"/>
<rect x="124.16" y="368.3" width="2.79" height="5.16" fill="#e5432b"/>
<rect x="135.3" y="368.3" width="2.79" height="5.16" fill="#e5432b"/>
<rect x="149.23" y="368.3" width="2.79" height="5.16" fill="#e5432b"/>
<rect x="160.38" y="368.3" width="2.79" height="5.16" fill="#e5432b"/>
<rect x="165.95" y="368.3" width="2.79" height="5.16" fill="#e5432b"/>
<rect x="174.31" y="368.3" width="2.79" height="5.16" fill="#e5432b"/>
<rect x="193.81" y="368.3" width="2.79" height="5.16" fill="#e5432b"/>
<rect x="202.17" y="368.3" width="2.79" height="5.16" fill="#3db3e0"/>
<rect x="213.31" y="368.3" width="2.79" height="5.16" fill="#e5432b"/>
<rect x="216.1" y="368.3" width="2.79" height="5.16" fill="#3db3e0"/>
<rect x="227.24" y="368.3" width="2.79" height="5.16" fill="#3db3e0"/>
<rect x="232.81" y="368.3" width="2.79" height="5.16" fill="#e5432b"/>
<rect x="241.17" y="368.3" width="2.79" height="5.16" fill="#f2a794"/>
<rect x="243.96" y="368.3" width="2.79" height="5.16" fill="#e5432b"/>
<rect x="249.53" y="368.3" width="2.79" height="5.16" fill="#e5432b"/>
<rect x="266.24" y="368.3" width="2.79" height="5.16" fill="#3db3e0"/>
<rect x="277.39" y="368.3" width="2.79" height="5.16" fill="#e5432b"/>
<rect x="296.89" y="368.3" width="2.79" height="5.16" fill="#e5432b"/>
<rect x="324.75" y="368.3" width="2.79" height="5.16" fill="#e5432b"/>
<rect x="333.11" y="368.3" width="2.79" height="5.16" fill="#e5432b"/>
<rect x="338.68" y="368.3" width="2.79" height="5.16" fill="#3db3e0"/>
<rect x="360.97" y="368.3" width="2.79" height="5.16" fill="#e5432b"/>
<rect x="366.54" y="368.3" width="2.79" height="5.16" fill="#e5432b"/>
<rect x="383.26" y="368.3" width="2.79" height="5.16" fill="#e5432b"/>
<rect x="391.61" y="368.3" width="2.79" height="5.16" fill="#f2a794"/>
<rect x="408.33" y="368.3" width="2.79" height="5.16" fill="#e5432b"/>
<rect x="444.55" y="368.3" width="2.79" height="5.16" fill="#1e4b92"/>
<rect x="447.33" y="368.3" width="2.79" height="5.16" fill="#e5432b"/>
<rect x="57.29" y="373.46" width="2.79" height="5.16" fill="#3db3e0"/>
<rect x="74.01" y="373.46" width="2.79" height="5.16" fill="#3db3e0"/>
<rect x="76.8" y="373.46" width="2.79" height="5.16" fill="#3db3e0"/>
<rect x="93.51" y="373.46" width="2.79" height="5.16" fill="#3db3e0"/>
<rect x="146.45" y="373.46" width="2.79" height="5.16" fill="#3db3e0"/>
<rect x="185.45" y="373.46" width="2.79" height="5.16" fill="#3db3e0"/>
<rect x="204.95" y="373.46" width="2.79" height="5.16" fill="#3db3e0"/>
<rect x="213.31" y="373.46" width="2.79" height="5.16" fill="#1e4b92"/>
<rect x="243.96" y="373.46" width="2.79" height="5.16" fill="#3db3e0"/>
<rect x="263.46" y="373.46" width="2.79" height="5.16" fill="#3db3e0"/>
<rect x="296.89" y="373.46" width="2.79" height="5.16" fill="#e5432b"/>
<rect x="355.4" y="373.46" width="2.79" height="5.16" fill="#e5432b"/>
<rect x="360.97" y="373.46" width="2.79" height="5.16" fill="#3db3e0"/>
<rect x="65.65" y="378.62" width="2.79" height="5.16" fill="#3db3e0"/>
<rect x="74.01" y="378.62" width="2.79" height="5.16" fill="#1e4b92"/>
<rect x="85.15" y="378.62" width="2.79" height="5.16" fill="#e5432b"/>
<rect x="101.87" y="378.62" width="2.79" height="5.16" fill="#3db3e0"/>
<rect x="118.59" y="378.62" width="2.79" height="5.16" fill="#e5432b"/>
<rect x="140.87" y="378.62" width="2.79" height="5.16" fill="#e5432b"/>
<rect x="260.67" y="378.62" width="2.79" height="5.16" fill="#e5432b"/>
<rect x="310.82" y="378.62" width="2.79" height="5.16" fill="#e5432b"/>
<rect x="377.68" y="378.62" width="2.79" height="5.16" fill="#e5432b"/>
<rect x="419.47" y="378.62" width="2.79" height="5.16" fill="#e5432b"/>
<rect x="450.12" y="378.62" width="2.79" height="5.16" fill="#e5432b"/>
<rect x="452.91" y="378.62" width="2.79" height="5.16" fill="#e5432b"/>
<rect x="82.37" y="383.78" width="2.79" height="5.16" fill="#e5432b"/>
<rect x="168.73" y="383.78" width="2.79" height="5.16" fill="#e5432b"/>
<rect x="202.17" y="383.78" width="2.79" height="5.16" fill="#e5432b"/>
<rect x="269.03" y="383.78" width="2.79" height="5.16" fill="#e5432b"/>
<rect x="296.89" y="383.78" width="2.79" height="5.16" fill="#e5432b"/>
<rect x="374.9" y="383.78" width="2.79" height="5.16" fill="#e5432b"/>
<rect x="380.47" y="383.78" width="2.79" height="5.16" fill="#e5432b"/>
<rect x="416.69" y="383.78" width="2.79" height="5.16" fill="#e5432b"/>
<rect x="441.76" y="383.78" width="2.79" height="5.16" fill="#e5432b"/>
<rect x="455.69" y="383.78" width="2.79" height="5.16" fill="#e5432b"/>
<rect x="82.37" y="388.94" width="2.79" height="5.16" fill="#e5432b"/>
<rect x="101.87" y="388.94" width="2.79" height="5.16" fill="#e5432b"/>
<rect x="171.52" y="388.94" width="2.79" height="5.16" fill="#e5432b"/>
<rect x="296.89" y="388.94" width="2.79" height="5.16" fill="#e5432b"/>
<rect x="324.75" y="388.94" width="2.79" height="5.16" fill="#f2a794"/>
<rect x="330.32" y="388.94" width="2.79" height="5.16" fill="#e5432b"/>
<rect x="374.9" y="388.94" width="2.79" height="5.16" fill="#e5432b"/>
<rect x="377.68" y="388.94" width="2.79" height="5.16" fill="#e5432b"/>
<rect x="416.69" y="388.94" width="2.79" height="5.16" fill="#e5432b"/>
<rect x="174.31" y="394.1" width="2.79" height="5.16" fill="#e5432b"/>
<rect x="263.46" y="394.1" width="2.79" height="5.16" fill="#e5432b"/>
<rect x="383.26" y="394.1" width="2.79" height="5.16" fill="#e5432b"/>
<rect x="411.12" y="394.1" width="2.79" height="5.16" fill="#e5432b"/>
<rect x="54.51" y="399.26" width="2.79" height="5.16" fill="#3db3e0"/>
<rect x="60.08" y="399.26" width="2.79" height="5.16" fill="#1e4b92"/>
<rect x="65.65" y="399.26" width="2.79" height="5.16" fill="#f2a794"/>
<rect x="79.58" y="399.26" width="2.79" height="5.16" fill="#1e4b92"/>
<rect x="90.73" y="399.26" width="2.79" height="5.16" fill="#3db3e0"/>
<rect x="101.87" y="399.26" width="2.79" height="5.16" fill="#e5432b"/>
<rect x="107.44" y="399.26" width="2.79" height="5.16" fill="#e5432b"/>
<rect x="113.01" y="399.26" width="2.79" height="5.16" fill="#1e4b92"/>
<rect x="118.59" y="399.26" width="2.79" height="5.16" fill="#1e4b92"/>
<rect x="143.66" y="399.26" width="2.79" height="5.16" fill="#f2a794"/>
<rect x="152.02" y="399.26" width="2.79" height="5.16" fill="#e5432b"/>
<rect x="160.38" y="399.26" width="2.79" height="5.16" fill="#1e4b92"/>
<rect x="171.52" y="399.26" width="2.79" height="5.16" fill="#1e4b92"/>
<rect x="185.45" y="399.26" width="2.79" height="5.16" fill="#e5432b"/>
<rect x="188.24" y="399.26" width="2.79" height="5.16" fill="#3db3e0"/>
<rect x="196.59" y="399.26" width="2.79" height="5.16" fill="#e5432b"/>
<rect x="210.52" y="399.26" width="2.79" height="5.16" fill="#1e4b92"/>
<rect x="227.24" y="399.26" width="2.79" height="5.16" fill="#1e4b92"/>
<rect x="232.81" y="399.26" width="2.79" height="5.16" fill="#e5432b"/>
<rect x="235.6" y="399.26" width="2.79" height="5.16" fill="#3db3e0"/>
<rect x="238.38" y="399.26" width="2.79" height="5.16" fill="#1e4b92"/>
<rect x="246.74" y="399.26" width="2.79" height="5.16" fill="#3db3e0"/>
<rect x="249.53" y="399.26" width="2.79" height="5.16" fill="#e5432b"/>
<rect x="257.89" y="399.26" width="2.79" height="5.16" fill="#3db3e0"/>
<rect x="274.6" y="399.26" width="2.79" height="5.16" fill="#e5432b"/>
<rect x="285.75" y="399.26" width="2.79" height="5.16" fill="#f2a794"/>
<rect x="294.1" y="399.26" width="2.79" height="5.16" fill="#1e4b92"/>
<rect x="296.89" y="399.26" width="2.79" height="5.16" fill="#e5432b"/>
<rect x="305.25" y="399.26" width="2.79" height="5.16" fill="#3db3e0"/>
<rect x="308.03" y="399.26" width="2.79" height="5.16" fill="#e5432b"/>
<rect x="313.61" y="399.26" width="2.79" height="5.16" fill="#e5432b"/>
<rect x="319.18" y="399.26" width="2.79" height="5.16" fill="#e5432b"/>
<rect x="330.32" y="399.26" width="2.79" height="5.16" fill="#e5432b"/>
<rect x="333.11" y="399.26" width="2.79" height="5.16" fill="#e5432b"/>
<rect x="335.89" y="399.26" width="2.79" height="5.16" fill="#e5432b"/>
<rect x="338.68" y="399.26" width="2.79" height="5.16" fill="#e5432b"/>
<rect x="349.82" y="399.26" width="2.79" height="5.16" fill="#e5432b"/>
<rect x="363.75" y="399.26" width="2.79" height="5.16" fill="#e5432b"/>
<rect x="369.33" y="399.26" width="2.79" height="5.16" fill="#e5432b"/>
<rect x="372.11" y="399.26" width="2.79" height="5.16" fill="#e5432b"/>
<rect x="377.68" y="399.26" width="2.79" height="5.16" fill="#e5432b"/>
<rect x="380.47" y="399.26" width="2.79" height="5.16" fill="#1e4b92"/>
<rect x="388.83" y="399.26" width="2.79" height="5.16" fill="#e5432b"/>
<rect x="399.97" y="399.26" width="2.79" height="5.16" fill="#e5432b"/>
<rect x="422.26" y="399.26" width="2.79" height="5.16" fill="#e5432b"/>
<rect x="450.12" y="399.26" width="2.79" height="5.16" fill="#3db3e0"/>
<rect x="458.48" y="399.26" width="2.79" height="5.16" fill="#3db3e0"/>
<rect x="46.15" y="404.42" width="2.79" height="5.16" fill="#e5432b"/>
<rect x="54.51" y="404.42" width="2.79" height="5.16" fill="#e5432b"/>
<rect x="96.3" y="404.42" width="2.79" height="5.16" fill="#e5432b"/>
<rect x="129.73" y="404.42" width="2.79" height="5.16" fill="#e5432b"/>
<rect x="132.52" y="404.42" width="2.79" height="5.16" fill="#e5432b"/>
<rect x="182.66" y="404.42" width="2.79" height="5.16" fill="#e5432b"/>
<rect x="213.31" y="404.42" width="2.79" height="5.16" fill="#e5432b"/>
<rect x="221.67" y="404.42" width="2.79" height="5.16" fill="#e5432b"/>
<rect x="227.24" y="404.42" width="2.79" height="5.16" fill="#e5432b"/>
<rect x="355.4" y="404.42" width="2.79" height="5.16" fill="#e5432b"/>
<rect x="427.83" y="404.42" width="2.79" height="5.16" fill="#e5432b"/>
<rect x="452.91" y="404.42" width="2.79" height="5.16" fill="#e5432b"/>
<rect x="51.72" y="409.58" width="2.79" height="5.16" fill="#3db3e0"/>
<rect x="54.51" y="409.58" width="2.79" height="5.16" fill="#3db3e0"/>
<rect x="68.44" y="409.58" width="2.79" height="5.16" fill="#3db3e0"/>
<rect x="74.01" y="409.58" width="2.79" height="5.16" fill="#3db3e0"/>
<rect x="101.87" y="409.58" width="2.79" height="5.16" fill="#3db3e0"/>
<rect x="113.01" y="409.58" width="2.79" height="5.16" fill="#e5432b"/>
<rect x="115.8" y="409.58" width="2.79" height="5.16" fill="#3db3e0"/>
<rect x="118.59" y="409.58" width="2.79" height="5.16" fill="#f2a794"/>
<rect x="121.37" y="409.58" width="2.79" height="5.16" fill="#3db3e0"/>
<rect x="140.87" y="409.58" width="2.79" height="5.16" fill="#3db3e0"/>
<rect x="157.59" y="409.58" width="2.79" height="5.16" fill="#3db3e0"/>
<rect x="163.16" y="409.58" width="2.79" height="5.16" fill="#3db3e0"/>
<rect x="171.52" y="409.58" width="2.79" height="5.16" fill="#3db3e0"/>
<rect x="174.31" y="409.58" width="2.79" height="5.16" fill="#3db3e0"/>
<rect x="185.45" y="409.58" width="2.79" height="5.16" fill="#3db3e0"/>
<rect x="188.24" y="409.58" width="2.79" height="5.16" fill="#3db3e0"/>
<rect x="213.31" y="409.58" width="2.79" height="5.16" fill="#3db3e0"/>
<rect x="224.45" y="409.58" width="2.79" height="5.16" fill="#3db3e0"/>
<rect x="232.81" y="409.58" width="2.79" height="5.16" fill="#3db3e0"/>
<rect x="238.38" y="409.58" width="2.79" height="5.16" fill="#e5432b"/>
<rect x="249.53" y="409.58" width="2.79" height="5.16" fill="#3db3e0"/>
<rect x="252.31" y="409.58" width="2.79" height="5.16" fill="#3db3e0"/>
<rect x="269.03" y="409.58" width="2.79" height="5.16" fill="#3db3e0"/>
<rect x="285.75" y="409.58" width="2.79" height="5.16" fill="#3db3e0"/>
<rect x="294.1" y="409.58" width="2.79" height="5.16" fill="#e5432b"/>
<rect x="296.89" y="409.58" width="2.79" height="5.16" fill="#3db3e0"/>
<rect x="308.03" y="409.58" width="2.79" height="5.16" fill="#3db3e0"/>
<rect x="324.75" y="409.58" width="2.79" height="5.16" fill="#e5432b"/>
<rect x="333.11" y="409.58" width="2.79" height="5.16" fill="#3db3e0"/>
<rect x="391.61" y="409.58" width="2.79" height="5.16" fill="#3db3e0"/>
<rect x="405.54" y="409.58" width="2.79" height="5.16" fill="#3db3e0"/>
<rect x="438.98" y="409.58" width="2.79" height="5.16" fill="#3db3e0"/>
<rect x="441.76" y="409.58" width="2.79" height="5.16" fill="#3db3e0"/>
<rect x="444.55" y="409.58" width="2.79" height="5.16" fill="#e5432b"/>
<rect x="110.23" y="414.74" width="2.79" height="5.16" fill="#e5432b"/>
<rect x="135.3" y="414.74" width="2.79" height="5.16" fill="#e5432b"/>
<rect x="227.24" y="414.74" width="2.79" height="5.16" fill="#e5432b"/>
<rect x="230.03" y="414.74" width="2.79" height="5.16" fill="#e5432b"/>
<rect x="246.74" y="414.74" width="2.79" height="5.16" fill="#e5432b"/>
<rect x="294.1" y="414.74" width="2.79" height="5.16" fill="#e5432b"/>
<rect x="313.61" y="414.74" width="2.79" height="5.16" fill="#e5432b"/>
<rect x="327.54" y="414.74" width="2.79" height="5.16" fill="#e5432b"/>
<rect x="338.68" y="414.74" width="2.79" height="5.16" fill="#e5432b"/>
<rect x="411.12" y="414.74" width="2.79" height="5.16" fill="#e5432b"/>
<rect x="74.01" y="419.9" width="2.79" height="5.16" fill="#f2a794"/>
<rect x="76.8" y="419.9" width="2.79" height="5.16" fill="#f2a794"/>
<rect x="87.94" y="419.9" width="2.79" height="5.16" fill="#f2a794"/>
<rect x="182.66" y="419.9" width="2.79" height="5.16" fill="#3db3e0"/>
<rect x="207.74" y="419.9" width="2.79" height="5.16" fill="#f2a794"/>
<rect x="366.54" y="419.9" width="2.79" height="5.16" fill="#f2a794"/>
<rect x="374.9" y="419.9" width="2.79" height="5.16" fill="#3db3e0"/>
<rect x="455.69" y="419.9" width="2.79" height="5.16" fill="#e5432b"/>
<rect x="458.48" y="419.9" width="2.79" height="5.16" fill="#e5432b"/>
<rect x="152.02" y="425.06" width="2.79" height="5.16" fill="#e5432b"/>
<rect x="185.45" y="425.06" width="2.79" height="5.16" fill="#e5432b"/>
<rect x="213.31" y="425.06" width="2.79" height="5.16" fill="#e5432b"/>
<rect x="235.6" y="425.06" width="2.79" height="5.16" fill="#3db3e0"/>
<rect x="271.82" y="425.06" width="2.79" height="5.16" fill="#e5432b"/>
<rect x="321.96" y="425.06" width="2.79" height="5.16" fill="#e5432b"/>
<rect x="391.61" y="425.06" width="2.79" height="5.16" fill="#e5432b"/>
<rect x="394.4" y="425.06" width="2.79" height="5.16" fill="#3db3e0"/>
<rect x="46.15" y="430.22" width="2.79" height="5.16" fill="#3db3e0"/>
<rect x="57.29" y="430.22" width="2.79" height="5.16" fill="#3db3e0"/>
<rect x="60.08" y="430.22" width="2.79" height="5.16" fill="#e5432b"/>
<rect x="71.22" y="430.22" width="2.79" height="5.16" fill="#3db3e0"/>
<rect x="74.01" y="430.22" width="2.79" height="5.16" fill="#e5432b"/>
<rect x="87.94" y="430.22" width="2.79" height="5.16" fill="#3db3e0"/>
<rect x="90.73" y="430.22" width="2.79" height="5.16" fill="#f2a794"/>
<rect x="96.3" y="430.22" width="2.79" height="5.16" fill="#e5432b"/>
<rect x="115.8" y="430.22" width="2.79" height="5.16" fill="#3db3e0"/>
<rect x="126.94" y="430.22" width="2.79" height="5.16" fill="#3db3e0"/>
<rect x="129.73" y="430.22" width="2.79" height="5.16" fill="#e5432b"/>
<rect x="143.66" y="430.22" width="2.79" height="5.16" fill="#3db3e0"/>
<rect x="146.45" y="430.22" width="2.79" height="5.16" fill="#3db3e0"/>
<rect x="157.59" y="430.22" width="2.79" height="5.16" fill="#3db3e0"/>
<rect x="163.16" y="430.22" width="2.79" height="5.16" fill="#3db3e0"/>
<rect x="165.95" y="430.22" width="2.79" height="5.16" fill="#3db3e0"/>
<rect x="171.52" y="430.22" width="2.79" height="5.16" fill="#e5432b"/>
<rect x="191.02" y="430.22" width="2.79" height="5.16" fill="#3db3e0"/>
<rect x="199.38" y="430.22" width="2.79" height="5.16" fill="#3db3e0"/>
<rect x="216.1" y="430.22" width="2.79" height="5.16" fill="#e5432b"/>
<rect x="224.45" y="430.22" width="2.79" height="5.16" fill="#3db3e0"/>
<rect x="230.03" y="430.22" width="2.79" height="5.16" fill="#3db3e0"/>
<rect x="232.81" y="430.22" width="2.79" height="5.16" fill="#3db3e0"/>
<rect x="243.96" y="430.22" width="2.79" height="5.16" fill="#3db3e0"/>
<rect x="249.53" y="430.22" width="2.79" height="5.16" fill="#e5432b"/>
<rect x="252.31" y="430.22" width="2.79" height="5.16" fill="#f2a794"/>
<rect x="257.89" y="430.22" width="2.79" height="5.16" fill="#3db3e0"/>
<rect x="277.39" y="430.22" width="2.79" height="5.16" fill="#e5432b"/>
<rect x="280.17" y="430.22" width="2.79" height="5.16" fill="#e5432b"/>
<rect x="282.96" y="430.22" width="2.79" height="5.16" fill="#3db3e0"/>
<rect x="288.53" y="430.22" width="2.79" height="5.16" fill="#e5432b"/>
<rect x="308.03" y="430.22" width="2.79" height="5.16" fill="#3db3e0"/>
<rect x="316.39" y="430.22" width="2.79" height="5.16" fill="#3db3e0"/>
<rect x="341.47" y="430.22" width="2.79" height="5.16" fill="#e5432b"/>
<rect x="344.25" y="430.22" width="2.79" height="5.16" fill="#3db3e0"/>
<rect x="347.04" y="430.22" width="2.79" height="5.16" fill="#3db3e0"/>
<rect x="352.61" y="430.22" width="2.79" height="5.16" fill="#e5432b"/>
<rect x="355.4" y="430.22" width="2.79" height="5.16" fill="#e5432b"/>
<rect x="358.18" y="430.22" width="2.79" height="5.16" fill="#e5432b"/>
<rect x="366.54" y="430.22" width="2.79" height="5.16" fill="#3db3e0"/>
<rect x="402.76" y="430.22" width="2.79" height="5.16" fill="#3db3e0"/>
<rect x="411.12" y="430.22" width="2.79" height="5.16" fill="#3db3e0"/>
<rect x="419.47" y="430.22" width="2.79" height="5.16" fill="#3db3e0"/>
<rect x="425.05" y="430.22" width="2.79" height="5.16" fill="#f2a794"/>
<rect x="444.55" y="430.22" width="2.79" height="5.16" fill="#3db3e0"/>
<rect x="452.91" y="430.22" width="2.79" height="5.16" fill="#3db3e0"/>
<rect x="152.02" y="435.38" width="2.79" height="5.16" fill="#e5432b"/>
<rect x="171.52" y="435.38" width="2.79" height="5.16" fill="#e5432b"/>
<rect x="185.45" y="435.38" width="2.79" height="5.16" fill="#e5432b"/>
<rect x="221.67" y="435.38" width="2.79" height="5.16" fill="#3db3e0"/>
<rect x="282.96" y="435.38" width="2.79" height="5.16" fill="#e5432b"/>
<rect x="285.75" y="435.38" width="2.79" height="5.16" fill="#e5432b"/>
<rect x="305.25" y="435.38" width="2.79" height="5.16" fill="#e5432b"/>
<rect x="374.9" y="435.38" width="2.79" height="5.16" fill="#e5432b"/>
<rect x="444.55" y="435.38" width="2.79" height="5.16" fill="#e5432b"/>
<rect x="79.58" y="440.54" width="2.79" height="5.16" fill="#e5432b"/>
<rect x="110.23" y="440.54" width="2.79" height="5.16" fill="#e5432b"/>
<rect x="149.23" y="440.54" width="2.79" height="5.16" fill="#e5432b"/>
<rect x="232.81" y="440.54" width="2.79" height="5.16" fill="#f2a794"/>
<rect x="380.47" y="440.54" width="2.79" height="5.16" fill="#e5432b"/>
<rect x="54.51" y="445.7" width="2.79" height="5.16" fill="#3db3e0"/>
<rect x="68.44" y="445.7" width="2.79" height="5.16" fill="#e5432b"/>
<rect x="79.58" y="445.7" width="2.79" height="5.16" fill="#e5432b"/>
<rect x="110.23" y="445.7" width="2.79" height="5.16" fill="#e5432b"/>
<rect x="165.95" y="445.7" width="2.79" height="5.16" fill="#e5432b"/>
<rect x="171.52" y="445.7" width="2.79" height="5.16" fill="#e5432b"/>
<rect x="202.17" y="445.7" width="2.79" height="5.16" fill="#3db3e0"/>
<rect x="230.03" y="445.7" width="2.79" height="5.16" fill="#e5432b"/>
<rect x="235.6" y="445.7" width="2.79" height="5.16" fill="#3db3e0"/>
<rect x="241.17" y="445.7" width="2.79" height="5.16" fill="#e5432b"/>
<rect x="246.74" y="445.7" width="2.79" height="5.16" fill="#e5432b"/>
<rect x="249.53" y="445.7" width="2.79" height="5.16" fill="#3db3e0"/>
<rect x="255.1" y="445.7" width="2.79" height="5.16" fill="#e5432b"/>
<rect x="266.24" y="445.7" width="2.79" height="5.16" fill="#e5432b"/>
<rect x="291.32" y="445.7" width="2.79" height="5.16" fill="#e5432b"/>
<rect x="294.1" y="445.7" width="2.79" height="5.16" fill="#f2a794"/>
<rect x="363.75" y="445.7" width="2.79" height="5.16" fill="#3db3e0"/>
<rect x="388.83" y="445.7" width="2.79" height="5.16" fill="#3db3e0"/>
<rect x="444.55" y="445.7" width="2.79" height="5.16" fill="#e5432b"/>
<rect x="71.22" y="450.86" width="2.79" height="5.16" fill="#1e4b92"/>
<rect x="79.58" y="450.86" width="2.79" height="5.16" fill="#e5432b"/>
<rect x="93.51" y="450.86" width="2.79" height="5.16" fill="#e5432b"/>
<rect x="104.66" y="450.86" width="2.79" height="5.16" fill="#e5432b"/>
<rect x="165.95" y="450.86" width="2.79" height="5.16" fill="#e5432b"/>
<rect x="171.52" y="450.86" width="2.79" height="5.16" fill="#e5432b"/>
<rect x="179.88" y="450.86" width="2.79" height="5.16" fill="#e5432b"/>
<rect x="204.95" y="450.86" width="2.79" height="5.16" fill="#e5432b"/>
<rect x="246.74" y="450.86" width="2.79" height="5.16" fill="#e5432b"/>
<rect x="255.1" y="450.86" width="2.79" height="5.16" fill="#e5432b"/>
<rect x="285.75" y="450.86" width="2.79" height="5.16" fill="#e5432b"/>
<rect x="313.61" y="450.86" width="2.79" height="5.16" fill="#e5432b"/>
<rect x="447.33" y="450.86" width="2.79" height="5.16" fill="#e5432b"/>
<rect x="458.48" y="450.86" width="2.79" height="5.16" fill="#e5432b"/>
<rect x="48.94" y="456.02" width="2.79" height="5.16" fill="#e5432b"/>
<rect x="68.44" y="456.02" width="2.79" height="5.16" fill="#1e4b92"/>
<rect x="87.94" y="456.02" width="2.79" height="5.16" fill="#1e4b92"/>
<rect x="110.23" y="456.02" width="2.79" height="5.16" fill="#e5432b"/>
<rect x="121.37" y="456.02" width="2.79" height="5.16" fill="#3db3e0"/>
<rect x="132.52" y="456.02" width="2.79" height="5.16" fill="#e5432b"/>
<rect x="140.87" y="456.02" width="2.79" height="5.16" fill="#f2a794"/>
<rect x="149.23" y="456.02" width="2.79" height="5.16" fill="#3db3e0"/>
<rect x="157.59" y="456.02" width="2.79" height="5.16" fill="#e5432b"/>
<rect x="163.16" y="456.02" width="2.79" height="5.16" fill="#3db3e0"/>
<rect x="168.73" y="456.02" width="2.79" height="5.16" fill="#e5432b"/>
<rect x="171.52" y="456.02" width="2.79" height="5.16" fill="#f2a794"/>
<rect x="179.88" y="456.02" width="2.79" height="5.16" fill="#e5432b"/>
<rect x="185.45" y="456.02" width="2.79" height="5.16" fill="#e5432b"/>
<rect x="188.24" y="456.02" width="2.79" height="5.16" fill="#e5432b"/>
<rect x="191.02" y="456.02" width="2.79" height="5.16" fill="#e5432b"/>
<rect x="193.81" y="456.02" width="2.79" height="5.16" fill="#3db3e0"/>
<rect x="207.74" y="456.02" width="2.79" height="5.16" fill="#3db3e0"/>
<rect x="216.1" y="456.02" width="2.79" height="5.16" fill="#e5432b"/>
<rect x="235.6" y="456.02" width="2.79" height="5.16" fill="#e5432b"/>
<rect x="241.17" y="456.02" width="2.79" height="5.16" fill="#e5432b"/>
<rect x="243.96" y="456.02" width="2.79" height="5.16" fill="#e5432b"/>
<rect x="257.89" y="456.02" width="2.79" height="5.16" fill="#3db3e0"/>
<rect x="263.46" y="456.02" width="2.79" height="5.16" fill="#e5432b"/>
<rect x="266.24" y="456.02" width="2.79" height="5.16" fill="#1e4b92"/>
<rect x="271.82" y="456.02" width="2.79" height="5.16" fill="#3db3e0"/>
<rect x="285.75" y="456.02" width="2.79" height="5.16" fill="#3db3e0"/>
<rect x="296.89" y="456.02" width="2.79" height="5.16" fill="#e5432b"/>
<rect x="316.39" y="456.02" width="2.79" height="5.16" fill="#1e4b92"/>
<rect x="324.75" y="456.02" width="2.79" height="5.16" fill="#e5432b"/>
<rect x="327.54" y="456.02" width="2.79" height="5.16" fill="#e5432b"/>
<rect x="344.25" y="456.02" width="2.79" height="5.16" fill="#e5432b"/>
<rect x="355.4" y="456.02" width="2.79" height="5.16" fill="#e5432b"/>
<rect x="358.18" y="456.02" width="2.79" height="5.16" fill="#3db3e0"/>
<rect x="360.97" y="456.02" width="2.79" height="5.16" fill="#e5432b"/>
<rect x="374.9" y="456.02" width="2.79" height="5.16" fill="#3db3e0"/>
<rect x="386.04" y="456.02" width="2.79" height="5.16" fill="#e5432b"/>
<rect x="388.83" y="456.02" width="2.79" height="5.16" fill="#e5432b"/>
<rect x="394.4" y="456.02" width="2.79" height="5.16" fill="#e5432b"/>
<rect x="411.12" y="456.02" width="2.79" height="5.16" fill="#e5432b"/>
<rect x="438.98" y="456.02" width="2.79" height="5.16" fill="#3db3e0"/>
<rect x="444.55" y="456.02" width="2.79" height="5.16" fill="#e5432b"/>
<rect x="452.91" y="456.02" width="2.79" height="5.16" fill="#e5432b"/>
<rect x="455.69" y="456.02" width="2.79" height="5.16" fill="#e5432b"/>
<rect x="458.48" y="456.02" width="2.79" height="5.16" fill="#1e4b92"/>
<rect x="46.15" y="461.18" width="2.79" height="5.16" fill="#f2a794"/>
<rect x="48.94" y="461.18" width="2.79" height="5.16" fill="#3db3e0"/>
<rect x="54.51" y="461.18" width="2.79" height="5.16" fill="#3db3e0"/>
<rect x="74.01" y="461.18" width="2.79" height="5.16" fill="#f2a794"/>
<rect x="79.58" y="461.18" width="2.79" height="5.16" fill="#3db3e0"/>
<rect x="90.73" y="461.18" width="2.79" height="5.16" fill="#3db3e0"/>
<rect x="93.51" y="461.18" width="2.79" height="5.16" fill="#e5432b"/>
<rect x="99.08" y="461.18" width="2.79" height="5.16" fill="#3db3e0"/>
<rect x="104.66" y="461.18" width="2.79" height="5.16" fill="#3db3e0"/>
<rect x="113.01" y="461.18" width="2.79" height="5.16" fill="#3db3e0"/>
<rect x="115.8" y="461.18" width="2.79" height="5.16" fill="#3db3e0"/>
<rect x="121.37" y="461.18" width="2.79" height="5.16" fill="#3db3e0"/>
<rect x="126.94" y="461.18" width="2.79" height="5.16" fill="#3db3e0"/>
<rect x="129.73" y="461.18" width="2.79" height="5.16" fill="#3db3e0"/>
<rect x="135.3" y="461.18" width="2.79" height="5.16" fill="#3db3e0"/>
<rect x="146.45" y="461.18" width="2.79" height="5.16" fill="#3db3e0"/>
<rect x="154.8" y="461.18" width="2.79" height="5.16" fill="#3db3e0"/>
<rect x="165.95" y="461.18" width="2.79" height="5.16" fill="#3db3e0"/>
<rect x="174.31" y="461.18" width="2.79" height="5.16" fill="#3db3e0"/>
<rect x="182.66" y="461.18" width="2.79" height="5.16" fill="#3db3e0"/>
<rect x="188.24" y="461.18" width="2.79" height="5.16" fill="#3db3e0"/>
<rect x="196.59" y="461.18" width="2.79" height="5.16" fill="#3db3e0"/>
<rect x="199.38" y="461.18" width="2.79" height="5.16" fill="#3db3e0"/>
<rect x="202.17" y="461.18" width="2.79" height="5.16" fill="#3db3e0"/>
<rect x="210.52" y="461.18" width="2.79" height="5.16" fill="#3db3e0"/>
<rect x="213.31" y="461.18" width="2.79" height="5.16" fill="#3db3e0"/>
<rect x="221.67" y="461.18" width="2.79" height="5.16" fill="#3db3e0"/>
<rect x="227.24" y="461.18" width="2.79" height="5.16" fill="#e5432b"/>
<rect x="230.03" y="461.18" width="2.79" height="5.16" fill="#3db3e0"/>
<rect x="232.81" y="461.18" width="2.79" height="5.16" fill="#3db3e0"/>
<rect x="238.38" y="461.18" width="2.79" height="5.16" fill="#3db3e0"/>
<rect x="246.74" y="461.18" width="2.79" height="5.16" fill="#3db3e0"/>
<rect x="249.53" y="461.18" width="2.79" height="5.16" fill="#3db3e0"/>
<rect x="255.1" y="461.18" width="2.79" height="5.16" fill="#3db3e0"/>
<rect x="257.89" y="461.18" width="2.79" height="5.16" fill="#3db3e0"/>
<rect x="274.6" y="461.18" width="2.79" height="5.16" fill="#3db3e0"/>
<rect x="285.75" y="461.18" width="2.79" height="5.16" fill="#3db3e0"/>
<rect x="294.1" y="461.18" width="2.79" height="5.16" fill="#3db3e0"/>
<rect x="299.68" y="461.18" width="2.79" height="5.16" fill="#3db3e0"/>
<rect x="310.82" y="461.18" width="2.79" height="5.16" fill="#3db3e0"/>
<rect x="324.75" y="461.18" width="2.79" height="5.16" fill="#3db3e0"/>
<rect x="341.47" y="461.18" width="2.79" height="5.16" fill="#1e4b92"/>
<rect x="366.54" y="461.18" width="2.79" height="5.16" fill="#3db3e0"/>
<rect x="444.55" y="461.18" width="2.79" height="5.16" fill="#3db3e0"/>
<rect x="447.33" y="461.18" width="2.79" height="5.16" fill="#3db3e0"/>
<rect x="46.15" y="466.34" width="2.79" height="5.16" fill="#f2a794"/>
<rect x="51.72" y="466.34" width="2.79" height="5.16" fill="#e5432b"/>
<rect x="60.08" y="466.34" width="2.79" height="5.16" fill="#3db3e0"/>
<rect x="65.65" y="466.34" width="2.79" height="5.16" fill="#f2a794"/>
<rect x="96.3" y="466.34" width="2.79" height="5.16" fill="#3db3e0"/>
<rect x="124.16" y="466.34" width="2.79" height="5.16" fill="#3db3e0"/>
<rect x="143.66" y="466.34" width="2.79" height="5.16" fill="#3db3e0"/>
<rect x="165.95" y="466.34" width="2.79" height="5.16" fill="#3db3e0"/>
<rect x="182.66" y="466.34" width="2.79" height="5.16" fill="#3db3e0"/>
<rect x="193.81" y="466.34" width="2.79" height="5.16" fill="#3db3e0"/>
<rect x="196.59" y="466.34" width="2.79" height="5.16" fill="#3db3e0"/>
<rect x="207.74" y="466.34" width="2.79" height="5.16" fill="#3db3e0"/>
<rect x="210.52" y="466.34" width="2.79" height="5.16" fill="#e5432b"/>
<rect x="216.1" y="466.34" width="2.79" height="5.16" fill="#e5432b"/>
<rect x="257.89" y="466.34" width="2.79" height="5.16" fill="#3db3e0"/>
<rect x="260.67" y="466.34" width="2.79" height="5.16" fill="#3db3e0"/>
<rect x="288.53" y="466.34" width="2.79" height="5.16" fill="#3db3e0"/>
<rect x="302.46" y="466.34" width="2.79" height="5.16" fill="#3db3e0"/>
<rect x="313.61" y="466.34" width="2.79" height="5.16" fill="#e5432b"/>
<rect x="319.18" y="466.34" width="2.79" height="5.16" fill="#f2a794"/>
<rect x="341.47" y="466.34" width="2.79" height="5.16" fill="#3db3e0"/>
<rect x="352.61" y="466.34" width="2.79" height="5.16" fill="#3db3e0"/>
<rect x="363.75" y="466.34" width="2.79" height="5.16" fill="#3db3e0"/>
<rect x="380.47" y="466.34" width="2.79" height="5.16" fill="#3db3e0"/>
<rect x="394.4" y="466.34" width="2.79" height="5.16" fill="#f2a794"/>
<rect x="441.76" y="466.34" width="2.79" height="5.16" fill="#f2a794"/>
<rect x="51.72" y="471.5" width="2.79" height="5.16" fill="#3db3e0"/>
<rect x="65.65" y="471.5" width="2.79" height="5.16" fill="#3db3e0"/>
<rect x="74.01" y="471.5" width="2.79" height="5.16" fill="#e5432b"/>
<rect x="90.73" y="471.5" width="2.79" height="5.16" fill="#e5432b"/>
<rect x="96.3" y="471.5" width="2.79" height="5.16" fill="#f2a794"/>
<rect x="101.87" y="471.5" width="2.79" height="5.16" fill="#e5432b"/>
<rect x="135.3" y="471.5" width="2.79" height="5.16" fill="#e5432b"/>
<rect x="157.59" y="471.5" width="2.79" height="5.16" fill="#e5432b"/>
<rect x="160.38" y="471.5" width="2.79" height="5.16" fill="#e5432b"/>
<rect x="191.02" y="471.5" width="2.79" height="5.16" fill="#3db3e0"/>
<rect x="246.74" y="471.5" width="2.79" height="5.16" fill="#3db3e0"/>
<rect x="255.1" y="471.5" width="2.79" height="5.16" fill="#e5432b"/>
<rect x="263.46" y="471.5" width="2.79" height="5.16" fill="#e5432b"/>
<rect x="266.24" y="471.5" width="2.79" height="5.16" fill="#1e4b92"/>
<rect x="282.96" y="471.5" width="2.79" height="5.16" fill="#e5432b"/>
<rect x="285.75" y="471.5" width="2.79" height="5.16" fill="#f2a794"/>
<rect x="288.53" y="471.5" width="2.79" height="5.16" fill="#3db3e0"/>
<rect x="313.61" y="471.5" width="2.79" height="5.16" fill="#e5432b"/>
<rect x="319.18" y="471.5" width="2.79" height="5.16" fill="#e5432b"/>
<rect x="335.89" y="471.5" width="2.79" height="5.16" fill="#3db3e0"/>
<rect x="341.47" y="471.5" width="2.79" height="5.16" fill="#f2a794"/>
<rect x="355.4" y="471.5" width="2.79" height="5.16" fill="#e5432b"/>
<rect x="358.18" y="471.5" width="2.79" height="5.16" fill="#e5432b"/>
<rect x="360.97" y="471.5" width="2.79" height="5.16" fill="#e5432b"/>
<rect x="363.75" y="471.5" width="2.79" height="5.16" fill="#e5432b"/>
<rect x="394.4" y="471.5" width="2.79" height="5.16" fill="#e5432b"/>
<rect x="68.44" y="476.66" width="2.79" height="5.16" fill="#e5432b"/>
<rect x="85.15" y="476.66" width="2.79" height="5.16" fill="#3db3e0"/>
<rect x="132.52" y="476.66" width="2.79" height="5.16" fill="#e5432b"/>
<rect x="154.8" y="476.66" width="2.79" height="5.16" fill="#e5432b"/>
<rect x="196.59" y="476.66" width="2.79" height="5.16" fill="#e5432b"/>
<rect x="204.95" y="476.66" width="2.79" height="5.16" fill="#1e4b92"/>
<rect x="227.24" y="476.66" width="2.79" height="5.16" fill="#3db3e0"/>
<rect x="230.03" y="476.66" width="2.79" height="5.16" fill="#3db3e0"/>
<rect x="277.39" y="476.66" width="2.79" height="5.16" fill="#3db3e0"/>
<rect x="319.18" y="476.66" width="2.79" height="5.16" fill="#e5432b"/>
<rect x="321.96" y="476.66" width="2.79" height="5.16" fill="#3db3e0"/>
<rect x="349.82" y="476.66" width="2.79" height="5.16" fill="#e5432b"/>
<rect x="380.47" y="476.66" width="2.79" height="5.16" fill="#e5432b"/>
<rect x="65.65" y="481.82" width="2.79" height="5.16" fill="#e5432b"/>
<rect x="140.87" y="481.82" width="2.79" height="5.16" fill="#e5432b"/>
<rect x="171.52" y="481.82" width="2.79" height="5.16" fill="#e5432b"/>
<rect x="196.59" y="481.82" width="2.79" height="5.16" fill="#e5432b"/>
<rect x="238.38" y="481.82" width="2.79" height="5.16" fill="#e5432b"/>
<rect x="257.89" y="481.82" width="2.79" height="5.16" fill="#3db3e0"/>
<rect x="260.67" y="481.82" width="2.79" height="5.16" fill="#e5432b"/>
<rect x="269.03" y="481.82" width="2.79" height="5.16" fill="#e5432b"/>
<rect x="274.6" y="481.82" width="2.79" height="5.16" fill="#e5432b"/>
<rect x="296.89" y="481.82" width="2.79" height="5.16" fill="#e5432b"/>
<rect x="302.46" y="481.82" width="2.79" height="5.16" fill="#e5432b"/>
<rect x="308.03" y="481.82" width="2.79" height="5.16" fill="#3db3e0"/>
<rect x="355.4" y="481.82" width="2.79" height="5.16" fill="#e5432b"/>
<rect x="399.97" y="481.82" width="2.79" height="5.16" fill="#e5432b"/>
<rect x="54.51" y="486.98" width="2.79" height="5.16" fill="#e5432b"/>
<rect x="60.08" y="486.98" width="2.79" height="5.16" fill="#e5432b"/>
<rect x="79.58" y="486.98" width="2.79" height="5.16" fill="#e5432b"/>
<rect x="85.15" y="486.98" width="2.79" height="5.16" fill="#e5432b"/>
<rect x="93.51" y="486.98" width="2.79" height="5.16" fill="#e5432b"/>
<rect x="104.66" y="486.98" width="2.79" height="5.16" fill="#e5432b"/>
<rect x="126.94" y="486.98" width="2.79" height="5.16" fill="#e5432b"/>
<rect x="140.87" y="486.98" width="2.79" height="5.16" fill="#3db3e0"/>
<rect x="171.52" y="486.98" width="2.79" height="5.16" fill="#e5432b"/>
<rect x="344.25" y="486.98" width="2.79" height="5.16" fill="#3db3e0"/>
<rect x="383.26" y="486.98" width="2.79" height="5.16" fill="#e5432b"/>
<rect x="93.51" y="492.14" width="2.79" height="5.16" fill="#e5432b"/>
<rect x="179.88" y="492.14" width="2.79" height="5.16" fill="#f2a794"/>
<rect x="294.1" y="492.14" width="2.79" height="5.16" fill="#e5432b"/>
<rect x="316.39" y="492.14" width="2.79" height="5.16" fill="#e5432b"/>
<rect x="349.82" y="492.14" width="2.79" height="5.16" fill="#3db3e0"/>
<rect x="366.54" y="492.14" width="2.79" height="5.16" fill="#e5432b"/>
<rect x="397.19" y="492.14" width="2.79" height="5.16" fill="#e5432b"/>
<rect x="408.33" y="492.14" width="2.79" height="5.16" fill="#f2a794"/>
<rect x="413.9" y="492.14" width="2.79" height="5.16" fill="#e5432b"/>
<rect x="163.16" y="497.3" width="2.79" height="5.16" fill="#e5432b"/>
<rect x="171.52" y="497.3" width="2.79" height="5.16" fill="#e5432b"/>
<rect x="269.03" y="497.3" width="2.79" height="5.16" fill="#e5432b"/>
<rect x="338.68" y="497.3" width="2.79" height="5.16" fill="#e5432b"/>
<rect x="402.76" y="497.3" width="2.79" height="5.16" fill="#e5432b"/>
<path d="M48.94 213.5V502.46M51.72 213.5V502.46M54.51 213.5V502.46M57.29 213.5V502.46M60.08 213.5V502.46M62.87 213.5V502.46M65.65 213.5V502.46M68.44 213.5V502.46M71.22 213.5V502.46M74.01 213.5V502.46M76.8 213.5V502.46M79.58 213.5V502.46M82.37 213.5V502.46M85.15 213.5V502.46M87.94 213.5V502.46M90.73 213.5V502.46M93.51 213.5V502.46M96.3 213.5V502.46M99.08 213.5V502.46M101.87 213.5V502.46M104.66 213.5V502.46M107.44 213.5V502.46M110.23 213.5V502.46M113.01 213.5V502.46M115.8 213.5V502.46M118.59 213.5V502.46M121.37 213.5V502.46M124.16 213.5V502.46M126.94 213.5V502.46M129.73 213.5V502.46M132.52 213.5V502.46M135.3 213.5V502.46M138.09 213.5V502.46M140.87 213.5V502.46M143.66 213.5V502.46M146.45 213.5V502.46M149.23 213.5V502.46M152.02 213.5V502.46M154.8 213.5V502.46M157.59 213.5V502.46M160.38 213.5V502.46M163.16 213.5V502.46M165.95 213.5V502.46M168.73 213.5V502.46M171.52 213.5V502.46M174.31 213.5V502.46M177.09 213.5V502.46M179.88 213.5V502.46M182.66 213.5V502.46M185.45 213.5V502.46M188.24 213.5V502.46M191.02 213.5V502.46M193.81 213.5V502.46M196.59 213.5V502.46M199.38 213.5V502.46M202.17 213.5V502.46M204.95 213.5V502.46M207.74 213.5V502.46M210.52 213.5V502.46M213.31 213.5V502.46M216.1 213.5V502.46M218.88 213.5V502.46M221.67 213.5V502.46M224.45 213.5V502.46M227.24 213.5V502.46M230.03 213.5V502.46M232.81 213.5V502.46M235.6 213.5V502.46M238.38 213.5V502.46M241.17 213.5V502.46M243.96 213.5V502.46M246.74 213.5V502.46M249.53 213.5V502.46M252.31 213.5V502.46M255.1 213.5V502.46M257.89 213.5V502.46M260.67 213.5V502.46M263.46 213.5V502.46M266.24 213.5V502.46M269.03 213.5V502.46M271.82 213.5V502.46M274.6 213.5V502.46M277.39 213.5V502.46M280.17 213.5V502.46M282.96 213.5V502.46M285.75 213.5V502.46M288.53 213.5V502.46M291.32 213.5V502.46M294.1 213.5V502.46M296.89 213.5V502.46M299.68 213.5V502.46M302.46 213.5V502.46M305.25 213.5V502.46M308.03 213.5V502.46M310.82 213.5V502.46M313.61 213.5V502.46M316.39 213.5V502.46M319.18 213.5V502.46M321.96 213.5V502.46M324.75 213.5V502.46M327.54 213.5V502.46M330.32 213.5V502.46M333.11 213.5V502.46M335.89 213.5V502.46M338.68 213.5V502.46M341.47 213.5V502.46M344.25 213.5V502.46M347.04 213.5V502.46M349.82 213.5V502.46M352.61 213.5V502.46M355.4 213.5V502.46M358.18 213.5V502.46M360.97 213.5V502.46M363.75 213.5V502.46M366.54 213.5V502.46M369.33 213.5V502.46M372.11 213.5V502.46M374.9 213.5V502.46M377.68 213.5V502.46M380.47 213.5V502.46M383.26 213.5V502.46M386.04 213.5V502.46M388.83 213.5V502.46M391.61 213.5V502.46M394.4 213.5V502.46M397.19 213.5V502.46M399.97 213.5V502.46M402.76 213.5V502.46M405.54 213.5V502.46M408.33 213.5V502.46M411.12 213.5V502.46M413.9 213.5V502.46M416.69 213.5V502.46M419.47 213.5V502.46M422.26 213.5V502.46M425.05 213.5V502.46M427.83 213.5V502.46M430.62 213.5V502.46M433.4 213.5V502.46M436.19 213.5V502.46M438.98 213.5V502.46M441.76 213.5V502.46M444.55 213.5V502.46M447.33 213.5V502.46M450.12 213.5V502.46M452.91 213.5V502.46M455.69 213.5V502.46M458.48 213.5V502.46M461.26 213.5V502.46M46.15 218.66H464.05M46.15 223.82H464.05M46.15 228.98H464.05M46.15 234.14H464.05M46.15 239.3H464.05M46.15 244.46H464.05M46.15 249.62H464.05M46.15 254.78H464.05M46.15 259.94H464.05M46.15 265.1H464.05M46.15 270.26H464.05M46.15 275.42H464.05M46.15 280.58H464.05M46.15 285.74H464.05M46.15 290.9H464.05M46.15 296.06H464.05M46.15 301.22H464.05M46.15 306.38H464.05M46.15 311.54H464.05M46.15 316.7H464.05M46.15 321.86H464.05M46.15 327.02H464.05M46.15 332.18H464.05M46.15 337.34H464.05M46.15 342.5H464.05M46.15 347.66H464.05M46.15 352.82H464.05M46.15 357.98H464.05M46.15 363.14H464.05M46.15 368.3H464.05M46.15 373.46H464.05M46.15 378.62H464.05M46.15 383.78H464.05M46.15 388.94H464.05M46.15 394.1H464.05M46.15 399.26H464.05M46.15 404.42H464.05M46.15 409.58H464.05M46.15 414.74H464.05M46.15 419.9H464.05M46.15 425.06H464.05M46.15 430.22H464.05M46.15 435.38H464.05M46.15 440.54H464.05M46.15 445.7H464.05M46.15 450.86H464.05M46.15 456.02H464.05M46.15 461.18H464.05M46.15 466.34H464.05M46.15 471.5H464.05M46.15 476.66H464.05M46.15 481.82H464.05M46.15 486.98H464.05M46.15 492.14H464.05M46.15 497.3H464.05" stroke="#ffffff" stroke-opacity="0.45" stroke-width="0.35" fill="none"/>
<text transform="translate(43.3 218.75) scale(0.92 1)" font-size="6.9" text-anchor="end" font-style="italic" fill="#cf2d4d" stroke="#cf2d4d" stroke-width="0.1">CIC</text>
<text transform="translate(43.3 223.91) scale(0.92 1)" font-size="6.9" text-anchor="end" font-style="italic" fill="#231f20" stroke="#231f20" stroke-width="0.1">ATXN1</text>
<text transform="translate(43.3 229.07) scale(0.92 1)" font-size="6.9" text-anchor="end" font-style="italic" fill="#231f20" stroke="#231f20" stroke-width="0.1">CARD11</text>
<text transform="translate(43.3 234.23) scale(0.92 1)" font-size="6.9" text-anchor="end" font-style="italic" fill="#231f20" stroke="#231f20" stroke-width="0.1">PLCG1</text>
<text transform="translate(43.3 239.39) scale(0.92 1)" font-size="6.9" text-anchor="end" font-style="italic" fill="#231f20" stroke="#231f20" stroke-width="0.1">PRKCB</text>
<text transform="translate(43.3 244.55) scale(0.92 1)" font-size="6.9" text-anchor="end" font-style="italic" fill="#231f20" stroke="#231f20" stroke-width="0.1">CD28</text>
<text transform="translate(43.3 249.71) scale(0.92 1)" font-size="6.9" text-anchor="end" font-style="italic" fill="#231f20" stroke="#231f20" stroke-width="0.1">RLTPR</text>
<text transform="translate(43.3 254.87) scale(0.92 1)" font-size="6.9" text-anchor="end" font-style="italic" fill="#231f20" stroke="#231f20" stroke-width="0.1">VAV1</text>
<text transform="translate(43.3 260.03) scale(0.92 1)" font-size="6.9" text-anchor="end" font-style="italic" fill="#231f20" stroke="#231f20" stroke-width="0.1">RHOA</text>
<text transform="translate(43.3 265.19) scale(0.92 1)" font-size="6.9" text-anchor="end" font-style="italic" fill="#231f20" stroke="#231f20" stroke-width="0.1">FYN</text>
<text transform="translate(43.3 270.35) scale(0.92 1)" font-size="6.9" text-anchor="end" fill="#231f20" stroke="#231f20" stroke-width="0.1">CBLB</text>
<text transform="translate(43.3 275.51) scale(0.92 1)" font-size="6.9" text-anchor="end" font-style="italic" fill="#231f20" stroke="#231f20" stroke-width="0.1">TRAF3</text>
<text transform="translate(43.3 280.67) scale(0.92 1)" font-size="6.9" text-anchor="end" font-style="italic" fill="#cf2d4d" stroke="#cf2d4d" stroke-width="0.1">REL</text>
<text transform="translate(43.3 285.83) scale(0.92 1)" font-size="6.9" text-anchor="end" fill="#231f20" stroke="#231f20" stroke-width="0.1">IRF4</text>
<text transform="translate(43.3 290.99) scale(0.92 1)" font-size="6.9" text-anchor="end" font-style="italic" fill="#231f20" stroke="#231f20" stroke-width="0.1">STAT3</text>
<text transform="translate(43.3 296.15) scale(0.92 1)" font-size="6.9" text-anchor="end" font-style="italic" fill="#231f20" stroke="#231f20" stroke-width="0.1">NOTCH1</text>
<text transform="translate(43.3 301.31) scale(0.92 1)" font-size="6.9" text-anchor="end" font-style="italic" fill="#231f20" stroke="#231f20" stroke-width="0.1">CSNK2A1</text>
<text transform="translate(43.3 306.47) scale(0.92 1)" font-size="6.9" text-anchor="end" font-style="italic" fill="#231f20" stroke="#231f20" stroke-width="0.1">CSNK2B</text>
<text transform="translate(43.3 311.63) scale(0.92 1)" font-size="6.9" text-anchor="end" font-style="italic" fill="#231f20" stroke="#231f20" stroke-width="0.1">PIK3CD</text>
<text transform="translate(43.3 316.79) scale(0.92 1)" font-size="6.9" text-anchor="end" font-style="italic" fill="#231f20" stroke="#231f20" stroke-width="0.1">CCR4</text>
<text transform="translate(43.3 321.95) scale(0.92 1)" font-size="6.9" text-anchor="end" font-style="italic" fill="#231f20" stroke="#231f20" stroke-width="0.1">CCR7</text>
<text transform="translate(43.3 327.11) scale(0.92 1)" font-size="6.9" text-anchor="end" font-style="italic" fill="#231f20" stroke="#231f20" stroke-width="0.1">GPR183</text>
<text transform="translate(43.3 332.27) scale(0.92 1)" font-size="6.9" text-anchor="end" font-style="italic" fill="#231f20" stroke="#231f20" stroke-width="0.1">S1PR1</text>
<text transform="translate(43.3 337.43) scale(0.92 1)" font-size="6.9" text-anchor="end" font-style="italic" fill="#231f20" stroke="#231f20" stroke-width="0.1">CD58</text>
<text transform="translate(43.3 342.59) scale(0.92 1)" font-size="6.9" text-anchor="end" font-style="italic" fill="#231f20" stroke="#231f20" stroke-width="0.1">HLA-A</text>
<text transform="translate(43.3 347.75) scale(0.92 1)" font-size="6.9" text-anchor="end" font-style="italic" fill="#231f20" stroke="#231f20" stroke-width="0.1">HLA-B</text>
<text transform="translate(43.3 352.91) scale(0.92 1)" font-size="6.9" text-anchor="end" font-style="italic" fill="#231f20" stroke="#231f20" stroke-width="0.1">FAS</text>
<text transform="translate(43.3 358.07) scale(0.92 1)" font-size="6.9" text-anchor="end" font-style="italic" fill="#231f20" stroke="#231f20" stroke-width="0.1">CD274</text>
<text transform="translate(43.3 363.23) scale(0.92 1)" font-size="6.9" text-anchor="end" font-style="italic" fill="#231f20" stroke="#231f20" stroke-width="0.1">PDCD1</text>
<text transform="translate(43.3 368.39) scale(0.92 1)" font-size="6.9" text-anchor="end" font-style="italic" fill="#231f20" stroke="#231f20" stroke-width="0.1">IKZF2</text>
<text transform="translate(43.3 373.55) scale(0.92 1)" font-size="6.9" text-anchor="end" fill="#231f20" stroke="#231f20" stroke-width="0.1">GATA3</text>
<text transform="translate(43.3 378.71) scale(0.92 1)" font-size="6.9" text-anchor="end" fill="#231f20" stroke="#231f20" stroke-width="0.1">BCL11B</text>
<text transform="translate(43.3 383.87) scale(0.92 1)" font-size="6.9" text-anchor="end" font-style="italic" fill="#cf2d4d" stroke="#cf2d4d" stroke-width="0.1">ZNF292</text>
<text transform="translate(43.3 389.03) scale(0.92 1)" font-size="6.9" text-anchor="end" font-style="italic" fill="#cf2d4d" stroke="#cf2d4d" stroke-width="0.1">KLF2</text>
<text transform="translate(43.3 394.19) scale(0.92 1)" font-size="6.9" text-anchor="end" fill="#231f20" stroke="#231f20" stroke-width="0.1">PRDM1</text>
<text transform="translate(43.3 399.35) scale(0.92 1)" font-size="6.9" text-anchor="end" fill="#231f20" stroke="#231f20" stroke-width="0.1">CEBPA</text>
<text transform="translate(43.3 404.51) scale(0.92 1)" font-size="6.9" text-anchor="end" fill="#231f20" stroke="#231f20" stroke-width="0.1">TBL1XR1</text>
<text transform="translate(43.3 409.67) scale(0.92 1)" font-size="6.9" text-anchor="end" font-style="italic" fill="#231f20" stroke="#231f20" stroke-width="0.1">IRF2BP2</text>
<text transform="translate(43.3 414.83) scale(0.92 1)" font-size="6.9" text-anchor="end" fill="#231f20" stroke="#231f20" stroke-width="0.1">SYNCRIP</text>
<text transform="translate(43.3 419.99) scale(0.92 1)" font-size="6.9" text-anchor="end" font-style="italic" fill="#231f20" stroke="#231f20" stroke-width="0.1">ZFP36L2</text>
<text transform="translate(43.3 425.15) scale(0.92 1)" font-size="6.9" text-anchor="end" fill="#231f20" stroke="#231f20" stroke-width="0.1">HNRNPA2B1</text>
<text transform="translate(43.3 430.31) scale(0.92 1)" font-size="6.9" text-anchor="end" fill="#231f20" stroke="#231f20" stroke-width="0.1">YTHDF2</text>
<text transform="translate(43.3 435.47) scale(0.92 1)" font-size="6.9" text-anchor="end" font-style="italic" fill="#231f20" stroke="#231f20" stroke-width="0.1">ARID2</text>
<text transform="translate(43.3 440.63) scale(0.92 1)" font-size="6.9" text-anchor="end" font-style="italic" fill="#cf2d4d" stroke="#cf2d4d" stroke-width="0.1">SMARCB1</text>
<text transform="translate(43.3 445.79) scale(0.92 1)" font-size="6.9" text-anchor="end" font-style="italic" fill="#cf2d4d" stroke="#cf2d4d" stroke-width="0.1">DPF2</text>
<text transform="translate(43.3 450.95) scale(0.92 1)" font-size="6.9" text-anchor="end" font-style="italic" fill="#231f20" stroke="#231f20" stroke-width="0.1">EP300</text>
<text transform="translate(43.3 456.11) scale(0.92 1)" font-size="6.9" text-anchor="end" font-style="italic" fill="#231f20" stroke="#231f20" stroke-width="0.1">TET2</text>
<text transform="translate(43.3 461.27) scale(0.92 1)" font-size="6.9" text-anchor="end" font-style="italic" fill="#231f20" stroke="#231f20" stroke-width="0.1">TP53</text>
<text transform="translate(43.3 466.43) scale(0.92 1)" font-size="6.9" text-anchor="end" fill="#231f20" stroke="#231f20" stroke-width="0.1">CDKN2A</text>
<text transform="translate(43.3 471.59) scale(0.92 1)" font-size="6.9" text-anchor="end" font-style="italic" fill="#231f20" stroke="#231f20" stroke-width="0.1">TP73</text>
<text transform="translate(43.3 476.75) scale(0.92 1)" font-size="6.9" text-anchor="end" font-style="italic" fill="#231f20" stroke="#231f20" stroke-width="0.1">POT1</text>
<text transform="translate(43.3 481.91) scale(0.92 1)" font-size="6.9" text-anchor="end" font-style="italic" fill="#cf2d4d" stroke="#cf2d4d" stroke-width="0.1">ITGB1</text>
<text transform="translate(43.3 487.07) scale(0.92 1)" font-size="6.9" text-anchor="end" font-style="italic" fill="#cf2d4d" stroke="#cf2d4d" stroke-width="0.1">XPO1</text>
<text transform="translate(43.3 492.23) scale(0.92 1)" font-size="6.9" text-anchor="end" font-style="italic" fill="#cf2d4d" stroke="#cf2d4d" stroke-width="0.1">EEF1A1</text>
<text transform="translate(43.3 497.39) scale(0.92 1)" font-size="6.9" text-anchor="end" font-style="italic" fill="#cf2d4d" stroke="#cf2d4d" stroke-width="0.1">WDFY4</text>
<text transform="translate(43.3 502.55) scale(0.92 1)" font-size="6.9" text-anchor="end" font-style="italic" fill="#cf2d4d" stroke="#cf2d4d" stroke-width="0.1">FRMPD2</text>
<text x="468.4" y="204.2" font-size="6.6" fill="#231f20" stroke="#231f20" stroke-width="0.1" textLength="20.4" lengthAdjust="spacingAndGlyphs">q value</text>
<line x1="474.5" y1="205.5" x2="474.5" y2="211.5" stroke="#555" stroke-width="0.5" stroke-dasharray="0.8 0.8"/>
<line x1="469.2" y1="212.6" x2="483.6" y2="212.6" stroke="#777" stroke-width="0.8"/>
<rect x="469" y="213.5" width="2.08" height="5.16" fill="#e8262e"/>
<rect x="473.16" y="213.5" width="2.08" height="5.16" fill="#e8262e"/>
<rect x="479.4" y="213.5" width="2.08" height="5.16" fill="#e8262e"/>
<rect x="481.48" y="218.66" width="2.08" height="5.16" fill="#f9c9cc"/>
<rect x="469" y="223.82" width="2.08" height="5.16" fill="#e8262e"/>
<rect x="471.08" y="223.82" width="2.08" height="5.16" fill="#e8262e"/>
<rect x="473.16" y="223.82" width="2.08" height="5.16" fill="#e8262e"/>
<rect x="479.4" y="223.82" width="2.08" height="5.16" fill="#e8262e"/>
<rect x="469" y="228.98" width="2.08" height="5.16" fill="#e8262e"/>
<rect x="471.08" y="228.98" width="2.08" height="5.16" fill="#e8262e"/>
<rect x="473.16" y="228.98" width="2.08" height="5.16" fill="#e8262e"/>
<rect x="469" y="234.14" width="2.08" height="5.16" fill="#e8262e"/>
<rect x="471.08" y="234.14" width="2.08" height="5.16" fill="#e8262e"/>
<rect x="473.16" y="234.14" width="2.08" height="5.16" fill="#e8262e"/>
<rect x="469" y="239.3" width="2.08" height="5.16" fill="#f27f86"/>
<rect x="471.08" y="239.3" width="2.08" height="5.16" fill="#f27f86"/>
<rect x="473.16" y="239.3" width="2.08" height="5.16" fill="#f27f86"/>
<rect x="479.4" y="239.3" width="2.08" height="5.16" fill="#f27f86"/>
<rect x="481.48" y="239.3" width="2.08" height="5.16" fill="#f27f86"/>
<rect x="471.08" y="244.46" width="2.08" height="5.16" fill="#f9c9cc"/>
<rect x="469" y="249.62" width="2.08" height="5.16" fill="#e8262e"/>
<rect x="471.08" y="249.62" width="2.08" height="5.16" fill="#e8262e"/>
<rect x="473.16" y="249.62" width="2.08" height="5.16" fill="#e8262e"/>
<rect x="469" y="254.78" width="2.08" height="5.16" fill="#e8262e"/>
<rect x="471.08" y="254.78" width="2.08" height="5.16" fill="#e8262e"/>
<rect x="473.16" y="254.78" width="2.08" height="5.16" fill="#e8262e"/>
<rect x="471.08" y="259.94" width="2.08" height="5.16" fill="#f9c9cc"/>
<rect x="473.16" y="259.94" width="2.08" height="5.16" fill="#f9c9cc"/>
<rect x="469" y="265.1" width="2.08" height="5.16" fill="#f9c9cc"/>
<rect x="471.08" y="265.1" width="2.08" height="5.16" fill="#f9c9cc"/>
<rect x="473.16" y="265.1" width="2.08" height="5.16" fill="#f9c9cc"/>
<rect x="481.48" y="265.1" width="2.08" height="5.16" fill="#f9c9cc"/>
<rect x="469" y="270.26" width="2.08" height="5.16" fill="#f9c9cc"/>
<rect x="471.08" y="270.26" width="2.08" height="5.16" fill="#f9c9cc"/>
<rect x="479.4" y="275.42" width="2.08" height="5.16" fill="#e8262e"/>
<rect x="469" y="280.58" width="2.08" height="5.16" fill="#e8262e"/>
<rect x="471.08" y="280.58" width="2.08" height="5.16" fill="#e8262e"/>
<rect x="473.16" y="280.58" width="2.08" height="5.16" fill="#e8262e"/>
<rect x="481.48" y="280.58" width="2.08" height="5.16" fill="#e8262e"/>
<rect x="469" y="285.74" width="2.08" height="5.16" fill="#e8262e"/>
<rect x="471.08" y="285.74" width="2.08" height="5.16" fill="#e8262e"/>
<rect x="473.16" y="285.74" width="2.08" height="5.16" fill="#e8262e"/>
<rect x="469" y="290.9" width="2.08" height="5.16" fill="#e8262e"/>
<rect x="471.08" y="290.9" width="2.08" height="5.16" fill="#e8262e"/>
<rect x="473.16" y="290.9" width="2.08" height="5.16" fill="#e8262e"/>
<rect x="469" y="296.06" width="2.08" height="5.16" fill="#f27f86"/>
<rect x="471.08" y="296.06" width="2.08" height="5.16" fill="#f27f86"/>
<rect x="473.16" y="296.06" width="2.08" height="5.16" fill="#f27f86"/>
<rect x="469" y="301.22" width="2.08" height="5.16" fill="#e8262e"/>
<rect x="471.08" y="301.22" width="2.08" height="5.16" fill="#e8262e"/>
<rect x="473.16" y="301.22" width="2.08" height="5.16" fill="#e8262e"/>
<rect x="469" y="306.38" width="2.08" height="5.16" fill="#f9c9cc"/>
<rect x="471.08" y="306.38" width="2.08" height="5.16" fill="#f9c9cc"/>
<rect x="469" y="311.54" width="2.08" height="5.16" fill="#e8262e"/>
<rect x="471.08" y="311.54" width="2.08" height="5.16" fill="#e8262e"/>
<rect x="473.16" y="311.54" width="2.08" height="5.16" fill="#e8262e"/>
<rect x="469" y="316.7" width="2.08" height="5.16" fill="#e8262e"/>
<rect x="471.08" y="316.7" width="2.08" height="5.16" fill="#e8262e"/>
<rect x="473.16" y="316.7" width="2.08" height="5.16" fill="#e8262e"/>
<rect x="469" y="321.86" width="2.08" height="5.16" fill="#f9c9cc"/>
<rect x="471.08" y="321.86" width="2.08" height="5.16" fill="#f27f86"/>
<rect x="473.16" y="321.86" width="2.08" height="5.16" fill="#f9c9cc"/>
<rect x="481.48" y="321.86" width="2.08" height="5.16" fill="#e8262e"/>
<rect x="469" y="327.02" width="2.08" height="5.16" fill="#f9c9cc"/>
<rect x="469" y="332.18" width="2.08" height="5.16" fill="#e8262e"/>
<rect x="471.08" y="332.18" width="2.08" height="5.16" fill="#e8262e"/>
<rect x="473.16" y="332.18" width="2.08" height="5.16" fill="#e8262e"/>
<rect x="479.4" y="332.18" width="2.08" height="5.16" fill="#e8262e"/>
<rect x="481.48" y="332.18" width="2.08" height="5.16" fill="#e8262e"/>
<rect x="469" y="337.34" width="2.08" height="5.16" fill="#e8262e"/>
<rect x="471.08" y="337.34" width="2.08" height="5.16" fill="#e8262e"/>
<rect x="473.16" y="337.34" width="2.08" height="5.16" fill="#e8262e"/>
<rect x="475.24" y="337.34" width="2.08" height="5.16" fill="#f27f86"/>
<rect x="469" y="342.5" width="2.08" height="5.16" fill="#e8262e"/>
<rect x="471.08" y="342.5" width="2.08" height="5.16" fill="#e8262e"/>
<rect x="473.16" y="342.5" width="2.08" height="5.16" fill="#e8262e"/>
<rect x="475.24" y="342.5" width="2.08" height="5.16" fill="#f9c9cc"/>
<rect x="469" y="347.66" width="2.08" height="5.16" fill="#e8262e"/>
<rect x="471.08" y="347.66" width="2.08" height="5.16" fill="#e8262e"/>
<rect x="473.16" y="347.66" width="2.08" height="5.16" fill="#e8262e"/>
<rect x="475.24" y="347.66" width="2.08" height="5.16" fill="#f9c9cc"/>
<rect x="477.32" y="347.66" width="2.08" height="5.16" fill="#f9c9cc"/>
<rect x="479.4" y="352.82" width="2.08" height="5.16" fill="#e8262e"/>
<rect x="481.48" y="352.82" width="2.08" height="5.16" fill="#f9c9cc"/>
<rect x="481.48" y="357.98" width="2.08" height="5.16" fill="#f9c9cc"/>
<rect x="479.4" y="363.14" width="2.08" height="5.16" fill="#e8262e"/>
<rect x="469" y="368.3" width="2.08" height="5.16" fill="#e8262e"/>
<rect x="471.08" y="368.3" width="2.08" height="5.16" fill="#e8262e"/>
<rect x="473.16" y="368.3" width="2.08" height="5.16" fill="#e8262e"/>
<rect x="475.24" y="368.3" width="2.08" height="5.16" fill="#f9c9cc"/>
<rect x="479.4" y="368.3" width="2.08" height="5.16" fill="#e8262e"/>
<rect x="481.48" y="373.46" width="2.08" height="5.16" fill="#e8262e"/>
<rect x="469" y="378.62" width="2.08" height="5.16" fill="#f9c9cc"/>
<rect x="471.08" y="378.62" width="2.08" height="5.16" fill="#f9c9cc"/>
<rect x="469" y="383.78" width="2.08" height="5.16" fill="#f9c9cc"/>
<rect x="473.16" y="383.78" width="2.08" height="5.16" fill="#f27f86"/>
<rect x="471.08" y="388.94" width="2.08" height="5.16" fill="#f9c9cc"/>
<rect x="469" y="394.1" width="2.08" height="5.16" fill="#f9c9cc"/>
<rect x="469" y="399.26" width="2.08" height="5.16" fill="#e8262e"/>
<rect x="471.08" y="399.26" width="2.08" height="5.16" fill="#e8262e"/>
<rect x="473.16" y="399.26" width="2.08" height="5.16" fill="#e8262e"/>
<rect x="469" y="404.42" width="2.08" height="5.16" fill="#f27f86"/>
<rect x="471.08" y="404.42" width="2.08" height="5.16" fill="#f9c9cc"/>
<rect x="473.16" y="404.42" width="2.08" height="5.16" fill="#f27f86"/>
<rect x="479.4" y="409.58" width="2.08" height="5.16" fill="#e8262e"/>
<rect x="481.48" y="409.58" width="2.08" height="5.16" fill="#e8262e"/>
<rect x="469" y="414.74" width="2.08" height="5.16" fill="#f9c9cc"/>
<rect x="473.16" y="414.74" width="2.08" height="5.16" fill="#f27f86"/>
<rect x="475.24" y="419.9" width="2.08" height="5.16" fill="#f9c9cc"/>
<rect x="477.32" y="419.9" width="2.08" height="5.16" fill="#f9c9cc"/>
<rect x="469" y="425.06" width="2.08" height="5.16" fill="#f9c9cc"/>
<rect x="469" y="430.22" width="2.08" height="5.16" fill="#e8262e"/>
<rect x="471.08" y="430.22" width="2.08" height="5.16" fill="#e8262e"/>
<rect x="473.16" y="430.22" width="2.08" height="5.16" fill="#e8262e"/>
<rect x="479.4" y="430.22" width="2.08" height="5.16" fill="#f9c9cc"/>
<rect x="469" y="435.38" width="2.08" height="5.16" fill="#f27f86"/>
<rect x="471.08" y="435.38" width="2.08" height="5.16" fill="#f27f86"/>
<rect x="473.16" y="435.38" width="2.08" height="5.16" fill="#f27f86"/>
<rect x="471.08" y="440.54" width="2.08" height="5.16" fill="#f9c9cc"/>
<rect x="469" y="445.7" width="2.08" height="5.16" fill="#f27f86"/>
<rect x="471.08" y="445.7" width="2.08" height="5.16" fill="#f27f86"/>
<rect x="469" y="450.86" width="2.08" height="5.16" fill="#f27f86"/>
<rect x="471.08" y="450.86" width="2.08" height="5.16" fill="#f27f86"/>
<rect x="473.16" y="450.86" width="2.08" height="5.16" fill="#f27f86"/>
<rect x="469" y="456.02" width="2.08" height="5.16" fill="#e8262e"/>
<rect x="471.08" y="456.02" width="2.08" height="5.16" fill="#e8262e"/>
<rect x="473.16" y="456.02" width="2.08" height="5.16" fill="#e8262e"/>
<rect x="479.4" y="456.02" width="2.08" height="5.16" fill="#f9c9cc"/>
<rect x="481.48" y="456.02" width="2.08" height="5.16" fill="#e8262e"/>
<rect x="479.4" y="461.18" width="2.08" height="5.16" fill="#e8262e"/>
<rect x="481.48" y="461.18" width="2.08" height="5.16" fill="#e8262e"/>
<rect x="475.24" y="466.34" width="2.08" height="5.16" fill="#f9c9cc"/>
<rect x="479.4" y="466.34" width="2.08" height="5.16" fill="#e8262e"/>
<rect x="469" y="471.5" width="2.08" height="5.16" fill="#e8262e"/>
<rect x="471.08" y="471.5" width="2.08" height="5.16" fill="#e8262e"/>
<rect x="473.16" y="471.5" width="2.08" height="5.16" fill="#e8262e"/>
<rect x="469" y="481.82" width="2.08" height="5.16" fill="#f27f86"/>
<rect x="471.08" y="481.82" width="2.08" height="5.16" fill="#f27f86"/>
<rect x="473.16" y="481.82" width="2.08" height="5.16" fill="#f27f86"/>
<rect x="469" y="486.98" width="2.08" height="5.16" fill="#f27f86"/>
<rect x="471.08" y="486.98" width="2.08" height="5.16" fill="#f27f86"/>
<rect x="473.16" y="486.98" width="2.08" height="5.16" fill="#f27f86"/>
<rect x="469" y="492.14" width="2.08" height="5.16" fill="#f9c9cc"/>
<rect x="471.08" y="492.14" width="2.08" height="5.16" fill="#f9c9cc"/>
<rect x="471.08" y="497.3" width="2.08" height="5.16" fill="#f9c9cc"/>
<text x="486.6" y="212" font-size="6.8" fill="#231f20" stroke="#231f20" stroke-width="0.1" textLength="23" lengthAdjust="spacingAndGlyphs">Pathway</text>
<path d="M486.5 214.3H485.2V223.02" stroke="#3a3a3a" stroke-width="0.7" fill="none"/>
<path d="M486.5 224.62H485.2V284.94" stroke="#3a3a3a" stroke-width="0.7" fill="none"/>
<path d="M486.5 286.54H485.2V310.74" stroke="#3a3a3a" stroke-width="0.7" fill="none"/>
<path d="M486.5 312.34H485.2V331.38" stroke="#3a3a3a" stroke-width="0.7" fill="none"/>
<path d="M486.5 332.98H485.2V362.34" stroke="#3a3a3a" stroke-width="0.7" fill="none"/>
<path d="M486.5 363.94H485.2V408.78" stroke="#3a3a3a" stroke-width="0.7" fill="none"/>
<path d="M486.5 410.38H485.2V429.42" stroke="#3a3a3a" stroke-width="0.7" fill="none"/>
<path d="M486.5 431.02H485.2V455.22" stroke="#3a3a3a" stroke-width="0.7" fill="none"/>
<path d="M486.5 456.82H485.2V475.86" stroke="#3a3a3a" stroke-width="0.7" fill="none"/>
<path d="M486.5 477.46H485.2V501.66" stroke="#3a3a3a" stroke-width="0.7" fill="none"/>
<line x1="486.5" y1="217.2" x2="500" y2="217.2" stroke="#444" stroke-width="0.6" stroke-dasharray="0.7 0.9"/>
<text x="508.2" y="214" font-size="6.4" fill="#231f20" stroke="#231f20" stroke-width="0.1" textLength="10" lengthAdjust="spacingAndGlyphs" transform="rotate(90 508.2 214)">CIC</text>
<text x="502" y="214.5" font-size="6.4" fill="#231f20" stroke="#231f20" stroke-width="0.1" textLength="19.5" lengthAdjust="spacingAndGlyphs" transform="rotate(90 502 214.5)">ATXN1</text>
<text x="487" y="239.8" font-size="6.4" fill="#231f20" stroke="#231f20" stroke-width="0.1" textLength="31.5" lengthAdjust="spacingAndGlyphs" transform="rotate(90 487 239.8)">TCR/NF-κB</text>
<text x="495.6" y="286.1" font-size="6.4" fill="#231f20" stroke="#231f20" stroke-width="0.1" textLength="25.7" lengthAdjust="spacingAndGlyphs" transform="rotate(90 495.6 286.1)">Signaling</text>
<text x="488.2" y="286.1" font-size="6.4" fill="#231f20" stroke="#231f20" stroke-width="0.1" textLength="23.6" lengthAdjust="spacingAndGlyphs" transform="rotate(90 488.2 286.1)">pathway</text>
<line x1="487" y1="317.5" x2="499.7" y2="317.5" stroke="#444" stroke-width="0.6" stroke-dasharray="0.7 0.9"/>
<text x="508.3" y="312.3" font-size="6.4" fill="#231f20" stroke="#231f20" stroke-width="0.1" textLength="15.3" lengthAdjust="spacingAndGlyphs" transform="rotate(90 508.3 312.3)">T-cell</text>
<text x="501" y="306.4" font-size="6.4" fill="#231f20" stroke="#231f20" stroke-width="0.1" textLength="27.6" lengthAdjust="spacingAndGlyphs" transform="rotate(90 501 306.4)">trafficking</text>
<text x="493.4" y="336.4" font-size="6.4" fill="#231f20" stroke="#231f20" stroke-width="0.1" textLength="23.6" lengthAdjust="spacingAndGlyphs" transform="rotate(90 493.4 336.4)">Immune</text>
<text x="486.8" y="331.5" font-size="6.4" fill="#231f20" stroke="#231f20" stroke-width="0.1" textLength="33.5" lengthAdjust="spacingAndGlyphs" transform="rotate(90 486.8 331.5)">surveillance</text>
<text x="494.6" y="367.3" font-size="6.4" fill="#231f20" stroke="#231f20" stroke-width="0.1" textLength="41.2" lengthAdjust="spacingAndGlyphs" transform="rotate(90 494.6 367.3)">Transcriptional</text>
<text x="488.3" y="373" font-size="6.4" fill="#231f20" stroke="#231f20" stroke-width="0.1" textLength="29.3" lengthAdjust="spacingAndGlyphs" transform="rotate(90 488.3 373)">regulation</text>
<line x1="487" y1="415" x2="499" y2="415" stroke="#444" stroke-width="0.6" stroke-dasharray="0.7 0.9"/>
<text x="501.2" y="400" font-size="6.4" fill="#231f20" stroke="#231f20" stroke-width="0.1" textLength="35.5" lengthAdjust="spacingAndGlyphs" transform="rotate(90 501.2 400)">RNA binding</text>
<text x="495.2" y="429" font-size="6.4" fill="#231f20" stroke="#231f20" stroke-width="0.1" textLength="29.8" lengthAdjust="spacingAndGlyphs" transform="rotate(90 495.2 429)">Epigenetic</text>
<text x="488.3" y="428.4" font-size="6.4" fill="#231f20" stroke="#231f20" stroke-width="0.1" textLength="28.7" lengthAdjust="spacingAndGlyphs" transform="rotate(90 488.3 428.4)">regulation</text>
<line x1="487" y1="460.5" x2="499" y2="460.5" stroke="#444" stroke-width="0.6" stroke-dasharray="0.7 0.9"/>
<text x="509.3" y="449.8" font-size="6.4" fill="#231f20" stroke="#231f20" stroke-width="0.1" textLength="43.9" lengthAdjust="spacingAndGlyphs" transform="rotate(90 509.3 449.8)">DNA repair and</text>
<text x="502.2" y="443" font-size="6.4" fill="#231f20" stroke="#231f20" stroke-width="0.1" textLength="56.9" lengthAdjust="spacingAndGlyphs" transform="rotate(90 502.2 443)">telomere regulation</text>
<text x="487.8" y="479.6" font-size="6.4" fill="#231f20" stroke="#231f20" stroke-width="0.1" textLength="19.2" lengthAdjust="spacingAndGlyphs" transform="rotate(90 487.8 479.6)">Others</text>
<path d="M470.04 502.8 L457.7 507.6 L457.7 508.6" stroke="#333" stroke-width="0.5" fill="none"/>
<text x="454.5" y="509.3" font-size="6.4" fill="#231f20" stroke="#231f20" stroke-width="0.1" textLength="22" lengthAdjust="spacingAndGlyphs" transform="rotate(90 454.5 509.3)">dNdScv</text>
<path d="M472.12 502.8 L464.82 507.6 L464.82 508.6" stroke="#333" stroke-width="0.5" fill="none"/>
<text x="461.62" y="509.3" font-size="6.4" fill="#231f20" stroke="#231f20" stroke-width="0.1" textLength="32.8" lengthAdjust="spacingAndGlyphs" transform="rotate(90 461.62 509.3)">MutSig2CV</text>
<path d="M474.2 502.8 L471.94 507.6 L471.94 508.6" stroke="#333" stroke-width="0.5" fill="none"/>
<text x="468.74" y="509.3" font-size="6.4" fill="#231f20" stroke="#231f20" stroke-width="0.1" textLength="60.5" lengthAdjust="spacingAndGlyphs" transform="rotate(90 468.74 509.3)">DriverPower (coding)</text>
<path d="M476.28 502.8 L479.06 507.6 L479.06 508.6" stroke="#333" stroke-width="0.5" fill="none"/>
<text x="475.86" y="509.3" font-size="6.4" fill="#231f20" stroke="#231f20" stroke-width="0.1" textLength="68.6" lengthAdjust="spacingAndGlyphs" transform="rotate(90 475.86 509.3)">DriverPower (splice site)</text>
<path d="M478.36 502.8 L486.18 507.6 L486.18 508.6" stroke="#333" stroke-width="0.5" fill="none"/>
<text x="482.98" y="509.3" font-size="6.4" fill="#231f20" stroke="#231f20" stroke-width="0.1" textLength="20.2" lengthAdjust="spacingAndGlyphs" transform="rotate(90 482.98 509.3)">LARVA</text>
<path d="M480.44 502.8 L493.3 507.6 L493.3 508.6" stroke="#333" stroke-width="0.5" fill="none"/>
<text x="490.1" y="509.3" font-size="6.4" fill="#231f20" stroke="#231f20" stroke-width="0.1" textLength="45.5" lengthAdjust="spacingAndGlyphs" transform="rotate(90 490.1 509.3)">SV (intron-wide)</text>
<path d="M482.52 502.8 L500.42 507.6 L500.42 508.6" stroke="#333" stroke-width="0.5" fill="none"/>
<text x="497.22" y="509.3" font-size="6.4" fill="#231f20" stroke="#231f20" stroke-width="0.1" textLength="30.5" lengthAdjust="spacingAndGlyphs" transform="rotate(90 497.22 509.3)">GISTIC 2.0</text>
<text x="148.6" y="521.7" font-size="7.3" fill="#231f20" stroke="#231f20" stroke-width="0.1" text-anchor="middle" font-weight="bold">Subtype</text>
<line x1="104" y1="523.6" x2="191.8" y2="523.6" stroke="#555" stroke-width="0.9"/>
<rect x="107.5" y="527.4" width="6.1" height="5.8" fill="#d0102f"/>
<text x="117.6" y="533" font-size="7.5" fill="#231f20" stroke="#231f20" stroke-width="0.1">Acute</text>
<rect x="147" y="527.4" width="6.1" height="5.8" fill="#29a9e1"/>
<text x="156.6" y="533" font-size="7.5" fill="#231f20" stroke="#231f20" stroke-width="0.1">Lymphoma</text>
<rect x="107.5" y="536.8" width="6.1" height="5.8" fill="#2fb24a"/>
<text x="117.6" y="542.4" font-size="7.5" fill="#231f20" stroke="#231f20" stroke-width="0.1">Chronic</text>
<rect x="147" y="536.8" width="6.1" height="5.8" fill="#c0661f"/>
<text x="156.6" y="542.4" font-size="7.5" fill="#231f20" stroke="#231f20" stroke-width="0.1">Smoldering</text>
<text x="290.7" y="521.7" font-size="7.3" fill="#231f20" stroke="#231f20" stroke-width="0.1" text-anchor="middle" font-weight="bold">Alterations</text>
<line x1="203.5" y1="523.6" x2="374.6" y2="523.6" stroke="#555" stroke-width="0.9"/>
<rect x="208.3" y="527.4" width="6.1" height="5.8" fill="#d0102f"/>
<text x="218.4" y="533" font-size="7.5" fill="#231f20" stroke="#231f20" stroke-width="0.1">Coding mutation</text>
<rect x="208.3" y="536.8" width="6.1" height="5.8" fill="#f4b8c4"/>
<text x="218.4" y="542.4" font-size="7.5" fill="#231f20" stroke="#231f20" stroke-width="0.1">Noncoding mutation (SS)</text>
<rect x="308.3" y="527.4" width="6.1" height="5.8" fill="#29a9e1"/>
<text x="317.7" y="533" font-size="7.5" fill="#231f20" stroke="#231f20" stroke-width="0.1">SV/CNA</text>
<rect x="308.3" y="536.8" width="6.1" height="5.8" fill="#154b88"/>
<text x="317.7" y="542.4" font-size="7.5" fill="#231f20" stroke="#231f20" stroke-width="0.1">Multiple alterations</text>
<text x="387.4" y="519" font-size="7.2" fill="#231f20" stroke="#231f20" stroke-width="0.1">−log<tspan font-size="4.6" dy="1.6">10</tspan><tspan dy="-1.6">(</tspan><tspan font-style="italic">q</tspan> value)</text>
<defs><linearGradient id="qg" x1="0" x2="1" y1="0" y2="0"><stop offset="0" stop-color="#fff"/><stop offset="1" stop-color="#c1102d"/></linearGradient></defs>
<rect x="395" y="522.8" width="41.2" height="7.7" fill="url(#qg)"/>
<rect x="387.6" y="523.0" width="48.4" height="7.3" fill="none" stroke="#333" stroke-width="0.6"/>
<line x1="395" y1="523" x2="395" y2="530.3" stroke="#333" stroke-width="0.6"/>
<text x="386.6" y="537.4" font-size="7.2" fill="#231f20" stroke="#231f20" stroke-width="0.1">0</text>
<text x="393.4" y="537.4" font-size="7.2" fill="#231f20" stroke="#231f20" stroke-width="0.1">2</text>
<text x="436.4" y="537.4" font-size="7.2" fill="#231f20" stroke="#231f20" stroke-width="0.1" text-anchor="end">&gt;13</text>
<text x="221.2" y="570.9" font-size="7.2" fill="#231f20" stroke="#231f20" stroke-width="0.1" textLength="45.1" lengthAdjust="spacingAndGlyphs">ATL (<tspan font-style="italic">n</tspan> = 150)</text>
<line x1="46.3" y1="567.5" x2="46.3" y2="657.4" stroke="#666" stroke-width="1.1"/>
<line x1="43.2" y1="570.5" x2="46" y2="570.5" stroke="#231f20" stroke-width="0.8"/>
<text x="40.4" y="572.7" font-size="7.2" fill="#231f20" stroke="#231f20" stroke-width="0.1" text-anchor="end">0.4</text>
<line x1="43.2" y1="592.2" x2="46" y2="592.2" stroke="#231f20" stroke-width="0.8"/>
<text x="40.4" y="594.4" font-size="7.2" fill="#231f20" stroke="#231f20" stroke-width="0.1" text-anchor="end">0.3</text>
<line x1="43.2" y1="613.9" x2="46" y2="613.9" stroke="#231f20" stroke-width="0.8"/>
<text x="40.4" y="616.1" font-size="7.2" fill="#231f20" stroke="#231f20" stroke-width="0.1" text-anchor="end">0.2</text>
<line x1="43.2" y1="635.7" x2="46" y2="635.7" stroke="#231f20" stroke-width="0.8"/>
<text x="40.4" y="637.9" font-size="7.2" fill="#231f20" stroke="#231f20" stroke-width="0.1" text-anchor="end">0.1</text>
<line x1="43.2" y1="657.4" x2="46" y2="657.4" stroke="#231f20" stroke-width="0.8"/>
<text x="40.4" y="659.6" font-size="7.2" fill="#231f20" stroke="#231f20" stroke-width="0.1" text-anchor="end">0</text>
<text x="14" y="613.8" font-size="8.8" fill="#231f20" stroke="#231f20" stroke-width="0.1" text-anchor="middle" textLength="76.5" lengthAdjust="spacingAndGlyphs" transform="rotate(-90 14 613.8)">Frequency of cases with</text>
<text x="24" y="614.6" font-size="8.8" fill="#231f20" stroke="#231f20" stroke-width="0.1" text-anchor="middle" textLength="65.8" lengthAdjust="spacingAndGlyphs" transform="rotate(-90 24 614.6)">mutations/SVs/CNAs</text>
<rect x="47" y="599.82" width="7" height="57.58" fill="#c8102e"/>
<rect x="47" y="579.17" width="7" height="20.64" fill="#36aee3"/>
<rect x="47" y="571.57" width="7" height="7.61" fill="#1b4f8a"/>
<rect x="54.8" y="576.56" width="7" height="80.84" fill="#c8102e"/>
<rect x="62.6" y="580.91" width="7" height="76.49" fill="#c8102e"/>
<rect x="70.4" y="598.29" width="7" height="59.11" fill="#c8102e"/>
<rect x="70.4" y="593.95" width="7" height="4.35" fill="#36aee3"/>
<rect x="70.4" y="586.78" width="7" height="7.17" fill="#1b4f8a"/>
<rect x="78.2" y="589.39" width="7" height="68.01" fill="#c8102e"/>
<rect x="86" y="622.63" width="7" height="34.77" fill="#c8102e"/>
<rect x="86" y="609.59" width="7" height="13.04" fill="#36aee3"/>
<rect x="86" y="605.25" width="7" height="4.35" fill="#f4b8c4"/>
<rect x="86" y="589.39" width="7" height="15.86" fill="#1b4f8a"/>
<rect x="93.8" y="637.19" width="7" height="20.21" fill="#c8102e"/>
<rect x="93.8" y="595.03" width="7" height="42.16" fill="#36aee3"/>
<rect x="93.8" y="590.69" width="7" height="4.35" fill="#f4b8c4"/>
<rect x="101.6" y="654.58" width="7" height="2.82" fill="#c8102e"/>
<rect x="101.6" y="596.56" width="7" height="58.02" fill="#36aee3"/>
<rect x="101.6" y="593.73" width="7" height="2.82" fill="#f4b8c4"/>
<rect x="101.6" y="592.21" width="7" height="1.52" fill="#1b4f8a"/>
<rect x="109.4" y="618.29" width="7" height="39.11" fill="#c8102e"/>
<rect x="109.4" y="602.42" width="7" height="15.86" fill="#36aee3"/>
<rect x="109.4" y="599.38" width="7" height="3.04" fill="#f4b8c4"/>
<rect x="109.4" y="592.21" width="7" height="7.17" fill="#1b4f8a"/>
<rect x="117.2" y="655.88" width="7" height="1.52" fill="#c8102e"/>
<rect x="117.2" y="596.56" width="7" height="59.32" fill="#36aee3"/>
<rect x="125" y="599.38" width="7" height="58.02" fill="#c8102e"/>
<rect x="132.8" y="619.81" width="7" height="37.59" fill="#c8102e"/>
<rect x="132.8" y="608.07" width="7" height="11.73" fill="#36aee3"/>
<rect x="132.8" y="605.25" width="7" height="2.82" fill="#f4b8c4"/>
<rect x="132.8" y="602.42" width="7" height="2.82" fill="#1b4f8a"/>
<rect x="140.6" y="656.1" width="7" height="1.3" fill="#c8102e"/>
<rect x="140.6" y="610.9" width="7" height="45.2" fill="#36aee3"/>
<rect x="140.6" y="606.55" width="7" height="4.35" fill="#1b4f8a"/>
<rect x="148.4" y="650.88" width="7" height="6.52" fill="#c8102e"/>
<rect x="148.4" y="609.59" width="7" height="41.29" fill="#36aee3"/>
<rect x="148.4" y="608.07" width="7" height="1.52" fill="#f4b8c4"/>
<rect x="156.2" y="625.67" width="7" height="31.73" fill="#c8102e"/>
<rect x="156.2" y="612.85" width="7" height="12.82" fill="#36aee3"/>
<rect x="156.2" y="611.12" width="7" height="1.74" fill="#1b4f8a"/>
<rect x="164" y="646.32" width="7" height="11.08" fill="#c8102e"/>
<rect x="164" y="620.89" width="7" height="25.42" fill="#36aee3"/>
<rect x="164" y="615.46" width="7" height="5.43" fill="#1b4f8a"/>
<rect x="171.8" y="625.67" width="7" height="31.73" fill="#c8102e"/>
<rect x="171.8" y="616.98" width="7" height="8.69" fill="#36aee3"/>
<rect x="171.8" y="615.46" width="7" height="1.52" fill="#1b4f8a"/>
<rect x="179.6" y="624.15" width="7" height="33.25" fill="#c8102e"/>
<rect x="179.6" y="622.63" width="7" height="1.52" fill="#36aee3"/>
<rect x="179.6" y="616.98" width="7" height="5.65" fill="#f4b8c4"/>
<rect x="187.4" y="621.33" width="7" height="36.07" fill="#c8102e"/>
<rect x="187.4" y="620.02" width="7" height="1.3" fill="#36aee3"/>
<rect x="187.4" y="618.29" width="7" height="1.74" fill="#1b4f8a"/>
<rect x="195.2" y="634.58" width="7" height="22.82" fill="#c8102e"/>
<rect x="195.2" y="625.67" width="7" height="8.91" fill="#36aee3"/>
<rect x="195.2" y="621.33" width="7" height="4.35" fill="#f4b8c4"/>
<rect x="195.2" y="619.59" width="7" height="1.74" fill="#1b4f8a"/>
<rect x="203" y="652.4" width="7" height="5" fill="#c8102e"/>
<rect x="203" y="627.2" width="7" height="25.21" fill="#36aee3"/>
<rect x="203" y="619.59" width="7" height="7.61" fill="#f4b8c4"/>
<rect x="210.8" y="652.4" width="7" height="5" fill="#c8102e"/>
<rect x="210.8" y="632.85" width="7" height="19.56" fill="#36aee3"/>
<rect x="210.8" y="624.37" width="7" height="8.47" fill="#1b4f8a"/>
<rect x="218.6" y="640.23" width="7" height="17.17" fill="#c8102e"/>
<rect x="218.6" y="636.1" width="7" height="4.13" fill="#36aee3"/>
<rect x="218.6" y="630.24" width="7" height="5.87" fill="#f4b8c4"/>
<rect x="218.6" y="624.37" width="7" height="5.87" fill="#1b4f8a"/>
<rect x="226.4" y="631.76" width="7" height="25.64" fill="#c8102e"/>
<rect x="226.4" y="629.8" width="7" height="1.96" fill="#36aee3"/>
<rect x="226.4" y="628.5" width="7" height="1.3" fill="#f4b8c4"/>
<rect x="226.4" y="624.37" width="7" height="4.13" fill="#1b4f8a"/>
<rect x="234.2" y="646.32" width="7" height="11.08" fill="#c8102e"/>
<rect x="234.2" y="627.2" width="7" height="19.12" fill="#36aee3"/>
<rect x="242" y="647.84" width="7" height="9.56" fill="#c8102e"/>
<rect x="242" y="633.06" width="7" height="14.78" fill="#36aee3"/>
<rect x="242" y="627.2" width="7" height="5.87" fill="#1b4f8a"/>
<rect x="249.8" y="630.24" width="7" height="27.16" fill="#c8102e"/>
<rect x="257.6" y="640.23" width="7" height="17.17" fill="#c8102e"/>
<rect x="257.6" y="631.98" width="7" height="8.26" fill="#36aee3"/>
<rect x="257.6" y="630.24" width="7" height="1.74" fill="#f4b8c4"/>
<rect x="265.4" y="656.31" width="7" height="1.09" fill="#c8102e"/>
<rect x="265.4" y="630.24" width="7" height="26.08" fill="#36aee3"/>
<rect x="273.2" y="630.24" width="7" height="27.16" fill="#c8102e"/>
<rect x="281" y="631.54" width="7" height="25.86" fill="#36aee3"/>
<rect x="288.8" y="649.14" width="7" height="8.26" fill="#c8102e"/>
<rect x="288.8" y="633.06" width="7" height="16.08" fill="#36aee3"/>
<rect x="288.8" y="631.76" width="7" height="1.3" fill="#f4b8c4"/>
<rect x="296.6" y="637.63" width="7" height="19.77" fill="#c8102e"/>
<rect x="304.4" y="639.15" width="7" height="18.25" fill="#c8102e"/>
<rect x="304.4" y="637.63" width="7" height="1.52" fill="#1b4f8a"/>
<rect x="312.2" y="655.23" width="7" height="2.17" fill="#c8102e"/>
<rect x="312.2" y="640.23" width="7" height="14.99" fill="#36aee3"/>
<rect x="312.2" y="639.15" width="7" height="1.09" fill="#1b4f8a"/>
<rect x="320" y="647.62" width="7" height="9.78" fill="#c8102e"/>
<rect x="320" y="640.23" width="7" height="7.39" fill="#36aee3"/>
<rect x="320" y="639.15" width="7" height="1.09" fill="#1b4f8a"/>
<rect x="327.8" y="641.75" width="7" height="15.65" fill="#c8102e"/>
<rect x="327.8" y="639.15" width="7" height="2.61" fill="#36aee3"/>
<rect x="335.6" y="643.28" width="7" height="14.12" fill="#c8102e"/>
<rect x="335.6" y="640.23" width="7" height="3.04" fill="#36aee3"/>
<rect x="343.4" y="640.23" width="7" height="17.17" fill="#c8102e"/>
<rect x="351.2" y="644.8" width="7" height="12.6" fill="#c8102e"/>
<rect x="351.2" y="641.75" width="7" height="3.04" fill="#36aee3"/>
<rect x="351.2" y="640.23" width="7" height="1.52" fill="#1b4f8a"/>
<rect x="359" y="656.31" width="7" height="1.09" fill="#c8102e"/>
<rect x="359" y="641.75" width="7" height="14.56" fill="#36aee3"/>
<rect x="366.8" y="643.28" width="7" height="14.12" fill="#c8102e"/>
<rect x="374.6" y="647.62" width="7" height="9.78" fill="#c8102e"/>
<rect x="374.6" y="644.8" width="7" height="2.82" fill="#36aee3"/>
<rect x="374.6" y="643.28" width="7" height="1.52" fill="#1b4f8a"/>
<rect x="382.4" y="643.06" width="7" height="14.34" fill="#c8102e"/>
<rect x="390.2" y="654.79" width="7" height="2.61" fill="#c8102e"/>
<rect x="390.2" y="651.97" width="7" height="2.82" fill="#36aee3"/>
<rect x="390.2" y="645.01" width="7" height="6.95" fill="#f4b8c4"/>
<rect x="398" y="646.53" width="7" height="10.87" fill="#c8102e"/>
<rect x="398" y="645.67" width="7" height="0.87" fill="#f4b8c4"/>
<rect x="405.8" y="649.14" width="7" height="8.26" fill="#c8102e"/>
<rect x="405.8" y="645.01" width="7" height="4.13" fill="#36aee3"/>
<rect x="413.6" y="646.32" width="7" height="11.08" fill="#c8102e"/>
<rect x="413.6" y="645.01" width="7" height="1.3" fill="#36aee3"/>
<rect x="421.4" y="649.14" width="7" height="8.26" fill="#c8102e"/>
<rect x="421.4" y="647.84" width="7" height="1.3" fill="#36aee3"/>
<rect x="421.4" y="645.01" width="7" height="2.82" fill="#f4b8c4"/>
<rect x="429.2" y="647.84" width="7" height="9.56" fill="#c8102e"/>
<rect x="429.2" y="647.4" width="7" height="0.43" fill="#36aee3"/>
<rect x="429.2" y="646.53" width="7" height="0.87" fill="#1b4f8a"/>
<rect x="437" y="649.14" width="7" height="8.26" fill="#c8102e"/>
<rect x="437" y="646.53" width="7" height="2.61" fill="#36aee3"/>
<rect x="444.8" y="647.84" width="7" height="9.56" fill="#c8102e"/>
<rect x="452.6" y="651.97" width="7" height="5.43" fill="#c8102e"/>
<rect x="452.6" y="651.32" width="7" height="0.65" fill="#f4b8c4"/>
<rect x="460.4" y="650.88" width="7" height="6.52" fill="#c8102e"/>
<rect x="468.2" y="652.4" width="7" height="5" fill="#c8102e"/>
<rect x="476" y="652.4" width="7" height="5" fill="#c8102e"/>
<line x1="46" y1="657.4" x2="483.8" y2="657.4" stroke="#111" stroke-width="1"/>
<text transform="translate(52.7 661.6) rotate(-90) scale(0.9 1)" font-size="7.7" text-anchor="end" font-style="italic" fill="#231f20" stroke="#231f20" stroke-width="0.1">CARD11</text>
<text transform="translate(60.5 661.6) rotate(-90) scale(0.9 1)" font-size="7.7" text-anchor="end" font-style="italic" fill="#231f20" stroke="#231f20" stroke-width="0.1">PLCG1</text>
<text transform="translate(68.3 661.6) rotate(-90) scale(0.9 1)" font-size="7.7" text-anchor="end" fill="#231f20" stroke="#231f20" stroke-width="0.1">CCR4</text>
<text transform="translate(76.1 661.6) rotate(-90) scale(0.9 1)" font-size="7.7" text-anchor="end" font-style="italic" fill="#cf2d4d" stroke="#cf2d4d" stroke-width="0.1">CIC</text>
<text transform="translate(83.9 661.6) rotate(-90) scale(0.9 1)" font-size="7.7" text-anchor="end" font-style="italic" fill="#231f20" stroke="#231f20" stroke-width="0.1">PRKCB</text>
<text transform="translate(91.7 661.6) rotate(-90) scale(0.9 1)" font-size="7.7" text-anchor="end" fill="#231f20" stroke="#231f20" stroke-width="0.1">TBL1XR1</text>
<text transform="translate(99.5 661.6) rotate(-90) scale(0.9 1)" font-size="7.7" text-anchor="end" font-style="italic" fill="#231f20" stroke="#231f20" stroke-width="0.1">ARID2</text>
<text transform="translate(107.3 661.6) rotate(-90) scale(0.9 1)" font-size="7.7" text-anchor="end" fill="#231f20" stroke="#231f20" stroke-width="0.1">CDKN2A</text>
<text transform="translate(115.1 661.6) rotate(-90) scale(0.9 1)" font-size="7.7" text-anchor="end" font-style="italic" fill="#231f20" stroke="#231f20" stroke-width="0.1">TP53</text>
<text transform="translate(122.9 661.6) rotate(-90) scale(0.9 1)" font-size="7.7" text-anchor="end" font-style="italic" fill="#231f20" stroke="#231f20" stroke-width="0.1">IKZF2</text>
<text transform="translate(130.7 661.6) rotate(-90) scale(0.9 1)" font-size="7.7" text-anchor="end" font-style="italic" fill="#231f20" stroke="#231f20" stroke-width="0.1">STAT3</text>
<text transform="translate(138.5 661.6) rotate(-90) scale(0.9 1)" font-size="7.7" text-anchor="end" fill="#231f20" stroke="#231f20" stroke-width="0.1">GATA3</text>
<text transform="translate(146.3 661.6) rotate(-90) scale(0.9 1)" font-size="7.7" text-anchor="end" font-style="italic" fill="#231f20" stroke="#231f20" stroke-width="0.1">ATXN1</text>
<text transform="translate(154.1 661.6) rotate(-90) scale(0.9 1)" font-size="7.7" text-anchor="end" fill="#231f20" stroke="#231f20" stroke-width="0.1">SYNCRIP</text>
<text transform="translate(161.9 661.6) rotate(-90) scale(0.9 1)" font-size="7.7" text-anchor="end" font-style="italic" fill="#231f20" stroke="#231f20" stroke-width="0.1">IRF4</text>
<text transform="translate(169.7 661.6) rotate(-90) scale(0.9 1)" font-size="7.7" text-anchor="end" font-style="italic" fill="#231f20" stroke="#231f20" stroke-width="0.1">CD58</text>
<text transform="translate(177.5 661.6) rotate(-90) scale(0.9 1)" font-size="7.7" text-anchor="end" font-style="italic" fill="#231f20" stroke="#231f20" stroke-width="0.1">VAV1</text>
<text transform="translate(185.3 661.6) rotate(-90) scale(0.9 1)" font-size="7.7" text-anchor="end" font-style="italic" fill="#231f20" stroke="#231f20" stroke-width="0.1">HLA-A</text>
<text transform="translate(193.1 661.6) rotate(-90) scale(0.9 1)" font-size="7.7" text-anchor="end" fill="#231f20" stroke="#231f20" stroke-width="0.1">NOTCH1</text>
<text transform="translate(200.9 661.6) rotate(-90) scale(0.9 1)" font-size="7.7" text-anchor="end" font-style="italic" fill="#231f20" stroke="#231f20" stroke-width="0.1">POT1</text>
<text transform="translate(208.7 661.6) rotate(-90) scale(0.9 1)" font-size="7.7" text-anchor="end" font-style="italic" fill="#231f20" stroke="#231f20" stroke-width="0.1">TP73</text>
<text transform="translate(216.5 661.6) rotate(-90) scale(0.9 1)" font-size="7.7" text-anchor="end" fill="#231f20" stroke="#231f20" stroke-width="0.1">CBLB</text>
<text transform="translate(224.3 661.6) rotate(-90) scale(0.9 1)" font-size="7.7" text-anchor="end" font-style="italic" fill="#231f20" stroke="#231f20" stroke-width="0.1">FAS</text>
<text transform="translate(232.1 661.6) rotate(-90) scale(0.9 1)" font-size="7.7" text-anchor="end" font-style="italic" fill="#231f20" stroke="#231f20" stroke-width="0.1">HLA-B</text>
<text transform="translate(239.9 661.6) rotate(-90) scale(0.9 1)" font-size="7.7" text-anchor="end" fill="#231f20" stroke="#231f20" stroke-width="0.1">CD28</text>
<text transform="translate(247.7 661.6) rotate(-90) scale(0.9 1)" font-size="7.7" text-anchor="end" fill="#231f20" stroke="#231f20" stroke-width="0.1">GPR183</text>
<text transform="translate(255.5 661.6) rotate(-90) scale(0.9 1)" font-size="7.7" text-anchor="end" font-style="italic" fill="#231f20" stroke="#231f20" stroke-width="0.1">CCR7</text>
<text transform="translate(263.3 661.6) rotate(-90) scale(0.9 1)" font-size="7.7" text-anchor="end" font-style="italic" fill="#231f20" stroke="#231f20" stroke-width="0.1">EP300</text>
<text transform="translate(271.1 661.6) rotate(-90) scale(0.9 1)" font-size="7.7" text-anchor="end" font-style="italic" fill="#cf2d4d" stroke="#cf2d4d" stroke-width="0.1">REL</text>
<text transform="translate(278.9 661.6) rotate(-90) scale(0.9 1)" font-size="7.7" text-anchor="end" font-style="italic" fill="#231f20" stroke="#231f20" stroke-width="0.1">RHOA</text>
<text transform="translate(286.7 661.6) rotate(-90) scale(0.9 1)" font-size="7.7" text-anchor="end" fill="#231f20" stroke="#231f20" stroke-width="0.1">CD274</text>
<text transform="translate(294.5 661.6) rotate(-90) scale(0.9 1)" font-size="7.7" text-anchor="end" font-style="italic" fill="#231f20" stroke="#231f20" stroke-width="0.1">TRAF3</text>
<text transform="translate(302.3 661.6) rotate(-90) scale(0.9 1)" font-size="7.7" text-anchor="end" fill="#231f20" stroke="#231f20" stroke-width="0.1">CSNK2B</text>
<text transform="translate(310.1 661.6) rotate(-90) scale(0.9 1)" font-size="7.7" text-anchor="end" font-style="italic" fill="#231f20" stroke="#231f20" stroke-width="0.1">TET2</text>
<text transform="translate(317.9 661.6) rotate(-90) scale(0.9 1)" font-size="7.7" text-anchor="end" fill="#231f20" stroke="#231f20" stroke-width="0.1">BCL11B</text>
<text transform="translate(325.7 661.6) rotate(-90) scale(0.9 1)" font-size="7.7" text-anchor="end" font-style="italic" fill="#cf2d4d" stroke="#cf2d4d" stroke-width="0.1">ITGB1</text>
<text transform="translate(333.5 661.6) rotate(-90) scale(0.9 1)" font-size="7.7" text-anchor="end" font-style="italic" fill="#cf2d4d" stroke="#cf2d4d" stroke-width="0.1">XPO1</text>
<text transform="translate(341.3 661.6) rotate(-90) scale(0.9 1)" font-size="7.7" text-anchor="end" font-style="italic" fill="#cf2d4d" stroke="#cf2d4d" stroke-width="0.1">EEF1A1</text>
<text transform="translate(349.1 661.6) rotate(-90) scale(0.9 1)" font-size="7.7" text-anchor="end" font-style="italic" fill="#cf2d4d" stroke="#cf2d4d" stroke-width="0.1">ZNF292</text>
<text transform="translate(356.9 661.6) rotate(-90) scale(0.9 1)" font-size="7.7" text-anchor="end" fill="#231f20" stroke="#231f20" stroke-width="0.1">IRF2BP2</text>
<text transform="translate(364.7 661.6) rotate(-90) scale(0.9 1)" font-size="7.7" text-anchor="end" font-style="italic" fill="#231f20" stroke="#231f20" stroke-width="0.1">PDCD1</text>
<text transform="translate(372.5 661.6) rotate(-90) scale(0.9 1)" font-size="7.7" text-anchor="end" font-style="italic" fill="#cf2d4d" stroke="#cf2d4d" stroke-width="0.1">KLF2</text>
<text transform="translate(380.3 661.6) rotate(-90) scale(0.9 1)" font-size="7.7" text-anchor="end" fill="#231f20" stroke="#231f20" stroke-width="0.1">PIK3CD</text>
<text transform="translate(388.1 661.6) rotate(-90) scale(0.9 1)" font-size="7.7" text-anchor="end" font-style="italic" fill="#231f20" stroke="#231f20" stroke-width="0.1">ZFP36L2</text>
<text transform="translate(395.9 661.6) rotate(-90) scale(0.9 1)" font-size="7.7" text-anchor="end" fill="#231f20" stroke="#231f20" stroke-width="0.1">HNRNPA2B1</text>
<text transform="translate(403.7 661.6) rotate(-90) scale(0.9 1)" font-size="7.7" text-anchor="end" fill="#231f20" stroke="#231f20" stroke-width="0.1">PRDM1</text>
<text transform="translate(411.5 661.6) rotate(-90) scale(0.9 1)" font-size="7.7" text-anchor="end" fill="#231f20" stroke="#231f20" stroke-width="0.1">RLTPR</text>
<text transform="translate(419.3 661.6) rotate(-90) scale(0.9 1)" font-size="7.7" text-anchor="end" font-style="italic" fill="#cf2d4d" stroke="#cf2d4d" stroke-width="0.1">SMARCB1</text>
<text transform="translate(427.1 661.6) rotate(-90) scale(0.9 1)" font-size="7.7" text-anchor="end" font-style="italic" fill="#cf2d4d" stroke="#cf2d4d" stroke-width="0.1">WDFY4</text>
<text transform="translate(434.9 661.6) rotate(-90) scale(0.9 1)" font-size="7.7" text-anchor="end" fill="#231f20" stroke="#231f20" stroke-width="0.1">CSNK2A1</text>
<text transform="translate(442.7 661.6) rotate(-90) scale(0.9 1)" font-size="7.7" text-anchor="end" fill="#231f20" stroke="#231f20" stroke-width="0.1">YTHDF2</text>
<text transform="translate(450.5 661.6) rotate(-90) scale(0.9 1)" font-size="7.7" text-anchor="end" font-style="italic" fill="#231f20" stroke="#231f20" stroke-width="0.1">FYN</text>
<text transform="translate(458.3 661.6) rotate(-90) scale(0.9 1)" font-size="7.7" text-anchor="end" font-style="italic" fill="#cf2d4d" stroke="#cf2d4d" stroke-width="0.1">DPF2</text>
<text transform="translate(466.1 661.6) rotate(-90) scale(0.9 1)" font-size="7.7" text-anchor="end" font-style="italic" fill="#cf2d4d" stroke="#cf2d4d" stroke-width="0.1">FRMPD2</text>
<text transform="translate(473.9 661.6) rotate(-90) scale(0.9 1)" font-size="7.7" text-anchor="end" fill="#231f20" stroke="#231f20" stroke-width="0.1">CEBPA</text>
<text transform="translate(481.7 661.6) rotate(-90) scale(0.9 1)" font-size="7.7" text-anchor="end" font-style="italic" fill="#231f20" stroke="#231f20" stroke-width="0.1">S1PR1</text>
<rect x="0.55" y="0.55" width="518.9" height="709.9" fill="none" stroke="#000" stroke-width="1.3"/>
</svg>
</body></html>
